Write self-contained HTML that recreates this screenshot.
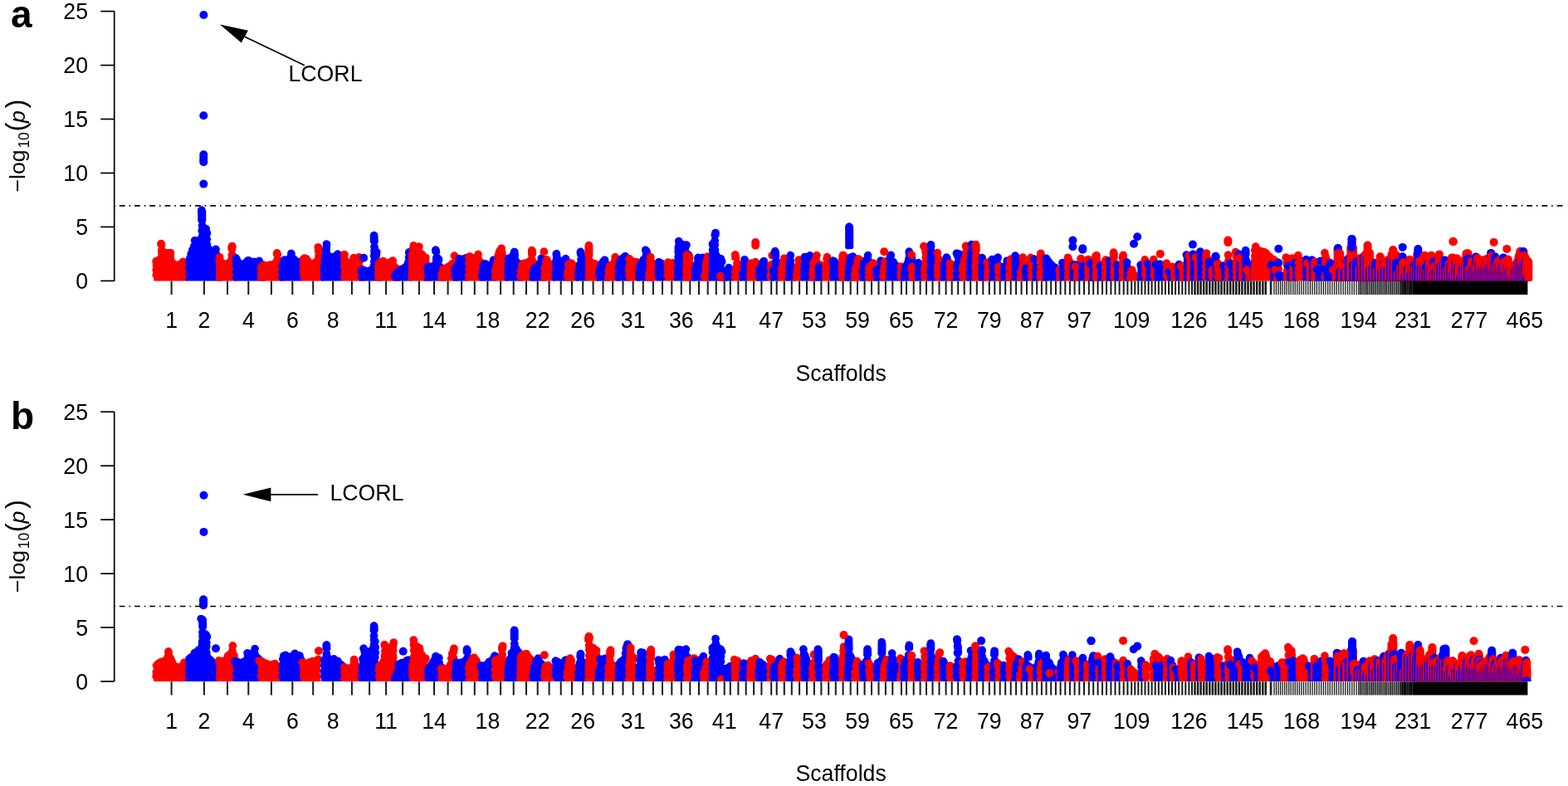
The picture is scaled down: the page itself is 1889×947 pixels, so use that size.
<!DOCTYPE html>
<html><head><meta charset="utf-8"><title>Manhattan plot</title>
<style>html,body{margin:0;padding:0;background:#fff;}svg{display:block}</style></head>
<body><svg width="1889" height="947" viewBox="0 0 1889 947" font-family='"Liberation Sans", Arial, Helvetica, sans-serif' fill="#000">
<defs><clipPath id="clipP"><rect x="138" y="0" width="1745" height="338.4"/></clipPath></defs>
<rect width="1889" height="947" fill="#fff"/>
<g transform="translate(0,0)">
<text x="13" y="32.8" font-size="46" font-weight="bold">a</text>
<path d="M137.7,338.4V13.5" stroke="#000" stroke-width="1.7" fill="none"/>
<path d="M121.2,338.4H137.7" stroke="#000" stroke-width="1.7"/>
<text transform="translate(106,348) scale(1,1.06)" text-anchor="end" font-size="26.7">0</text>
<path d="M121.2,273.4H137.7" stroke="#000" stroke-width="1.7"/>
<text transform="translate(106,283.1) scale(1,1.06)" text-anchor="end" font-size="26.7">5</text>
<path d="M121.2,208.5H137.7" stroke="#000" stroke-width="1.7"/>
<text transform="translate(106,218.1) scale(1,1.06)" text-anchor="end" font-size="26.7">10</text>
<path d="M121.2,143.5H137.7" stroke="#000" stroke-width="1.7"/>
<text transform="translate(106,153.1) scale(1,1.06)" text-anchor="end" font-size="26.7">15</text>
<path d="M121.2,78.6H137.7" stroke="#000" stroke-width="1.7"/>
<text transform="translate(106,88.2) scale(1,1.06)" text-anchor="end" font-size="26.7">20</text>
<path d="M121.2,13.6H137.7" stroke="#000" stroke-width="1.7"/>
<text transform="translate(106,23.2) scale(1,1.06)" text-anchor="end" font-size="26.7">25</text>
<g transform="translate(29.5,231) rotate(-90)" font-size="26.7"><text x="-0.5" y="0">&#8722;log</text><text x="52.4" y="5.2" font-size="17.5">10</text><text x="72.4" y="0" font-size="32.7">(</text><text x="83" y="0" font-style="italic">p</text><text x="100.5" y="0" font-size="32.7">)</text></g>
<g clip-path="url(#clipP)">
<path d="M183.9,317.9L183.5,320L184.2,322.1L183.3,325.5L184.3,328.3L183.4,331.6L184,333.4L185.2,335.1L185.2,342L185.9,343.7L187.6,344.4L222.9,344.4L224.7,343.7L225.3,342.4L225.3,337.6L227,334.2L226.8,332.4L226,330.7L227,328.1L226.3,325.2L227.1,322.9L226.5,320L227.2,316.8L226.7,315L223.8,311.5L221.1,310.4L218.4,310.9L216.9,312.1L215.9,313.7L212.9,314.8L210.6,312.8L209.7,309.8L210.3,305.1L209.8,302.3L208.6,300.8L206.9,299.9L199.9,300L198.4,297.8L199.4,295.9L199.1,293.1L197.8,290.5L196.3,289.3L194.4,288.8L192.5,289L190.8,289.9L189.6,291.4L189.1,293.3L189.3,295.8L190.9,298.2L189.9,300.9L190.4,307.7L188.8,309.6L185.9,310.2L183.8,312.3L183.3,315Z" fill="#ff0000"/>
<path d="M224,310.2L223.4,317.2L224.4,319.8L223.4,321.7L223.2,323.6L224.5,326.7L223.2,329.8L224.2,333.2L223.4,336.4L223.9,338.2L225.1,339.7L225.2,342.4L225.9,343.7L227.6,344.4L265.5,344.4L267.2,343.7L267.9,342L267.9,335L269.1,333.3L269.6,331.5L269.4,329.7L267.9,327.3L269,325.8L269.6,324.1L268.7,320.8L269.8,318L269.6,316.1L267,312.7L265.7,309.9L265.3,304.9L264.3,303L265,300L263.8,297.3L262.3,296.1L259.6,295.5L257.8,296.1L256,297.6L254.1,296L254,293.2L253.1,291.4L253.9,289.6L254.1,287.8L252.9,284.8L254.1,282.6L254.1,279.6L252.9,277.4L253,275.4L252.5,273.6L251.3,272.1L248.5,270.7L247.2,268.6L248.3,266.5L248.2,254.1L246.7,250L244.4,248.5L242.5,248.3L239.7,249.4L238.5,250.9L238,252.7L238.3,266.3L238.7,267.7L239.9,268.5L238.6,271.5L239.5,274.9L238.6,276.6L238.4,278.6L239.7,281.8L238,285.7L235.1,284.7L233.1,284.9L231.5,285.9L230.3,287.4L229.7,290.1L230.7,292.6L229.3,294.8L229.1,296.8L227.2,299.5L227,302L225.4,304.4L225.5,307.8Z" fill="#0000ff"/>
<path d="M260.2,317L259.7,319.4L260.5,321.8L259.7,325L260.6,327.6L259.6,330.4L259.8,332.3L260.5,333.8L259.8,336.9L260.3,338.6L261.3,340L261.5,342.6L262.1,343.7L263.8,344.4L283.3,344.4L285,343.7L285.7,342L285.7,336.2L287,334.4L287.5,332.5L287.3,330.7L286.4,328.9L287.6,326L287,323.1L287.7,320L286.4,317L287.4,315L287.6,313.1L287.1,311.2L284.6,308.4L284.1,305.1L282.8,302.9L284.1,301.8L284.6,297L284.1,294.3L282.9,292.8L281.2,291.9L278.3,291.9L276.6,292.8L274.9,295L274.4,297.1L274.3,300.8L275.1,302.5L276,302.9L274.5,306.2L274.9,308.9L274.3,312.1L271.8,313.5L270.4,313.3L269.3,311.9L269.2,308.2L268.3,306.5L266,305L263,305L261.3,305.9L259.8,308.2L259.4,314.1Z" fill="#ff0000"/>
<path d="M280,313.7L279.9,315.7L280.5,317.8L279.9,320.7L281.4,324L280.3,325.5L279.8,327.3L280,329.3L281.1,331.3L280.2,333.1L280,334.9L280.5,336.7L281.7,338.2L281.8,342.4L282.4,343.7L284.1,344.4L316.9,344.4L318.7,343.7L319.4,342L319.4,336.2L320.5,334.5L321.1,332.7L320.2,329.4L321.1,326.9L320.5,324L321.3,321.6L321.3,318.7L320.1,315.9L317.2,314.2L316.5,312.1L315.3,310.6L313.6,309.7L311.7,309.5L308.5,311L306.9,310.6L304.6,310.9L300.3,309.1L298.4,308.9L295.6,310L292.5,313.4L290.8,313.4L288,307.8L285.7,306.3L283.8,306.1L281,307.2L279.8,308.7L279.3,311.4Z" fill="#0000ff"/>
<path d="M311.1,326.1L309.6,329.4L309.8,331.3L310.6,333L309.9,336.2L310.4,337.9L311.5,339.4L311.6,342.4L312.3,343.7L314,344.4L337.9,344.4L339.6,343.7L340.4,341.1L341.7,339.4L342.3,337.6L342,335.7L340.7,333.4L341.7,332L342.3,330.1L342.1,328.2L341,326.2L342,324.2L342.3,322.2L340.9,319.1L341.8,317.2L342,315.4L341.5,313.6L339.1,311.4L338.1,309.4L338.9,307.9L339,306.3L338.4,303.4L337.5,301.7L336,300.5L334.2,300L331.5,300.5L330,301.7L329,303.4L328.8,305.3L329.2,307.9L330.3,309.4L329.1,313L326.7,314.5L324.3,314.2L321.3,315.5L318.5,314.4L316.5,314.6L311.9,317.9L310.1,320L309.6,321.9L309.8,323.9Z" fill="#ff0000"/>
<path d="M336.5,323.9L335.1,327.2L335.3,329.2L336.1,330.8L335.3,332.4L335.1,334.3L335.7,336.1L336.9,337.7L337,342.4L337.7,343.7L339.4,344.4L360.8,344.4L362.5,343.7L363.1,342.4L363.2,340L364.6,338.3L365.1,336.5L364.9,334.6L364,332.7L364.9,329.4L363.5,326.4L364.9,323.3L364.7,321.4L363.7,319.5L364.9,317.4L364.9,314.4L363.3,312.1L361.6,311.1L359.4,310.9L358.1,309.3L355.9,308.3L355.6,304L354.1,301.7L351.3,300.6L348.6,301.1L347.1,302.3L346.2,304L346.1,307.1L345.7,308.3L341.1,308.4L338.8,310L337.9,311.7L337.3,316.3L335.7,318.1L335.2,320L335.4,321.9Z" fill="#0000ff"/>
<path d="M362.1,316.1L361.1,317.5L360.5,319.3L361.4,322.7L360.6,326.1L361.4,328.5L360.8,330.5L361,332.3L362.4,334.8L362.4,342L363.1,343.7L364.8,344.4L387.5,344.4L389.2,343.7L389.9,342L389.9,336.5L391.3,334.6L391.8,332.8L390.9,329.4L391.6,326.4L390.7,323.9L391.6,320.6L390.5,317.8L391.4,316L391.6,314.2L391.1,312.4L389.9,310.9L389.6,308L388.1,305L388.8,302.7L388,299.4L388,296.4L387.1,294.7L384.8,293.2L382.9,293L380.1,294.1L378.9,295.6L378.4,297.5L379.1,301L378.8,303.2L379.9,305.5L379.2,307.7L379.4,309.7L377.8,312.2L375.9,312.7L373.9,310.7L372.9,308.7L371.4,307.5L367.2,306.3L365.3,306.5L362.3,308.4L360.7,310.8L360.7,313.8Z" fill="#ff0000"/>
<path d="M385.6,319.8L385.3,322.3L386,324.5L385.4,327.4L386.9,330.6L385.5,332.9L385.3,334.8L385.8,336.6L387.1,338.3L387.2,342.4L387.9,343.7L389.6,344.4L410.3,344.4L412.1,343.7L412.7,342L412.7,334.7L413.9,333L414.4,331.2L413.5,327.9L414.4,326.1L414.6,324.1L413.5,321.2L414.5,318.6L414.3,316.8L413.5,315.1L414.6,312.3L414.4,310.4L413.5,308.8L411.6,307.3L411.5,304.7L410.6,303L408.3,301.4L406.4,301.2L404.5,301.8L401.3,305.1L399,304.8L397.8,303.4L398.2,292.6L397.2,290.9L394.9,289.4L393,289.2L391.2,289.7L389.7,290.9L388.7,292.6L388.8,295.9L387.7,301.3L388.3,304.3L387.1,307.4L387.8,310.4L386.3,313.6L387.2,316.9Z" fill="#0000ff"/>
<path d="M410,307.5L411,309.6L410.1,312.9L410.5,316.7L411.2,318.3L410.2,320.2L410,322.1L411.6,325.5L410.3,328.4L411,331.4L410.2,334.5L410.7,336.3L411.9,337.9L412,342.4L412.7,343.7L414.4,344.4L437.2,344.4L438.9,343.7L439.5,342.4L439.6,337.3L441.3,333.9L441.1,332L440.1,330.2L441.3,328.1L441.5,326.2L440.9,324.4L438.8,322.2L438.2,320.3L436.6,318.4L437.6,315.9L437.6,311L437.3,308.5L436.3,306.8L434.8,305.6L433,305.1L431.1,305.3L428.9,306.6L426.5,305.8L424.6,306L422.9,306.9L421.7,308.4L421,312L419.9,311.4L419.1,309.6L419.9,307.1L419.4,304.4L417.3,302.3L414.6,301.7L412.7,302.3L411.1,303.6L410.2,305.1Z" fill="#ff0000"/>
<path d="M430.9,333.7L432.6,337.1L432.6,342.6L433.2,343.7L434.4,344.3L458.2,344.4L460,343.7L460.6,342.6L460.7,337L462,335.2L462.5,333.4L462.3,331.5L461.4,329.7L462.3,327.3L461.5,324.2L462.5,321.5L462.6,317.7L462,315.9L460.8,314.4L456.4,312.6L457.8,308.9L458.6,303.2L458.1,301.4L456.1,299.4L455.6,295.9L454.5,293.8L455.6,292.7L455.8,291.8L455.3,282.1L454.4,280.4L452.1,278.9L450.2,278.7L447.5,279.8L446.3,281.3L445.7,283.2L445.8,291.7L446,292.6L447.4,293.8L446,296.9L446.8,300.1L446,302.4L446.6,305.3L445.8,308.6L447,312L445.9,314.9L446.4,317.7L445.3,321.1L442.3,322.3L440.3,321.1L435.1,320.6L433.3,321.1L431.8,322.3L430.9,324L430.7,327.6L431.8,330.5Z" fill="#0000ff"/>
<path d="M451.9,319.2L450.9,321.8L451.1,323.7L452,325.4L450.9,328.1L451.1,329.9L451.9,331.5L451,334.8L451.5,336.6L452.6,338L452.7,342.4L453.3,343.7L455,344.4L479.3,344.4L481,343.7L481.7,342L481.7,335.3L482.9,333.5L483.5,331.7L483.3,329.9L482.5,328.3L483.5,326.4L483.7,323.5L482.5,320.7L479.2,318.7L477.7,317L477.9,312.7L476.4,310.4L474.7,309.5L472.8,309.3L470.9,309.8L467.7,312L466.1,312.3L463.9,310.3L462.1,309.8L457.5,310.8L452.7,314.1L451.6,316.9Z" fill="#ff0000"/>
<path d="M471.9,335.8L473.2,337.6L473.3,342.6L473.9,343.7L475,344.3L493.3,344.4L495.1,343.7L495.7,342.4L495.8,338.3L497,336.8L497.6,335L496.6,331.6L497.7,328.7L497.5,326.8L496.7,325.2L497.6,321.9L496.5,319.1L497.8,316L497,312.8L497.7,310.4L497.4,307.9L498.5,304.8L497.3,301.4L495,299.6L493.2,299L491.3,299.2L489.6,300.2L488.4,301.7L487.8,304.4L488.7,306.9L487.7,310L488.4,313L487,315.2L486.7,317L484.2,319.2L481.8,319.9L479.8,321.8L476.8,323.3L471.8,329.1L471.3,331L471.4,334Z" fill="#0000ff"/>
<path d="M492.1,320.7L491.5,324L492.3,326.3L491.4,329.6L492.4,332.3L491.5,334L491.3,335.9L491.9,337.8L493.2,339.4L493.3,342.4L493.9,343.7L495.7,344.4L517.4,344.4L519.2,343.7L519.8,342.4L519.9,338L521,336.5L521.6,334.7L521.4,332.9L520.5,331.2L521.5,328.6L521.3,326.8L520.5,325.1L521.8,321.5L521.5,319.5L520,317.2L517.5,315.9L517.2,314.3L517.7,310L516.7,307.4L515.2,306.2L513.2,305.6L511.9,302.9L508.7,300.9L509.7,297.6L509.5,295.6L508.6,294L507.1,292.8L504.4,292.2L502.2,292.9L500.6,291.6L497.8,291L495.1,292.1L493.9,293.7L492.8,300.3L493.4,303.1L492.2,304.7L491.6,306.4L492.5,309.7L491.6,312.1L491.8,313.9L492.6,315.5L491.6,318.1Z" fill="#ff0000"/>
<path d="M510.6,329.9L512.3,333.3L510.8,335.6L510.6,337.4L511.2,339.1L512.3,340.6L512.4,342.6L513,343.7L514.1,344.3L533.6,344.3L534.7,343.7L535.4,341.3L537.1,338.8L537.4,336.9L536.2,334L537.1,332.2L537.3,330.3L535.8,327.1L537.1,324.7L537.1,321.6L535.6,319.3L532.9,318.1L532.1,316.6L533.3,314.2L533.3,311.2L532.4,309.5L529.2,306.3L530.2,304.4L529.9,300.7L528.6,298L526.3,296.4L524.4,296.2L522.6,296.8L521.1,298L520.2,299.7L519.9,301.6L520.6,305.5L522.5,306.5L521,309.7L521,315.2L518.7,317.2L515.7,316.5L513,317L511.5,318.2L510.6,319.9L510.3,323.9L511.4,326.7Z" fill="#0000ff"/>
<path d="M527.1,336L528.9,339.5L528.9,342.6L529.5,343.7L530.7,344.3L550,344.4L551.8,343.7L552.4,342.4L552.5,337.8L553.8,336.2L554.3,334.4L554.1,332.5L553.2,330.7L554.1,328.8L554.3,326.9L553.2,324L553.9,322.5L554.4,318.8L553.8,316.9L552.6,315.4L550.9,314.5L548.8,314.2L547.2,313.2L548.9,312.9L550.6,311.9L552.1,309.7L552.3,307.7L551.8,305.9L549.7,303.8L547.9,303.3L545.9,303.5L544.3,304.4L543.1,305.9L542.5,307.7L542.7,309.7L543.7,311.3L545.3,312.6L543.6,312.9L541.7,313.9L540.2,316L536.8,317.8L535.3,319.5L532.3,319.5L530.7,320.4L529.6,321.8L529.1,323.6L529.4,326.1L527.7,328.2L527.1,330L527.8,333Z" fill="#ff0000"/>
<path d="M543.6,325.4L544.8,328.7L543.7,330.7L543.5,332.6L544.1,334.5L545.4,336.3L545.4,342L546.1,343.7L547.8,344.4L561.6,344.4L563.3,343.7L564,342L564,336.8L565.2,335L565.7,333.2L565.5,331.4L564.8,329.8L565.7,328.1L565.9,326.2L564.6,323.1L565.6,321.2L565.8,319.3L564.6,316.2L565.4,314.5L565.9,310.6L564.8,307.8L562.5,306.3L560.5,306.1L556.6,307.7L553,306.8L550.3,307.9L548.7,310.2L548.2,314.7L548.4,316.8L546.4,318.4L544,321.7L543.5,323.5Z" fill="#0000ff"/>
<path d="M560.2,311L561.3,314.3L560.5,315.8L560.3,317.6L560.9,319.4L561.9,320.8L560.8,322.3L560.3,324L560.5,325.8L561.8,328L560.6,329.6L560,331.5L560.7,334.6L560.2,337.4L560.7,339.2L561.9,340.7L562.1,342.6L562.7,343.7L564.4,344.4L581.7,344.4L583.4,343.7L584,342.4L584.1,339.3L585.2,337.9L585.8,336.1L585.6,334.3L584.1,332L585.2,330.5L585.8,328.7L585.6,326.9L584.6,325.1L585.7,322.3L585.4,319.8L586,316.9L584.8,314.2L580.9,311.4L580.2,309.5L581,305.9L579.8,303.2L577.5,301.7L574.6,301.7L572.3,303.2L571,306.2L570.4,306.6L569.2,305.2L567.5,304.3L564.5,304.3L561.8,305.7L560.6,307.2L560.1,309.1Z" fill="#ff0000"/>
<path d="M576,333.5L577.7,337L577.7,342.6L578.3,343.7L579.4,344.3L595.7,344.4L597.4,343.7L598.1,342L598.1,335.9L599.3,334.2L599.8,332.4L599.1,329.3L599.9,326.2L599.1,323.9L600.1,321.3L599.5,312.8L599,310.9L597.8,309.4L596.1,308.5L593.1,308.5L591.4,309.4L590.2,310.9L589.4,314.9L586.1,313.3L584.1,313.1L580.5,314.5L578.3,317L577.2,319.8L578,323.2L576.7,324.9L576.2,326.7L577,330L576.2,331.6Z" fill="#0000ff"/>
<path d="M591.7,334.2L593.3,337.6L593.3,342.6L593.9,343.7L595,344.3L609.7,344.4L611,343.7L611.6,342.6L611.7,339.5L612.8,338.1L613.3,336.3L613.1,334.5L611.9,332.4L613.2,330.2L613.4,328.4L612.9,326.6L611.7,325.1L612.8,323.7L613.4,321.9L612.6,318.7L613.5,315.4L612.1,312.3L611.7,308.8L609.5,306.6L609.6,304.2L608.7,301.1L608.8,297.7L607.9,296L605.6,294.4L602.7,294.4L601,295.4L597,301.4L596.8,303.8L595.8,305.7L595.2,309.6L596,312.7L594.8,314.7L594.4,317.7L593.1,320.4L592.9,323.7L591.6,326.7L591.8,328.6L592.8,330.5L591.9,332.3Z" fill="#ff0000"/>
<path d="M607.1,335.8L608.8,339.3L608.8,342.6L609.4,343.7L611.1,344.4L626.9,344.3L628,343.7L628.8,341.1L630.4,338.7L630.4,335.7L628.9,333.4L629.9,332L630.4,330.2L630.2,328.4L629.3,326.5L630.4,323.6L630.2,321.7L629,319.6L629.5,317.8L629.3,315.9L627.8,313.7L625.7,312.6L624.6,310.6L624.9,307.8L624.4,302L623.5,300.3L621.2,298.7L618.2,298.7L616.5,299.7L615.3,301.2L614.5,304.6L613.7,306L610.1,307.3L607.8,310.9L607.6,312.9L608.4,315.3L607.4,318L608.1,321.1L607.3,324.4L608.2,326.8L607.2,329.4L608,332.5Z" fill="#0000ff"/>
<path d="M623.5,323L622.8,327.3L623.4,329.4L622.6,330.9L622.4,332.9L623,334.7L624.2,336.5L623.9,341.9L624.6,343.7L626.3,344.4L645.4,344.4L647.1,343.7L647.8,342L647.8,335.3L649,333.5L649.5,331.7L649.3,329.9L648.6,328.3L649.4,325.9L648.8,322.9L649.8,320.2L649.7,317.9L648.5,315.2L645.8,312.8L644.3,309.1L645.6,308.3L646.1,306.9L646.1,303.4L645.5,300.2L643.9,297.9L642.2,296.9L640.3,296.7L638.5,297.3L637,298.5L635.8,301.2L636.1,307.4L636.7,309.3L634.5,311.8L628.7,312.9L626.4,314.4L624.4,317.9L624.2,319.8L624.6,321.5Z" fill="#ff0000"/>
<path d="M637.4,336.7L638.9,339.3L638.9,342.5L639.5,343.7L640.6,344.3L654.3,344.4L655.6,343.7L656.2,342.6L656.4,341.1L657.6,339.5L658.1,337.7L657.5,334.7L658.1,331.8L656.6,328.7L657.7,327.3L658.2,325.4L658,323.5L657,321.4L658.3,318.3L657.7,315.3L658.2,312.5L656.7,308.9L654.6,306.8L652.7,306.3L650.8,306.5L648.5,308L647.4,310.7L647.6,314.1L646.5,315.1L645.4,317.3L642.9,317.9L641.3,319.1L639.2,322.5L637.3,327.9L637.5,329.8L638.5,331.8L637.2,334.9Z" fill="#0000ff"/>
<path d="M652.9,342.6L653.5,343.7L654.8,344.4L665,344.3L666.1,343.7L666.8,342.6L666.9,340.7L668.3,339L668.8,337.1L668.6,335.2L667.6,333.2L668.6,330.5L667.8,327.4L668.5,324.3L667.3,321.4L668.1,318.9L667.9,317L666.4,314.8L664.3,313.7L662.4,309.7L660.9,308.5L659.1,307.9L656.4,308.1L654.3,310.6L653.2,316.5L653.4,318.7L652.1,320.3L651.5,322.1L651.7,323.9L652.7,325.8L651.5,328.6L652.2,331.7L651.4,333.3L651.2,335.2L651.7,337L652.9,338.8ZM654.9,308.1L658.5,306.9L659.7,305.4L660.2,303.6L660,301.7L659.1,300L657.6,298.8L655.7,298.2L653.8,298.4L652.1,299.4L650.9,300.9L650.4,302.7L650.6,304.6L651.5,306.3L653,307.5Z" fill="#ff0000"/>
<path d="M665.5,312.3L664.9,315.2L665.9,317.9L665.1,319.6L664.9,321.4L666.1,324.3L665,325.7L664.5,327.6L664.7,329.5L665.5,331.2L664.7,332.9L664.5,334.7L666,337.8L666,342.4L666.6,343.7L668.4,344.4L685,344.4L686.7,343.7L687.4,342.4L687.5,339.6L688.6,338.1L689.1,336.3L688.9,334.5L687.6,332.3L688.8,330.8L689.3,328.9L689.1,327L688.3,325.4L689,322.3L688.2,320L689.1,318.3L689.3,316.4L688.2,313.6L686.4,312.1L686.1,310.2L685.2,308.5L682.9,307L681,306.8L678.2,307.9L676.4,310.2L675.6,309.5L675,304.2L674.1,302.5L671.8,301L669.9,300.7L667.2,301.9L665.6,304.2L665.4,306.1L666.1,311.1Z" fill="#0000ff"/>
<path d="M680,324.3L678.9,328.3L678.9,332.9L680.4,336.3L680.1,341.9L680.7,343.7L682.5,344.4L693,344.4L694.7,343.7L695.3,342.6L695.5,340.8L696.6,339.3L697.1,337.5L696.9,335.7L695.8,333.7L697.2,330.6L697,328.8L695.6,326.6L696.7,325.1L697.2,323.3L697.3,320.4L696.2,317.7L693.5,315.7L691.6,313.4L689.9,312.5L688,312.3L684.2,313.1L681.3,315.6L680.4,317.3L680.1,319.5L681.4,322.6Z" fill="#ff0000"/>
<path d="M692.5,331.1L691.9,334.8L692.4,336.6L693.7,338.3L693.6,342.3L694.2,343.7L696,344.4L703.5,344.4L705.3,343.7L705.9,342.6L706,340.5L707.4,338.8L707.9,336.9L707.7,334.9L706.5,332.8L707.6,330.7L707.9,328.8L707.3,327L706.3,325.5L707.4,324.1L707.9,322.2L707.7,320.2L706.9,318.6L707.6,315.5L706.3,312.5L707.7,310.3L707.9,308.4L706.7,305.6L704.6,303.9L703.2,300.2L700.9,298.6L699,298.4L697.2,299L695.7,300.2L694.7,301.9L694.5,303.8L695,307.2L696,309.9L695.2,312.3L695.5,314.8L694.1,317L694,319.6L692.6,322.7L693.2,325.7L692.1,328.6Z" fill="#0000ff"/>
<path d="M704.4,308.2L704.8,309.5L706.1,310.3L704.9,313.3L705.4,316.3L704.8,319.2L705.6,321.6L705,323.5L705.5,326.1L704.6,328.6L705.4,331.9L704.7,335.1L705.2,337L706.5,338.6L706.6,342.6L707.2,343.7L708.5,344.4L719.7,344.3L720.8,343.7L721.4,342.6L721.5,338.6L723.1,335.2L722.9,333.4L722.2,331.8L723.1,330L723.3,328.2L722.7,326.4L721.6,324.9L723,322.7L723.4,318.4L722.9,316.5L721.7,315L716.9,312.7L714.7,312.4L713.5,310.5L714.4,308.5L714.4,295.2L713.2,292.5L711,290.9L709,290.7L707.2,291.3L705.7,292.5L704.8,294.1L704.4,297.4Z" fill="#ff0000"/>
<path d="M717.3,325.6L717,332.4L718.6,335.1L718.2,341.9L718.9,343.7L720.6,344.4L732.7,344.4L734.4,343.7L735.1,342L735.1,335.5L736.3,333.8L736.8,332L736.6,330.2L735.6,328.2L736.8,325.2L735.9,321.8L736.7,318.7L735.6,316.1L733.3,314.6L733.3,311.7L731.7,309.4L730,308.5L727.1,308.5L725.4,309.4L722.1,313.3L721,315.8L719.1,318.4L719,321.1Z" fill="#0000ff"/>
<path d="M728.8,333.8L728.1,337.7L728.6,339.5L729.7,341L730.4,343.7L732.1,344.4L744.2,344.4L745.9,343.7L746.6,342L746.6,335.8L747.8,334.1L748.3,332.3L748.1,330.5L747.1,328.5L748.5,325.3L748.3,323.4L747.3,321.3L748.5,318.2L748.5,313.4L748,311.5L746,309.1L745.5,307.4L743.4,305.3L740.7,304.8L737.9,305.9L736.4,308.2L736.4,313.1L735,315.1L732.5,315.8L730.4,317.9L729.7,320.8L729.9,323L728.5,326.1L729.3,329.5L728.5,331.8Z" fill="#ff0000"/>
<path d="M740.6,322.7L741.5,326.1L740.6,329.4L741.4,331.8L740.6,333.4L740.4,335.4L741,337.2L742.2,338.8L742.2,342.4L742.8,343.7L744.6,344.4L756.7,344.4L758.5,343.7L759.1,342.4L759.2,338.4L760.3,336.9L760.9,335.2L760.1,332.1L760.8,329.1L759.9,326.6L761,323.7L760.8,321.8L760,320L760.9,317.6L760.6,315.2L761.1,312.4L760.5,310.6L758.2,308.3L757.5,306.4L756.3,304.9L754.6,304L751.7,304L750,304.9L748.5,306.8L747,307.4L744.4,309.4L742.2,314.3L741.7,319.2Z" fill="#0000ff"/>
<path d="M753.7,318.6L753.1,327.6L753.8,329.9L753.2,332.7L754.9,336.2L754.7,341.9L755.4,343.7L757.1,344.4L768.3,344.4L770,343.7L770.7,342L770.7,335.5L771.9,333.8L772.4,332L771.6,328.8L772.5,327.1L772.7,325.1L771.5,322.2L772.4,319.7L772.6,315.5L771.5,312.8L769.2,311.2L763.6,310.6L761.3,307.9L759.6,307L757.7,306.8L755.9,307.3L753.8,309.4L753.2,311.2L753.4,313.2L754.9,316.5Z" fill="#ff0000"/>
<path d="M765.5,336L766.8,337.9L766.8,342.6L767.4,343.7L768.6,344.3L784.3,344.4L786.1,343.7L786.7,342.6L786.7,336.9L788.2,335L788.7,333.2L788.5,331.2L787.6,329.5L788.5,326.2L787.3,323.3L788.7,320.1L788,316.9L788.6,314L788.1,312.1L786.8,310.5L785.8,306.6L783.9,304.6L784,303.1L783.2,300.7L781.5,298.2L779.2,296.6L776.2,296.6L774.5,297.6L773.3,299.1L772.8,301.8L774,305.1L773.5,308.2L771.4,309.8L770.1,312.9L767.7,315.1L767.2,316.8L767.3,318.7L765.5,321.3L765.3,323.2L766.1,325.5L765.3,328.7L765.9,330.8L765,334.2Z" fill="#0000ff"/>
<path d="M777.4,328.9L777.5,338.2L778.9,340.4L778.9,342.5L779.5,343.7L781.3,344.4L787.8,344.4L789.6,343.7L790.2,342.4L790.3,338L791.6,336.3L792.1,334.5L791.3,331.3L791.9,328.4L790.8,325.6L792,322.6L792.2,318.5L791,315.8L788.6,313.9L788.3,312.2L788.6,309.2L788.1,307.4L786.9,305.9L785.2,305L783.3,304.8L781.5,305.3L780,306.5L779,308.2L778.3,317.3L779.3,319.8L778,322.8L778.6,325.8Z" fill="#ff0000"/>
<path d="M788.8,322.4L788.7,327.7L789.3,329.9L788.7,333L789.2,334.8L790.4,336.6L790.3,341.9L791,343.7L792.7,344.4L798.4,344.4L800.1,343.7L800.7,342.4L800.8,337.1L802.2,335.4L802.8,333.6L802.5,331.6L801.8,330.1L802.7,327.5L801.8,324.1L802.7,321.5L802.7,317.4L801.6,314.7L795.2,311L792.3,311L790.6,311.9L789.4,313.4L788.8,315.3L789.7,318.5Z" fill="#0000ff"/>
<path d="M799.5,315.5L799.4,319.3L800.4,321.1L799.5,324.4L801,327.5L799.8,329L799.2,330.8L799.4,332.7L801,335.2L800.9,342.6L801.5,343.7L802.8,344.4L811.5,344.3L812.6,343.7L813.2,342.6L813.4,339.4L814.8,337.7L815.3,335.8L814.5,332.6L815.1,329.7L813.9,326.8L815.3,323.6L814.5,320.2L815.7,317.1L815.2,314.4L814,312.9L812.3,312L810.4,311.8L808.2,312.5L806.3,311.5L804.4,311.3L802.5,311.8L801,313Z" fill="#ff0000"/>
<path d="M811.5,336.5L813,339.1L813,342.5L813.6,343.7L814.7,344.3L830.9,344.4L832.2,343.7L832.8,342.6L832.9,338.7L834.1,337.1L834.7,335.4L834.5,333.5L833.4,331.5L834.8,328.2L833.9,324.9L834.6,321.9L833.7,319.5L834.7,316.8L834.5,314.9L833.7,313.2L834.5,310.8L834.8,307.4L833.7,304.6L829.7,301.3L830.3,298.8L831.6,296.6L831.6,293.6L830.6,292L829.1,290.7L827.3,290.2L824.8,290.5L822.8,289.8L821,286.8L818.3,285.7L816.4,285.9L814.7,286.8L813.5,288.3L812.9,290.2L813.6,294.3L812.9,295.8L812.4,299.1L812.7,301.3L812.3,304L813.1,306.4L812.1,309.8L813.1,312.4L812.1,314.4L811.9,316.2L813,319L811.7,322L811.9,323.9L812.7,325.5L811.9,327.2L811.7,329L812.7,331.5L811.3,334.6Z" fill="#0000ff"/>
<path d="M822.6,324.8L822,328.3L823.5,331.5L822,333.9L821.8,335.8L822.3,337.6L823.5,339.2L823.5,342.4L824.1,343.7L825.9,344.4L835,344.4L836.7,343.7L837.4,342.4L837.5,339.1L838.7,337.6L839.2,335.8L838.4,332.6L839.1,329.7L838.1,327L838.9,325.4L839.3,321.6L838.2,318.9L834.5,316.3L835.6,310.3L835.1,307.6L833.9,306.1L828.9,302.5L826.9,302.2L825.1,302.8L823.6,304L822.7,305.7L822.5,307.6L823.1,309.8L822.5,317L823.2,319.2L822.1,322.1Z" fill="#ff0000"/>
<path d="M832.5,336.3L834.1,339.8L834.1,342.5L834.7,343.7L835.8,344.3L847.9,344.4L849.3,343.7L849.9,342.6L850,341L851.4,339.3L851.9,337.4L851.7,335.5L850.2,333.1L851.6,330.1L851.4,328.3L850.4,326.4L851.9,323.2L851.2,319.9L851.7,317.1L850.3,314.1L851.6,311.9L851.8,310L851.3,308.1L849.2,306L846.5,305.5L844.1,306.3L840.8,305.5L838.9,306L836.8,308.1L835.9,310.9L836.6,314.1L834.5,316.7L834.7,320.1L833.3,321.8L832.8,323.7L833.6,327L832.8,330.1L833.7,332.6L832.7,334.5Z" fill="#0000ff"/>
<path d="M845.4,335.6L845.2,342.3L845.8,343.7L847.6,344.4L852.5,344.4L853.8,343.7L854.4,342.6L854.5,340.7L855.8,339.1L856.3,337.3L856.1,335.3L854.7,333.1L856.1,330L855,325.9L856.1,323.1L855.3,319.7L856.3,316.7L856.1,312.8L857.4,309.6L856.8,306.9L855.6,305.4L853.9,304.5L852,304.3L850.2,304.8L848.7,306L847.7,307.7L847.8,311.1L846.7,313.3L846.6,315.7L845.4,318.5L845.6,320.4L846.4,322.1L845.4,324.8L846.1,328L844.6,330.1L844,331.8L844.2,333.6Z" fill="#ff0000"/>
<path d="M853.8,295.8L854.8,297.9L853.6,300.9L854.5,304.3L853.3,307.2L854.2,310.5L853.6,313.4L854.7,316.3L853.6,319.2L854.1,321.9L853.4,325L854.1,327.2L853.3,330.3L854.1,332.5L853.2,335.8L853.7,337.7L855,339.2L855.1,342.6L855.7,343.7L857,344.4L869.7,344.3L870.8,343.7L871.4,342.6L871.5,334.7L872.8,332.8L873.3,331L872.5,327.7L873.4,324.3L872.3,321.4L873.2,318.2L872.1,315.4L873.2,313.3L873.4,311.4L872.3,308.7L870,307.1L867.7,306.9L867.1,305.3L865.8,303.7L866.4,300.8L865.2,297.8L866.2,295.2L865.6,292.2L866.1,289.3L864.8,286.3L866.1,285.5L866.5,284.2L866.9,280.2L866.4,278.3L864.3,276.2L862.4,275.7L860.5,275.9L858.8,276.8L857.6,278.3L856.5,282.4L856.5,284.3L857.6,286.3L856.2,289.6L854.7,290.9L853.7,292.6Z" fill="#0000ff"/>
<path d="M869.5,344.2L870.6,346.1L871.7,346.4L875.2,346.1L876.3,344.2L876.3,324.4L875.2,322.5L871.6,321.6L870.6,322L869.5,323.8ZM867.3,319.6L871.2,320.1L872.7,319L873.9,317.5L874.4,315.6L874.2,313.7L873.3,312L871.8,310.8L870,310.3L868,310.5L866.4,311.4L865.2,312.9L864.6,314.8L864.8,316.7L865.8,318.4Z" fill="#0000ff"/>
<path d="M865.7,342.1L866.5,344.8L867.7,345.8L869.4,346.4L871.9,345.9L873.8,343.5L873.9,332.3L872.8,330.4L869.5,328L867.6,327.8L865.7,328.4L864.2,329.6L863.3,331.3L863.3,334.2L865.8,337.4Z" fill="#ff0000"/>
<path d="M873.1,329.9L871.6,332.2L871.4,334.2L872,336L873.2,337.6L873.2,342.4L873.8,343.7L875.6,344.4L880.1,344.4L881.4,343.7L882.1,340.9L883.7,338.6L883.9,336.7L883.3,334.6L884.1,331.4L883.1,328.7L884,325.3L883.8,323.4L882.4,320.4L881.2,318.9L879.5,318L877.6,317.8L875.8,318.3L874.3,319.5L873.4,321.2L871.9,326.2L872.2,328.1Z" fill="#0000ff"/>
<path d="M880.9,305.5L881.4,312.8L882.2,313.6L884.5,313.9L883.2,316.1L883.3,319.4L882.4,321.1L882.1,324.1L881.1,326.6L881.7,330.7L880.8,334L881.3,335.9L882.5,337.7L882.3,342.5L882.9,343.7L884.3,344.4L892.3,344.3L893.4,343.7L894,342.6L894.1,338.1L895.3,336.3L895.9,334.6L895.7,332.7L894.7,330.9L895.7,329L895.9,327.1L894.4,323.9L895.8,321.7L895.8,318.3L894.9,316.7L891.2,313.7L891.1,309L890.3,305.5L889.4,303.8L887.9,302.6L885.2,302L882.4,303.2Z" fill="#ff0000"/>
<path d="M890.5,331.3L890,334.9L890.5,336.8L891.8,338.4L891.7,342.4L892.4,343.7L894.1,344.4L900.2,344.4L901.9,343.7L902.6,342L902.6,336.7L904,334.9L904.5,333L904.3,331.2L903.5,329.5L904.3,327.8L904.5,325.9L903,322.7L904.1,320.7L904.5,317.4L904,315.5L902.1,313.5L901.5,310.7L900.3,309.2L898.6,308.3L896.7,308.1L894.8,308.6L893.3,309.8L892.4,311.5L892.2,313.4L892.8,318.9L891.7,322.3L892.3,325.4L890.4,328Z" fill="#0000ff"/>
<path d="M899.9,315.8L899.5,323.7L900.5,325.7L899.1,328.8L899.9,331.9L899,335.3L899.5,337.1L900.7,338.7L900.7,342.4L901.4,343.7L903.1,344.4L913.3,344.4L915,343.7L915.6,342.6L915.7,340.1L916.8,338.6L917.3,336.9L916.5,333.6L917.3,331.3L916.5,328.2L917.6,325.4L916.9,322.4L917.6,319.4L917,317.5L915,315.1L913.9,312.5L911.6,311L909.7,310.8L907.9,311.3L906.4,312.4L904.2,312.3L902.3,312.9L900.8,314.1Z" fill="#ff0000"/>
<path d="M909.4,332.5L911,335.1L910.8,341.9L911.4,343.7L913.2,344.4L923.3,344.4L925,343.7L925.7,342L925.7,335.7L926.9,333.9L927.4,332.2L927.2,330.3L926.3,328.5L927.5,326.4L927.7,324.5L927.1,322.6L925.7,320.6L924.8,316.5L924.9,313.2L924,311.5L922.5,310.3L920.6,309.8L917.9,310.3L916.4,311.5L914.8,313.8L912.7,317.9L912.5,320.4L910.6,323.1L910.4,325L911,327.1L909.4,329.5Z" fill="#0000ff"/>
<path d="M932.5,303.3L930.6,302.7L928.7,303L927,303.9L925.8,305.4L925.3,307.2L925.5,309.1L926.4,310.8L927.9,312L929.8,312.6L931.7,312.4L933.4,311.4L934.6,309.9L935.1,308.1L934.9,306.2L934,304.5ZM923.8,330.3L923.8,335.3L925.4,338.8L925.4,342.5L926,343.7L927.1,344.3L929.9,344.3L931,343.7L931.6,342.6L931.7,338.8L933.1,336.3L933.6,330.1L932.4,327.1L933.6,326.3L934.1,324.9L933.8,317.4L932.9,315.7L931.4,314.5L929.5,314L927.6,314.2L925.9,315.1L924.7,316.6L924.1,319.1L924.1,325.1L925,327Z" fill="#ff0000"/>
<path d="M927.1,334.8L928.9,338.4L928.8,342.4L929.5,343.7L931.2,344.4L938.4,344.3L939.6,343.7L940.2,342.6L940.2,337.9L941.6,336.1L942.1,334.3L941.5,331.3L942.2,328.2L941.3,325.6L941.9,323.7L941.4,321L942.2,318.4L942,315.4L941,313.7L938.4,311.5L939.2,309.7L939.2,304.4L938.1,300.4L936,298.3L934.2,297.7L932.2,297.9L930.6,298.9L929.4,300.4L928.8,302.2L929.2,309.4L929.7,310.7L931.1,311.5L929.8,314.5L930.5,318.8L927.8,322.5L927.2,324.3L927.2,328L928.3,330.8L927.3,332.8Z" fill="#0000ff"/>
<path d="M938.5,316.7L938.7,319.9L937.2,321.9L936.7,323.7L936.9,325.7L937.7,327.4L936.6,330.3L936.8,332.2L937.8,334.1L936.7,336.9L936.9,338.7L938.3,341L939,343.7L940.1,344.3L948,344.3L949.1,343.7L949.7,342.6L949.8,335.9L951.2,334L951.7,332.1L951.1,329.1L951.7,326.1L950.3,322.9L951.8,319.6L951.5,313.3L947.9,307.4L946.2,306.5L943.3,306.5L941.6,307.4L940.4,308.9L939.9,310.7L940,313.2Z" fill="#ff0000"/>
<path d="M947.1,314.7L946.9,316.7L947.4,318.6L946.3,320.1L945.8,322L946,323.9L947,325.9L946,328.5L946.8,331.7L945.9,333.5L945.7,335.4L946.2,337.2L947.4,338.7L947.4,342.6L948,343.7L949.3,344.4L957.5,344.3L958.6,343.7L959.2,342.6L959.3,338.6L960.5,336.9L961,335.1L960.9,333.2L960,331.5L960.9,329L961.2,324.5L960.1,321.8L957,319.6L957.2,313.7L956.1,310.9L957,309.1L957.2,307.2L956.7,305.4L955.5,303.9L953.8,303L951.9,302.7L950,303.3L948.5,304.5L947.4,307.2L947.6,309.1L948.5,310.9Z" fill="#0000ff"/>
<path d="M956.3,320.4L956.3,322.5L955.3,325L956,328.1L954.7,331.2L955.5,334.4L954.7,336.7L954.9,338.5L956.4,340.8L956.5,342.5L957.1,343.7L958.8,344.4L965,344.3L966.1,343.7L966.8,342.6L966.8,335.6L968,333.9L968.5,332.1L968.3,330.3L967,328.1L968.5,324.9L968.3,323.1L967,321L968.3,318.9L968.7,314.4L968.5,312.4L967.6,310.8L966.1,309.6L962.7,308.3L960.8,308.5L959.1,309.4L957.9,310.9L957.4,312.8L957.6,314.7L958.4,316.4L956.9,318.3Z" fill="#ff0000"/>
<path d="M964.5,332.6L964,335L965.5,338.2L965.5,342.4L966.1,343.7L967.9,344.4L978.5,344.4L980.2,343.7L980.8,342.4L980.9,339L982.1,337.5L982.6,335.7L981.9,332.7L982.8,329.3L981.6,326.4L982.5,323.1L981.3,320.1L982.2,318.4L982.4,316.6L981.3,314L979.9,312.9L978.4,312.4L980.2,310.2L980.8,307.5L980.2,305.7L978.1,303.6L975.4,303.1L973.6,303.6L972,304.7L967.9,305L966.2,305.9L965,307.4L964.4,310.1L965.9,314.8L964.5,317.9L965.2,321L964.1,323.9L964.6,326.8L963.9,330Z" fill="#0000ff"/>
<path d="M974.4,337.5L976.6,343.7L977.7,344.3L988.9,344.4L990.2,343.7L990.8,342.6L991,339.4L992.4,337.1L992.6,335.3L991.7,332.7L992.5,331L992.7,329.1L991.5,326.2L992.8,323.1L992.6,317.6L991.1,315.3L987.7,313.5L987.7,310.9L988.8,308.1L988.6,306.2L987.7,304.5L985.4,303L982.4,303L980.1,304.5L979.2,306.2L979.1,308.8L977.9,311.5L976.4,313.3L975.2,316.3L975,318.2L976.1,320.9L974.6,324.1L975.4,327.3L974.4,329.1L974.2,331.1L975.4,334L974.5,335.7Z" fill="#ff0000"/>
<path d="M981.6,325.4L982.3,327L981.5,330.2L982.3,332.5L981.5,334.2L981.3,336L981.8,337.8L983,339.4L983,342.6L983.6,343.7L984.8,344.3L989.1,344.3L990.2,343.7L990.8,342.6L990.9,339L992.1,337.3L992.6,335.5L991.8,332.4L992.8,329.8L992.4,327.1L992.8,324.4L990.2,318L988.7,316.8L986.8,316.3L984.9,316.5L983.2,317.4L982,318.9L981.5,320.8Z" fill="#0000ff"/>
<path d="M990.2,319.1L990.2,325.4L990.8,327.6L989.9,330.1L990.5,333L989.8,336L990.4,337.8L991.5,339.3L991.6,342.6L992.2,343.7L993.3,344.3L1000.1,344.3L1001.3,343.7L1001.9,342.6L1001.9,334.9L1003.6,331.4L1003.4,329.6L1002,327.3L1003.1,325.8L1003.6,324L1002.8,320.9L1003.7,319.2L1003.9,317.2L1003.4,315.3L1001.2,312.5L1001.3,309.2L1000.8,307.4L998.7,305.3L996.9,304.8L994.9,305L993.3,305.9L992.1,307.4L991.2,311.9L991.9,315L990.7,317Z" fill="#ff0000"/>
<path d="M999,320.1L999.9,323.6L999.1,326.8L1000.2,329.5L998.9,331.7L998.7,333.6L999.3,335.5L1000.6,337.3L1000.6,342.6L1001.2,343.7L1002.5,344.4L1010.2,344.3L1011.3,343.7L1011.9,342.6L1012,336L1013.2,334.2L1013.8,332.4L1013.1,329.3L1013.8,326.1L1012.9,323.6L1013.9,321L1013.9,318.4L1013.3,316.6L1012.1,315.1L1010,314L1008.9,311.8L1007.2,310.4L1003.9,309.3L1002,309.5L999.7,311L998.7,312.7L998.7,315.7L999.8,317.6Z" fill="#0000ff"/>
<path d="M1009.5,320.4L1009.7,326.4L1011.1,328.7L1009.7,330.9L1009.5,332.7L1011.2,336.1L1011.1,342.6L1011.7,343.7L1012.8,344.3L1019.7,344.3L1020.8,343.7L1021.4,342.6L1021.6,340.5L1022.8,338.8L1023.4,337L1023.2,335.1L1022.3,333.4L1023.2,330L1022,327.1L1023.2,324.3L1022.3,321.1L1023.2,319.3L1023.4,317.4L1022.2,314.4L1023.2,312.5L1023.4,310.4L1022.3,307.6L1019.2,304.2L1017.5,303.3L1015.6,303.1L1013.7,303.6L1012.2,304.8L1011.3,306.5L1011.1,308.4L1011.7,310.5L1010.9,312.9L1011.3,315.4L1010.1,317.5Z" fill="#ff0000"/>
<path d="M1010.1,312.3L1010.2,317.1L1011.2,319.8L1010.1,322.8L1010.3,324.7L1011.2,326.5L1010.4,328.1L1010.2,330L1010.7,331.8L1011.9,333.3L1010.5,335.5L1010.5,338.3L1011.9,340.6L1012.1,342.6L1012.7,343.7L1014.4,344.4L1020.9,344.3L1022.1,343.7L1022.7,342.6L1022.7,335.1L1024.4,331.7L1024.2,329.9L1023.3,328.2L1024.2,326.3L1024.4,324.5L1023.3,321.7L1024.7,318.4L1024.5,316.5L1023.5,314.5L1024.2,312.2L1024,310.4L1022.6,308.2L1020.6,307.2L1019.9,305.1L1018.7,303.6L1017,302.7L1014,302.7L1012.3,303.6L1010.8,305.9Z" fill="#ff0000"/>
<path d="M1017.5,321.2L1017.7,323.2L1018.5,324.9L1017.6,326.6L1017.4,328.5L1018.6,331.3L1017.1,333.6L1016.9,335.4L1018.4,338.6L1018.3,342.3L1018.9,343.7L1020.7,344.4L1031.4,344.4L1033.1,343.7L1033.8,342L1033.8,334L1035,332.2L1035.5,330.4L1034.8,327.4L1035.5,324.4L1034.5,321.8L1035.4,319.3L1034.9,316.6L1035.7,313.4L1035.1,311.6L1032.7,309.2L1031.9,306.9L1030.7,305.4L1029,304.5L1027.1,304.3L1022.8,305.7L1021.3,306.9L1019.7,310L1019,314.5L1019.4,317.1L1018.1,318.7ZM1023.5,268.3L1021.6,268.6L1019.9,269.5L1018.7,271L1018.1,272.8L1018.2,298L1019.3,299.9L1020.4,300.2L1027.1,299.9L1028.2,298L1028.2,273.9L1027.7,271.8L1026.8,270.1L1025.3,268.9Z" fill="#0000ff"/>
<path d="M1025.8,323.5L1026.1,327.3L1024.8,330.3L1025.6,333.6L1024.8,336.9L1026.3,340.1L1026.3,342.5L1026.9,343.7L1028.7,344.4L1039.2,344.4L1040.9,343.7L1041.6,342.4L1041.7,338.6L1042.9,337L1043.4,335.2L1043.2,333.3L1042.3,331.5L1043.1,329.8L1043.3,327.9L1042.8,326.2L1041.7,324.7L1042.8,323.2L1043.3,321.4L1042.4,318L1043.3,316.3L1043.5,314.4L1042.4,311.6L1040.2,310L1038.4,309.6L1037.2,308.2L1035.6,307.3L1032.6,307.3L1030.9,308.2L1029.7,309.7L1028.5,312.9L1028.7,316.4Z" fill="#ff0000"/>
<path d="M1035.8,315.7L1035.2,320.3L1036.2,322.9L1034.9,324.6L1034.3,326.5L1034.6,328.4L1035.7,330.5L1034.6,332.5L1034.4,334.3L1035.9,337.6L1035.8,342.3L1036.4,343.7L1038.2,344.4L1049.2,344.4L1050.9,343.7L1051.6,342L1051.6,336.6L1052.8,334.9L1053.4,333.1L1052.5,329.9L1053.4,326.7L1052.4,324L1053.4,321.3L1053.2,319.2L1053.5,316.5L1052.4,313.7L1049.7,311.2L1050.5,307.2L1049.4,304.5L1047.9,303.3L1046,302.7L1044.1,303L1042.4,303.9L1040.9,306.2L1040.7,309.8L1039.2,312.3L1036.7,314Z" fill="#0000ff"/>
<path d="M1042.4,337L1043.7,338.8L1043.7,342.6L1044.3,343.7L1045.5,344.3L1056.7,344.4L1058,343.7L1058.6,342.6L1058.6,335.2L1059.8,333.5L1060.4,331.7L1059.6,328.6L1060.3,325.6L1059.5,323.3L1060.2,320.2L1059.1,317.5L1057,315.9L1055.9,314L1054.4,312.8L1052.6,312.3L1049.9,312.8L1044.9,317.3L1042.6,320.5L1042.1,323.2L1042.7,325.3L1042,328.6L1043,331.4L1042.1,333.2L1041.9,335.1Z" fill="#ff0000"/>
<path d="M1051.1,324.2L1052.2,328.6L1051.2,330.5L1051.1,332.3L1052.6,335.7L1052.3,341.9L1053,343.7L1054.7,344.4L1063.8,344.4L1065.5,343.7L1066.1,342.4L1066.2,338.2L1067.5,336.5L1068.1,334.7L1067.9,332.8L1067,331.1L1068.1,328.4L1067.2,325L1068.1,322.3L1067.5,319.3L1068.1,316.4L1067.5,314.5L1064.3,310.4L1062.6,309.5L1060.7,309.3L1058.9,309.8L1057.4,311L1056.5,312.7L1056.2,314.6L1057.8,318.5L1056.7,319.7L1054.5,320L1052.3,321.5Z" fill="#0000ff"/>
<path d="M1060.5,329.1L1059.3,331.1L1059.1,333L1059.7,334.9L1060.9,336.7L1060.8,342.5L1061.4,343.7L1062.6,344.3L1065.9,344.3L1067,343.7L1067.6,342.6L1067.7,337.3L1069.3,334L1069.1,332.2L1068.2,330L1069.4,327.9L1069.3,324.3L1070.6,321.6L1070,318.5L1071.1,315.6L1070.9,313.7L1070,312L1067.7,310.5L1065.7,310.3L1063.9,310.8L1062.4,312L1061.5,313.7L1061.3,315.6L1061.8,317.6L1060.9,319.4L1060.6,321.6L1061,323L1059.8,325.9Z" fill="#ff0000"/>
<path d="M1068.4,339.5L1068.8,342.6L1069.4,343.7L1070.5,344.3L1082.9,344.3L1084,343.7L1084.7,342.6L1084.7,335.1L1086.1,333.2L1086.6,331.4L1086,328.4L1086.6,326.3L1086.3,324L1086.6,321.4L1086.1,319.6L1084.9,318.1L1081.2,315.3L1080.5,313.4L1079.3,311.9L1077.3,310.8L1078.1,307.8L1077.6,305.1L1076.4,303.6L1073.6,302.4L1071.7,302.7L1069.4,304.2L1068.5,305.9L1067.4,310.2L1067.6,312.1L1068.8,314.2L1067.4,317.1L1067.6,318.9L1068.6,320.7L1067.1,323.9L1067.9,327.1L1067.2,328.7L1066.9,330.6L1067.9,333.2L1067,336.5Z" fill="#0000ff"/>
<path d="M1081,329.6L1080.4,333.3L1082,337.5L1081.9,342.5L1082.5,343.7L1083.6,344.3L1087.4,344.3L1088.6,343.7L1089.2,342.6L1089.3,338.7L1090.8,336.4L1091,334.5L1090.1,332L1091.2,328.3L1090.6,325.6L1089.4,324L1090.1,321.6L1089.9,319.7L1089,318L1087.5,316.8L1085.7,316.3L1083.8,316.5L1082.1,317.4L1080.9,318.9L1080.3,321.6L1081.5,324.6L1080.6,327.2Z" fill="#ff0000"/>
<path d="M1085.1,337.8L1086.4,339.6L1086.4,342.5L1087,343.7L1088.1,344.3L1098.9,344.4L1100.6,343.7L1101.3,340.9L1103.1,338.4L1103.3,336.4L1102.1,333.5L1103.2,330.7L1103,328.7L1102.2,327.1L1103,324L1102.2,321.6L1103.1,318.2L1102,315.4L1103.2,312.5L1103.2,308.5L1102.1,305.7L1100.1,304.2L1099.6,300.9L1098.4,299.4L1096.8,298.4L1094.8,298.2L1093,298.8L1091.5,300L1090.6,301.7L1090.4,303.6L1091,308.7L1090.4,310.1L1090,313.6L1088.9,315.1L1088.3,317.5L1086.2,320.2L1086.1,323.4L1084.8,326.5L1084.8,329.3L1085.8,332L1084.8,334L1084.6,335.9Z" fill="#0000ff"/>
<path d="M1093.8,321.2L1093.9,326.3L1095.2,329.4L1094.1,331.4L1093.9,333.2L1095.4,336.6L1095.4,342.6L1096,343.7L1097.1,344.3L1102.5,344.3L1103.6,343.7L1104.2,342.6L1104.3,339.8L1105.6,338.2L1106.2,336.4L1105.9,334.5L1105,332.6L1106.1,329.6L1105.9,327.8L1105.2,326.2L1106.2,323.5L1106,321.6L1105.1,319.9L1103.6,318.7L1100.2,316.9L1098.3,316.7L1095.6,317.9L1094.4,319.4ZM1100.6,302.8L1098.7,302.2L1096.8,302.5L1095.1,303.4L1093.9,304.9L1093.4,306.7L1093.6,308.6L1094.5,310.3L1096,311.5L1097.8,312.1L1099.8,311.9L1101.4,310.9L1102.7,309.4L1103.2,307.6L1103,305.7L1102.1,304Z" fill="#ff0000"/>
<path d="M1101.2,333.4L1103,337.1L1102.9,342.4L1103.5,343.7L1105.3,344.4L1109.8,344.4L1111.1,343.7L1111.8,342.4L1111.9,338.6L1113.2,337L1113.7,335.1L1112.8,331.8L1113.8,328.4L1112.4,325.2L1113.4,323.3L1113.7,319.4L1113.2,317.6L1110.1,313.5L1108.6,312.3L1106.7,311.8L1104.8,312L1103.1,312.9L1101.9,314.4L1101.4,316.3L1102.8,323.5L1101.4,326.5L1102.3,329.8L1101.4,331.6Z" fill="#0000ff"/>
<path d="M1109.5,321L1109.2,327L1109.8,329.1L1109.2,332.2L1110,334.7L1109.4,337.5L1110.9,340.6L1111,342.6L1111.6,343.7L1112.7,344.3L1116.5,344.3L1117.7,343.7L1118.3,342.6L1118.4,339.6L1119.5,338.2L1120,336.4L1119,332.6L1120,330.5L1120.2,328.6L1119.1,325.3L1120.1,322.1L1119.5,319.2L1120.1,316.2L1119.2,313.8L1120.3,310.6L1119.4,307.2L1120.2,304.8L1120.2,300.4L1119.7,298.5L1117.8,296.5L1116.6,293.5L1115.1,292.3L1113.3,291.7L1111.3,291.9L1109.6,292.9L1108.4,294.4L1107.9,296.2L1108.4,298.9L1110,300.8L1110.4,304.8L1111.2,307.2L1110.3,309.8L1111.1,313.4L1110.2,315.9L1110.5,318.2Z" fill="#ff0000"/>
<path d="M1116.4,310.4L1117.1,314L1116.6,316.8L1117.6,319.4L1116.2,322.5L1116.9,325.7L1116.3,328.6L1117.6,331.6L1116.5,333.6L1116.3,335.4L1117.9,338.9L1118,342.6L1118.6,343.7L1119.7,344.3L1126.6,344.3L1127.7,343.7L1128.3,342.6L1128.4,336.7L1130,333.3L1129.8,331.5L1128.8,329.5L1130.3,326.3L1130.1,324.4L1128.9,322.3L1130.3,319.2L1129.6,316.1L1130.2,313.1L1129.1,310.2L1130.1,308.3L1130.3,306.4L1129.7,304.5L1128.5,303L1126.8,302L1125.6,299.2L1126.6,296.9L1125.7,292.6L1124.5,291.1L1122.8,290.2L1120.9,290L1119.1,290.5L1117.6,291.8L1116.6,293.4L1116.8,297.8L1117.9,299.2L1116.9,302L1117.2,305.3L1117.8,306.8L1116.6,308.9Z" fill="#0000ff"/>
<path d="M1125.3,317.5L1124.9,321L1125.7,323.3L1124.8,326.7L1125.9,329.6L1125.1,331.3L1124.9,333.1L1126.5,336.6L1126.5,342.6L1127.1,343.7L1128.2,344.3L1135.1,344.3L1136.2,343.7L1136.8,342.6L1136.9,337.4L1138.2,335.6L1138.7,333.7L1138.5,331.9L1137.8,330.3L1138.8,327.6L1138.1,324.6L1138.8,321.4L1137.9,318.8L1138.8,315.5L1137.6,312.8L1135.7,311.3L1135.1,309.6L1133.3,307.7L1134.3,305.1L1133.7,302.4L1132.5,300.9L1130.9,300L1128.9,299.7L1127.1,300.3L1125.6,301.5L1124.7,303.2L1124.7,306.1L1126.8,308.9L1125.8,311.5L1126.4,315.4Z" fill="#ff0000"/>
<path d="M1133.3,315.7L1132.5,321.1L1132.9,322.9L1132.6,325.4L1133.1,327.4L1132.5,330.4L1133.3,332.8L1132.4,334.6L1132.2,336.5L1132.8,338.3L1133.9,339.8L1134,342.4L1134.6,343.7L1136.4,344.4L1145.5,344.4L1147.2,343.7L1147.9,342.4L1148,338.2L1149.2,336.6L1149.8,334.8L1149.6,332.9L1148.2,330.7L1149.3,329.2L1149.9,327.3L1149.7,325.4L1148.7,323.5L1149.5,321.8L1149.7,320L1148.6,317.3L1146.9,316L1145.3,309.2L1143.6,306.4L1141.9,305.5L1140,305.3L1138.1,305.8L1136.6,307L1135.1,310.5L1135.1,313.7Z" fill="#0000ff"/>
<path d="M1139.8,319.6L1140.9,322.9L1139.6,325.1L1139.4,327L1140.9,330.3L1139.6,332.4L1139.4,334.3L1141.1,337.8L1141.1,342.6L1141.7,343.7L1142.8,344.3L1149.6,344.3L1150.8,343.7L1151.4,342.6L1151.4,335.2L1152.8,333.3L1153.4,330.6L1152.8,328.7L1151.5,327L1150.7,323.5L1149.5,321.4L1149.7,319.2L1148.8,315.1L1147.6,313.6L1145.9,312.7L1144,312.5L1142.1,313L1140.6,314.2L1139.7,315.9Z" fill="#ff0000"/>
<path d="M1147.7,306.6L1150.6,313L1148.9,315.5L1148.8,318.1L1148,320.4L1148.2,323.9L1149.4,326L1148.3,327.4L1147.8,329.3L1148,331.2L1148.8,332.9L1147.8,335.6L1148,337.5L1149.5,339.8L1149.6,342.4L1150.2,343.7L1151.9,344.4L1158.2,344.3L1159.3,343.7L1159.9,342.6L1160,335.3L1161.4,333.4L1162,331.5L1161.1,328.2L1161.8,325.1L1160.6,322.1L1161.8,319.2L1160.9,316L1161.7,312.8L1160.7,310.2L1161.7,308.3L1161.7,305.3L1160.7,303.7L1158.7,302.2L1153.9,300.5L1151,300.5L1149.3,301.4L1147.7,303.7Z" fill="#0000ff"/>
<path d="M1155,322.5L1155.3,327.6L1156.4,329.6L1155.1,331.7L1154.9,333.6L1155.5,335.4L1156.6,337.1L1156.6,342.4L1157.2,343.7L1159,344.4L1165.6,344.4L1167.3,343.7L1167.9,342.4L1168,339.2L1169.3,337.6L1169.9,335.8L1169,332.3L1169.8,329.9L1169.6,328L1168.9,326.4L1169.8,323.8L1169,320.6L1169.6,317.6L1169.1,315.9L1168,314.4L1169.2,312.8L1169.8,311L1169.1,308L1169.9,305.7L1169.2,300.6L1169.9,296.5L1169.4,294.6L1168.2,293.1L1165,291.6L1163.1,291.4L1161.2,292L1159.7,293.2L1158.8,294.8L1158.8,297.8L1160,300.2L1159.3,303.2L1159.5,305L1158.8,306.5L1158.6,308.9L1157.2,311.3L1156.9,313.2L1157.6,315.9L1155.9,318.4Z" fill="#ff0000"/>
<path d="M1163.4,335.4L1165.1,338.9L1165.1,342.4L1165.7,343.7L1167.5,344.4L1172.7,344.3L1173.9,343.7L1174.5,342.6L1174.5,338.9L1175.7,337.2L1176.3,335.4L1175.6,332.4L1176.2,329.5L1175.4,327.1L1176.2,324.9L1175.6,322.1L1176.4,318.9L1174.9,315.7L1176.1,313.6L1176.3,311.7L1174.9,308.6L1176,307.1L1176.5,305.2L1176.5,300.6L1175.9,298.8L1174.8,297.2L1175.4,295.1L1174.9,292.3L1173.7,290.8L1171,289.7L1169,289.9L1167.4,290.8L1166.2,292.3L1165.6,294.2L1165.8,296.1L1167.1,298.3L1164.8,307.5L1165.5,311.2L1163.9,313.7L1163.7,315.6L1164.7,318.1L1163.5,321.1L1163.7,323L1165,325.2L1163.9,326.7L1163.4,328.5L1164.3,332Z" fill="#0000ff"/>
<path d="M1170.8,301.9L1171.6,303.6L1172.6,304L1171.4,306.1L1170.9,310.3L1171.6,313.5L1171.1,315.5L1171.3,317.6L1170.6,320L1170.5,323.2L1171.7,326.2L1170.6,329L1170.8,330.9L1171.6,332.4L1170.5,334.5L1170.5,337.4L1172.1,339.8L1172.2,342.4L1172.8,343.7L1174.5,344.4L1180.3,344.3L1181.4,343.7L1182,342.6L1182.1,340.4L1183.2,339L1183.7,337.2L1182.9,334.1L1183.8,330.7L1182.4,327.7L1183.8,325.4L1184,323.5L1183.5,321.6L1182.5,320.1L1183.7,317.2L1183.5,315.4L1182.2,313.3L1183.2,310.7L1183,308.8L1179.5,304L1180.6,303L1180.8,302L1180.5,294.2L1179.9,292.3L1177.8,290.2L1176,289.7L1174.1,289.9L1172.4,290.8L1171.2,292.3L1170.6,294.2Z" fill="#ff0000"/>
<path d="M1178.1,312.7L1179.5,315.1L1178.3,318L1178.1,320.9L1178.8,324.2L1177.9,327.5L1178.6,329.8L1177.8,333.1L1178.4,334.9L1179.7,336.8L1179.7,342.6L1180.3,343.7L1181.4,344.3L1187.3,344.3L1188.4,343.7L1189,342.6L1189.1,336.4L1190.2,334.7L1190.8,333L1189.9,329.7L1190.8,326.5L1189.9,324.2L1191,321.4L1190.5,318.7L1186.9,315L1188.1,312.7L1187.8,309.2L1186.9,307.5L1185.3,306.3L1183.5,305.8L1181.6,306L1179.9,306.9L1178.7,308.4Z" fill="#0000ff"/>
<path d="M1185.2,342.1L1186.1,344.8L1187.3,345.8L1189,346.4L1192.5,345.9L1194.4,343.5L1194.6,320L1195.8,317.7L1196,315.8L1194.9,313L1192.6,311.5L1187.6,311.5L1185.9,312.4L1184.4,314.7L1184.4,317.7L1186.3,320.6L1185.6,326.4Z" fill="#ff0000"/>
<path d="M1190.7,310.4L1190.2,313.1L1191.5,316.1L1191.4,323.8L1192.8,326.9L1191.7,328.3L1191.2,330.1L1191.4,332L1192.1,333.5L1191.3,335.2L1191.1,337L1191.6,338.8L1192.7,340.2L1192.7,342.6L1193.3,343.7L1194.7,344.4L1205.8,344.3L1207,343.7L1207.6,342.6L1207.6,335.5L1209.1,333.5L1209.6,331.7L1209.4,329.8L1208.4,327.8L1209.4,325.1L1209.3,319.5L1208.4,317.8L1205.4,315.4L1207,310.6L1206.5,307.9L1204.4,305.8L1201.7,305.3L1199,306.4L1197.5,308.1L1194.7,307.8L1192.8,308.3Z" fill="#0000ff"/>
<path d="M1198.2,320.8L1198.6,329.1L1199.8,331.2L1198.4,333.7L1198.2,335.6L1199.8,338.9L1199.8,342.5L1200.4,343.7L1201.5,344.3L1204.8,344.3L1206,343.7L1206.6,342.6L1206.6,338.2L1208.3,334.4L1208.1,332.6L1207.3,330.9L1208.4,328.2L1208.6,323.7L1207.8,319.7L1206.3,317.4L1204.6,316.5L1202.7,316.3L1200.9,316.8L1199.4,318Z" fill="#ff0000"/>
<path d="M1204.2,333L1205.8,336.5L1205.8,342.4L1206.4,343.7L1208.1,344.4L1215.3,344.4L1217,343.7L1217.6,342.4L1217.7,337.6L1218.9,335.8L1219.4,334L1218.5,330.8L1219.4,328.4L1218.6,325.3L1219.5,323.6L1219.7,321.6L1218.5,318.6L1219.3,316.9L1219.6,314.5L1218.5,311.8L1214.7,309.5L1211.7,309.5L1209.4,311L1208.3,313.8L1208.7,316.4L1206.7,317.5L1205.2,319.8L1205.2,322.7L1204.4,326.2L1205.6,329L1204.4,331.1Z" fill="#0000ff"/>
<path d="M1211.5,324.7L1212.6,327L1211.1,330.3L1211.9,333.6L1211.2,336.6L1212.7,339.7L1212.8,342.6L1213.4,343.7L1214.5,344.3L1218.9,344.3L1220,343.7L1220.6,342.6L1220.7,338.9L1222.4,335.5L1221.9,332.8L1222.6,330.5L1222.4,328.5L1221.5,326.7L1222.4,324.2L1221.6,320.9L1222.7,318.1L1222.6,311.7L1221.5,309L1220,307.8L1218.1,307.3L1216.2,307.5L1214.5,308.4L1213.3,309.9L1212.8,311.7L1213,314L1212.1,318.1L1212.2,319.8L1211.2,322.4Z" fill="#ff0000"/>
<path d="M1218.2,320.3L1219,323.9L1218.1,327.4L1219.5,330.5L1218.3,332.6L1218.1,334.5L1218.6,336.3L1219.8,338.1L1219.8,342.6L1220.4,343.7L1221.6,344.3L1227.4,344.3L1228.5,343.7L1229.1,342.6L1229.2,336.2L1230.5,334.4L1231.1,332.6L1230.9,330.7L1229.9,328.8L1231.2,325.8L1230.9,323.9L1229.9,321.9L1230.7,320.3L1230.9,318.5L1230.1,315.7L1230.1,312.8L1228.1,310.1L1227.9,306.7L1226.4,304.4L1224.7,303.5L1222.8,303.3L1220.9,303.8L1219.4,305L1218.5,306.7L1218.3,308.6L1219,311.2L1219,313.8L1218.6,315.5L1218.9,317.9Z" fill="#0000ff"/>
<path d="M1224.8,336.3L1226.4,338.9L1226.4,342.5L1227,343.7L1228.1,344.3L1236.8,344.4L1238.1,343.7L1238.7,342.6L1238.7,337.4L1239.9,335.7L1240.4,334L1240.2,332.1L1239,330L1240.5,326.9L1239.8,323.8L1240.5,320.6L1239.4,318L1237.6,316.4L1236.6,313.1L1237.1,310.6L1236.6,307.9L1235.4,306.4L1233.7,305.5L1231.8,305.3L1229.9,305.8L1228.4,307L1227.5,308.7L1227.3,310.6L1228.3,313.3L1227.7,316.4L1228.4,318.6L1227.2,320.7L1227.2,323.9L1225.2,326.6L1225,328.4L1226,331.1L1224.6,334.3Z" fill="#ff0000"/>
<path d="M1230.7,333.7L1232.4,337.5L1232.3,342.4L1233,343.7L1234.7,344.4L1237.8,344.4L1239.1,343.7L1239.7,342.4L1239.8,338.8L1241,337.3L1241.5,335.5L1241.3,333.7L1240.1,331.6L1241.2,329.6L1241.7,324.5L1240.6,320.9L1239.4,319.4L1237.7,318.5L1235.8,318.3L1234,318.8L1232.5,320L1231,322.9L1230.6,327.5L1231.7,330.2L1230.9,331.8Z" fill="#0000ff"/>
<path d="M1237.9,322.5L1238.1,327.8L1239.1,329.7L1237.9,331.8L1237.7,333.6L1239.4,337.1L1239.4,342.6L1240,343.7L1241.1,344.3L1246,344.3L1247.1,343.7L1247.7,342.6L1247.8,340.1L1249,338.6L1249.5,336.8L1248.7,333.6L1249.4,331.3L1248.7,328.4L1249.5,326.8L1249.7,324.9L1248.6,322.1L1245.3,319.9L1246.7,318.7L1246.9,317.8L1246.7,309.9L1245.5,307.2L1243.2,305.7L1241.3,305.5L1239.5,306L1238,307.2L1237.1,308.9L1236.9,317.6L1238,319.6L1239.9,319.9Z" fill="#ff0000"/>
<path d="M1243.3,342.1L1244.2,344.8L1245.4,345.8L1247.6,346.4L1250.2,345.5L1251.2,344.3L1251.8,342.2L1251.7,320.1L1250.9,317.9L1248.8,316.4L1250.6,314.5L1251.2,311.7L1250.6,309.9L1249.4,308.4L1246.7,307.3L1244.8,307.5L1243.1,308.4L1241.9,309.9L1241.4,311.7L1241.6,313.7L1242.5,315.4L1245.4,317.1L1244.5,318.1L1243.8,320.2Z" fill="#0000ff"/>
<path d="M1248.9,304.9L1248.9,315L1250.4,318.2L1248.9,321.3L1249.9,324.6L1248.6,327.7L1249.3,330.8L1248.5,334L1249,335.8L1250.4,337.7L1250.4,342.6L1251,343.7L1252.1,344.3L1257.5,344.3L1258.6,343.7L1259.2,342.6L1259.4,340.2L1260.7,338.6L1261.2,336.8L1260.6,333.8L1261.3,330.6L1259.8,327.4L1260.9,324.7L1260.3,321.8L1261.1,318.5L1260,315.8L1261,313.1L1261,309.3L1260.1,307.6L1258.7,306.4L1258.5,303.9L1257.6,302.2L1256.1,301L1254.2,300.4L1251.5,301L1249.4,303.1Z" fill="#ff0000"/>
<path d="M1255.4,310.7L1256.6,316.2L1255.7,318.7L1256.4,321.7L1255.8,324.7L1257.2,327.8L1256.1,329.3L1255.5,331.2L1256.4,334.6L1255.6,337.7L1256.2,339.5L1257.3,341L1258,343.7L1259.8,344.4L1274.4,344.4L1276.2,343.7L1276.8,342.4L1276.9,338.2L1278.3,336.5L1278.9,333.8L1277.4,330.6L1278.4,328.7L1278.4,325.9L1276.5,323L1275.4,320.1L1274.1,318.5L1271.3,317.3L1269.9,315.5L1268.2,314.5L1267.6,312.9L1265.6,310.7L1264.1,308L1261.8,306.5L1258.8,306.5L1256.5,308Z" fill="#0000ff"/>
<path d="M1272.3,328.3L1272.2,345.3L1273,346.1L1274.1,346.4L1277.7,346.4L1279.6,345.3L1279.9,329.1L1281.1,326.7L1281.3,324.8L1280.7,322.9L1278.8,320.4L1276.6,320.2L1274.1,320.8L1272.6,322L1271.7,323.7L1271.4,325.6Z" fill="#ff0000"/>
<path d="M1276,320.3L1275.8,326.3L1276.5,330.5L1275.7,333.7L1277.5,338.1L1277.5,342.6L1278.1,343.7L1279.2,344.3L1282.1,344.3L1283.2,343.7L1283.8,342.6L1283.9,338.2L1285.5,334.8L1285,330.9L1285.7,328.8L1285.8,321.3L1284.6,315.2L1283.7,313.5L1282.2,312.3L1280.3,311.8L1278.4,312L1276.7,312.9L1275.5,314.4L1275,317.1Z" fill="#0000ff"/>
<path d="M1282.2,313.1L1282.6,317.8L1282,320.8L1282.1,323.6L1282.8,325.9L1281.8,328.6L1282.5,331.6L1281.8,334.7L1282.3,336.5L1283.5,338.3L1283.5,342.6L1284.1,343.7L1285.4,344.4L1294.1,344.3L1295.2,343.7L1295.8,342.6L1295.9,337.4L1297.1,335.7L1297.6,333.9L1297.4,332.1L1296.5,330.2L1297.6,327.2L1296.7,323.9L1297.9,320.9L1297.6,317.4L1296.1,315.1L1293.3,313.8L1292,311.8L1290.8,308.1L1289.6,306.6L1287.9,305.7L1284.9,305.7L1282.6,307.2L1281.5,309.9Z" fill="#ff0000"/>
<path d="M1288.4,320.1L1289.1,323.4L1288.1,326.7L1289,329.1L1287.9,331.2L1287.7,333.1L1288.3,334.9L1289.6,336.8L1289.6,342.6L1290.1,343.7L1291.3,344.3L1298.1,344.3L1299.3,343.7L1299.9,342.6L1299.9,336.5L1301.2,334.7L1301.8,332.9L1300.9,329.6L1301.6,326.7L1300.9,324.5L1302.3,319.6L1302.1,317.7L1300.6,315.4L1298.9,314.5L1293,314.3L1291.1,314.8L1289.6,316L1288.7,317.7Z" fill="#0000ff"/>
<path d="M1292.5,342.1L1293.4,344.8L1294.6,345.8L1296.8,346.4L1299.9,345.5L1300.9,344.3L1301.4,342.6L1301.4,326.6L1300.9,324.5L1300,323.3L1300.1,319.7L1298.6,317.4L1295.9,316.3L1293.9,316.5L1292.3,317.4L1291,318.9L1290.5,320.8L1291,323.5L1293.4,325.8Z" fill="#ff0000"/>
<path d="M1299,342.1L1299.5,344.2L1300.5,345.5L1303.2,346.4L1306.8,345.9L1308.4,344.3L1308.9,342.6L1308.9,317.9L1306.7,312L1305.2,310.8L1303.4,310.3L1301.5,310.5L1299.8,311.4L1298.6,312.9L1298,314.8L1298.2,316.7L1299.6,319.2Z" fill="#0000ff"/>
<path d="M1306.6,316.4L1306,324.7L1306.6,326.8L1306,329.7L1307.5,332.9L1306.1,335.1L1306.1,337.9L1307.5,340.1L1307.6,342.6L1308.2,343.7L1309.5,344.4L1314.2,344.3L1315.3,343.7L1315.9,342.6L1316,340.3L1317.3,338.6L1317.9,336.8L1317.7,334.9L1316.9,333.2L1317.6,331.7L1317.8,329.8L1316.7,326.9L1317.8,324.1L1316.9,320.7L1317.9,317.3L1317.7,315.3L1316.8,313.7L1315.4,312.5L1314.8,310.7L1313.6,309.2L1312,308.3L1309,308.3L1307.3,309.2L1305.8,311.5L1305.6,313.4Z" fill="#ff0000"/>
<path d="M1311.5,320.9L1311.3,345.3L1312.1,346.1L1313.2,346.4L1317.9,346.1L1319,344.2L1319,319.1L1319.4,316.3L1318.7,313.3L1317.9,312.5L1314.9,311.8L1313,312L1311.3,312.9L1310.1,314.4L1309.6,316.3L1309.8,318.2Z" fill="#0000ff"/>
<path d="M1324.7,307.2L1323.8,305.5L1322.3,304.3L1320.4,303.8L1318.5,304L1316.8,304.9L1315.6,306.4L1315.1,308.2L1315.3,310.2L1316.2,311.8L1317.7,313L1319.6,313.6L1321.5,313.4L1323.2,312.4L1324.4,310.9L1324.9,309.1ZM1315.1,342.1L1316,344.8L1317.1,345.8L1319.3,346.4L1322,345.5L1323,344.3L1323.5,342.6L1323.5,319.7L1322.6,317.5L1320,316L1317.1,316.8L1316.1,317.9L1315.6,319.6Z" fill="#ff0000"/>
<path d="M1310,317.4L1310,344.2L1311.1,346.1L1314.3,346.4L1315.4,346.1L1316.5,344.2L1316.5,311.8L1315.3,309.5L1313,308L1311.1,307.8L1309.2,308.3L1307.7,309.5L1306.8,311.2L1306.6,313.1L1307.1,315L1308.3,316.5Z" fill="#ff0000"/>
<path d="M1309.7,320.4L1312.2,322.2L1312,344.2L1313.1,346.1L1316.8,346.4L1317.9,346.1L1319,344.2L1319,315.4L1317.9,313.5L1313.1,312.3L1311.2,312.8L1309.7,314L1308.6,316.8L1308.8,318.7Z" fill="#0000ff"/>
<path d="M1316.7,305.4L1315.9,309.5L1316.6,313.2L1315.8,316.4L1316.3,318.4L1315.6,320L1315.3,321.9L1316.7,325.1L1315.6,327.9L1316.4,331.2L1315.6,332.8L1315.4,334.6L1315.9,336.4L1317.1,338.2L1317.1,342.6L1317.7,343.7L1319.1,344.4L1326.2,344.3L1327.4,343.7L1328,342.6L1328.1,335.7L1329.3,333.9L1329.8,332.1L1329.6,330.3L1328.4,328.2L1329.7,325.2L1329.2,322.5L1330,320L1329.8,318.1L1328.9,316.4L1326.4,314.5L1325.9,312.2L1325.7,306.2L1324.2,303.9L1321.5,302.7L1318.8,303.3Z" fill="#ff0000"/>
<path d="M1321.6,342.1L1322.1,344.2L1323.1,345.5L1325.8,346.4L1329,345.5L1330,344.3L1330.5,342.6L1330.5,319.8L1329.9,317.9L1328.7,316.4L1326,315.3L1324.1,315.5L1322.4,316.4L1321.2,317.9L1320.6,319.8L1320.8,321.7L1322,324Z" fill="#0000ff"/>
<path d="M1326.8,317.2L1327.9,319.3L1326.9,321.2L1326.8,323L1327.3,324.8L1328.3,326.2L1327.2,327.6L1326.7,329.3L1326.9,331.1L1327.9,333L1326.6,335.2L1326.6,338.1L1328.1,340.5L1328.2,342.6L1328.8,343.7L1330.5,344.4L1335.8,344.3L1336.9,343.7L1337.5,342.6L1337.6,339.1L1339.2,336.7L1339.2,333.8L1338.2,331.9L1339.5,328.8L1339.3,326.9L1338.2,324.9L1339.2,322.9L1339.4,321.1L1338.9,319.3L1336.6,316.4L1337,312.8L1335.8,310L1334.3,308.8L1332.5,308.3L1330.6,308.5L1328.9,309.4L1327.4,311.7L1326.6,315.2Z" fill="#ff0000"/>
<path d="M1332.6,342.1L1333.5,344.8L1334.7,345.8L1336.8,346.4L1338.7,346.2L1340.1,345.5L1341,344.3L1341.5,342.6L1341.5,313.8L1341,311.9L1339.8,310.4L1337,309.3L1335.1,309.5L1333.4,310.4L1332.2,311.9L1331.7,313.8L1331.9,315.7L1332.8,317.7Z" fill="#0000ff"/>
<path d="M1336.8,310.2L1337.2,311.6L1338.5,312.4L1337.3,315.4L1337.5,317.3L1338.3,318.9L1337.5,322.1L1338.3,324.6L1337.3,327.2L1337.5,329.1L1338.3,330.7L1337.4,334.1L1337.9,335.8L1339.1,337.6L1339.2,342.6L1339.8,343.7L1340.9,344.3L1346.3,344.3L1347.4,343.7L1348,342.6L1348.2,338.9L1349.4,337.3L1349.9,335.5L1349.7,333.7L1348.7,331.7L1350.1,328.6L1349.9,326.6L1348.9,324.7L1349.7,323L1349.9,321.2L1345.9,312.4L1346.8,310.6L1346.8,305.8L1346.3,302.7L1344.8,300.4L1343.1,299.4L1341.2,299.2L1339.3,299.8L1337.8,301L1336.7,303.7Z" fill="#ff0000"/>
<path d="M1342.1,342.2L1342.7,344.3L1343.7,345.5L1346.3,346.4L1348.7,346.2L1350.1,345.5L1351.1,344.3L1351.6,342.6L1351.4,320.1L1349.9,316L1348.4,314.8L1346.5,314.3L1344.6,314.5L1342.9,315.4L1341.7,316.9L1341.2,318.8L1341.4,320.7L1342.3,322.6Z" fill="#0000ff"/>
<path d="M1348,328.1L1347.7,330.2L1348.7,332.8L1347.6,334.8L1347.4,336.6L1348,338.4L1349.1,340L1349.2,342.6L1349.8,343.7L1351.6,344.4L1357.4,344.4L1359.2,343.7L1359.8,342.4L1359.9,337L1361.1,335.2L1361.6,333.4L1360.9,330.4L1361.7,327.2L1360.5,324.2L1361.3,322.6L1361.5,320.8L1361,319L1358.4,316.1L1357.8,305.9L1356.3,303.6L1354.6,302.7L1352.7,302.4L1350.9,303L1349.4,304.2L1348.4,305.9L1347.7,310.9L1347.9,312.8L1348.9,314.8L1347.8,318.3L1348.6,321.4L1347.4,324.3Z" fill="#ff0000"/>
<path d="M1354.1,319.7L1353.4,322.1L1354,325.1L1353.4,328L1354.2,330.4L1353.4,332L1353.2,333.9L1353.8,335.8L1355.2,337.7L1355.2,342.6L1355.8,343.7L1357,344.3L1361.9,344.3L1363,343.7L1363.6,342.6L1363.7,339.3L1365.5,336.8L1365.7,334.8L1364.6,331.9L1365.5,328.5L1365,326.7L1363.7,325.1L1363.2,321.2L1361.8,319L1362.6,315.8L1362,313.9L1360.8,312.4L1359.1,311.5L1357.2,311.3L1355.4,311.8L1353.9,313L1352.9,314.7L1352.7,316.6Z" fill="#0000ff"/>
<path d="M1359.3,323L1357.3,329.5L1358.1,332L1357.3,333.7L1357.1,335.6L1357.6,337.4L1358.8,339L1358.8,342.4L1359.4,343.7L1361.2,344.4L1368.5,344.4L1370.2,343.7L1370.8,342.4L1370.9,339.1L1372.2,337.5L1372.7,334.8L1372.2,333L1370.9,331.4L1369.8,327.8L1368.6,326.2L1368.4,323.7L1367.4,322L1365.2,320.5L1363.2,320.3L1361.4,320.8Z" fill="#ff0000"/>
<path d="M1370.2,342.2L1370.8,344.3L1371.7,345.5L1374.4,346.4L1376.3,346.2L1377.7,345.5L1378.7,344.3L1379.2,342.6L1379.1,318.8L1378.6,316.9L1377.4,315.4L1374.6,314.3L1372.7,314.5L1371,315.4L1369.8,316.9L1369.3,318.8L1369.5,320.7L1370.4,322.6Z" fill="#0000ff"/>
<path d="M1375.5,316.4L1375.1,324.1L1376.3,327.1L1375.1,329.2L1374.9,331.2L1375.4,333.1L1376.8,335L1376.8,342.6L1377.4,343.7L1378.6,344.3L1383.4,344.3L1384.6,343.7L1385.2,342.6L1385.3,340.5L1386.6,338.8L1387.2,336.9L1386.3,333.6L1387,330.7L1385.4,327.5L1386.6,325.9L1387.2,324.1L1386.6,321.2L1387.1,318.4L1386,315.6L1384.1,313.9L1383.9,311.5L1382.4,309.2L1380.7,308.3L1378.8,308.1L1376.9,308.6L1375.4,309.8L1374.3,312.6L1374.5,314.5Z" fill="#ff0000"/>
<path d="M1380.3,342.1L1380.8,344.3L1381.8,345.5L1384.5,346.4L1387.2,345.5L1388.2,344.3L1388.7,342.2L1388.5,316.2L1386.8,313.9L1383.2,312.8L1381.2,313L1379.6,313.9L1378.4,315.4L1377.8,317.3L1378.4,320L1380.6,322.5Z" fill="#0000ff"/>
<path d="M1386.1,334.6L1387.4,336.4L1387.3,342.4L1388,343.7L1389.7,344.4L1393.8,344.4L1395.1,343.7L1395.8,342L1395.8,335.4L1397,333.6L1397.6,331.8L1396.7,328.5L1397.5,325.5L1396.4,322.8L1397.4,320.8L1397.7,318.4L1396.5,315.7L1394.5,313.9L1394.5,311.2L1393.5,309.5L1392,308.3L1390.2,307.8L1388.3,308L1386.6,308.9L1385.4,310.4L1384.8,312.3L1385,314.2L1385.9,315.8L1385.6,320.1L1386.9,323.2L1385.9,325.8L1386.7,328.9L1385.7,330.8L1385.5,332.7Z" fill="#ff0000"/>
<path d="M1390.3,344.2L1391.4,346.1L1392.5,346.4L1396.7,346.1L1397.8,344.2L1397.8,316.4L1396.7,314.5L1392.7,313.8L1390.8,314L1389.1,314.9L1387.9,316.4L1387.3,318.3L1387.9,321L1390.5,323.6Z" fill="#0000ff"/>
<path d="M1395.3,322.8L1395.5,343.5L1396.2,344.9L1397.4,345.8L1399.5,346.4L1401.4,346.2L1403.4,344.9L1404.2,342.6L1404.3,320.3L1403.6,318L1399.6,313.8L1397.7,313.3L1395.8,313.5L1394.1,314.4L1392.9,315.9L1392.4,317.8L1392.6,319.7L1393.5,321.4Z" fill="#0000ff"/>
<path d="M1400.4,316.8L1401.4,322.2L1400.8,325.2L1401.7,327.7L1400.7,329.6L1400.5,331.5L1401.1,333.4L1402.5,335.4L1402.4,342.6L1403,343.7L1404.2,344.3L1410,344.3L1411.1,343.7L1411.7,342.6L1411.8,336.1L1413.1,334.2L1413.7,332.4L1413.5,330.5L1412.4,328.5L1413.5,325.7L1413.5,321.4L1412.6,319.7L1410.4,318.1L1410,315.7L1409.1,314L1407.6,312.8L1405.7,312.3L1403.8,312.5L1401.5,314Z" fill="#ff0000"/>
<path d="M1406.4,332L1406.6,345.3L1408.5,346.4L1412.7,346.1L1413.8,344.2L1413.8,326.3L1413,324.6L1410.6,323.1L1408.7,322.5L1406.8,322.7L1404.5,324.3L1403.4,327L1403.6,328.9L1404.5,330.6Z" fill="#0000ff"/>
<path d="M1410.4,326L1410.6,345.3L1412.5,346.4L1416.7,346.1L1417.8,344.2L1417.8,319.4L1416.7,317.5L1411.9,316.5L1410,317L1408.5,318.2L1407.4,321L1407.6,322.9L1408.5,324.6Z" fill="#ff0000"/>
<path d="M1415.4,330.3L1415,332.7L1416.5,336.1L1416.4,341.9L1417.1,343.7L1418.8,344.4L1423.4,344.4L1424.7,343.7L1425.4,342L1425.4,335.5L1427,332.1L1426.3,329.1L1427,326L1426.5,324.2L1425.4,322.5L1425,317.2L1424.1,315.5L1422.6,314.3L1420.8,313.8L1418.9,314L1417.2,314.9L1416,316.4L1415.3,320.8L1415.9,323.8L1414.8,326.7Z" fill="#0000ff"/>
<path d="M1421.4,316L1419.1,317.5L1417.9,320.3L1418.5,323L1420.7,325.5L1420.5,342.5L1420.9,344.2L1421.9,345.5L1423.3,346.2L1426.1,346.4L1428.3,345.5L1429.3,344.3L1429.8,342.6L1429.9,323.1L1430.3,320.3L1429.1,317.5L1427.6,316.3L1425.8,315.8Z" fill="#ff0000"/>
<path d="M1425.9,310.7L1425.9,316.5L1426.5,318.6L1425.6,323.8L1426.5,326.3L1425.7,330.3L1426.2,334.5L1425.7,337.7L1426.2,339.5L1427.3,341L1428.1,343.7L1429.4,344.4L1431.9,344.4L1433.2,343.7L1433.8,342.6L1435.6,334.3L1435.2,331.8L1435.5,327.8L1434.9,325.6L1435.7,320.5L1434.9,318L1435.7,315.5L1435.8,312.4L1435.3,310.6L1434.1,309L1434.1,305.7L1432.5,303.4L1430.9,302.5L1428.9,302.2L1427.1,302.8L1425.6,304L1424.7,305.7L1424.5,307.6Z" fill="#0000ff"/>
<path d="M1429.4,342.2L1430.3,344.9L1431.5,345.8L1433.6,346.4L1436.4,345.5L1437.3,344.3L1437.9,342.2L1437.8,308.9L1436.2,305L1434.7,303.8L1432.8,303.3L1430.9,303.5L1429.2,304.4L1428,305.9L1427.5,307.7L1428,310.4L1429.6,312.5Z" fill="#ff0000"/>
<path d="M1433.6,322.6L1434.2,326.4L1433.7,329L1434.2,332.8L1433.6,336.2L1434.2,338L1435.4,339.5L1435.5,342.6L1436.1,343.7L1437.2,344.3L1440.1,344.3L1441.2,343.7L1441.8,342.6L1441.9,339.5L1443.2,336.2L1443.6,331.5L1443.2,327.8L1443.8,324.3L1443.2,321.8L1443.8,318.5L1442.7,314.7L1443.5,313L1443.8,310.4L1442.3,307.1L1441.8,303.9L1440.6,302.4L1437.8,301.2L1435.9,301.5L1434.2,302.4L1433,303.9L1432.5,305.7L1432.7,307.6L1433.7,309.6L1433.9,312.2L1434.7,314.1L1433.8,316.6L1434.2,320.3Z" fill="#0000ff"/>
<path d="M1438.5,314.8L1438.4,344.2L1439.5,346.1L1442.9,346.4L1444,346.1L1445.1,344.2L1445.3,309.7L1444.4,307.2L1442.7,305.8L1440.8,305.3L1438.9,305.5L1437.2,306.4L1436,307.9L1435.5,309.7L1435.7,311.7L1436.6,313.3Z" fill="#ff0000"/>
<path d="M1441.7,309.3L1442.5,315.4L1441.6,318.7L1442.6,321.4L1441.8,323.7L1442.6,326.9L1441.8,329.2L1442.6,332.5L1441.8,334.8L1442,336.6L1443.4,338.8L1443.5,342.4L1444.1,343.7L1445.4,344.4L1449.9,344.3L1451.1,343.7L1451.7,342.6L1451.7,335.5L1452.9,333.8L1453.4,332.1L1453.2,330.2L1451.8,328L1452.9,326.4L1453.5,324.6L1453.3,322.8L1452.3,320.9L1453.4,318.2L1453.2,316.4L1452.3,314.6L1453.1,313L1453.3,311.2L1452.8,309.4L1450,306L1450.8,303.6L1450.6,301.7L1449.7,300L1448.2,298.8L1446.4,298.2L1444.4,298.4L1442.8,299.4L1441.5,300.9L1441,303.6L1442.5,306.9Z" fill="#0000ff"/>
<path d="M1448.1,307.8L1448.5,310.5L1447.8,313.5L1448.4,315.3L1449.5,316.8L1448.1,319.1L1447.9,320.9L1448.4,322.7L1449.4,324.1L1448.2,325.6L1447.7,327.4L1448.5,330.7L1447.7,333.9L1448.2,335.7L1449.5,337.5L1449.5,342.6L1450.1,343.7L1451.3,344.3L1457.7,344.3L1458.8,343.7L1459.4,342.6L1459.5,336.1L1461.1,332.7L1460.4,329.7L1461.4,327L1460.6,323.8L1461.3,320.8L1460,317.8L1461.2,315.6L1461.4,313.7L1460.9,311.9L1458.3,309.1L1457.9,307.8L1458.4,304.7L1457.2,302L1455.7,300.8L1453.9,300.2L1452,300.5L1450.3,301.4L1448.7,303.7Z" fill="#ff0000"/>
<path d="M1451.8,314.2L1451.9,322.2L1452.9,324.8L1451.7,327.7L1452.5,330.8L1451.6,334.2L1452.1,336.1L1453.5,337.9L1453.5,342.6L1454.1,343.7L1455.3,344.3L1460.7,344.3L1461.8,343.7L1462.4,342.6L1462.5,340.2L1463.8,338.6L1464.3,336.8L1464.1,334.9L1463.3,333.3L1464.2,330L1463,327.2L1464,325.3L1464,322.5L1461.5,319.3L1461.1,317.5L1461.4,315.3L1460.8,313.4L1458.7,311.3L1456,310.8L1453.3,311.9Z" fill="#0000ff"/>
<path d="M1455.6,324.8L1456.2,334.8L1457.5,338.1L1457.6,342.6L1458.2,343.7L1459.3,344.3L1462.2,344.3L1463.3,343.7L1463.9,342.6L1464,338.4L1465.2,336.6L1465.7,334.8L1465.3,332L1465.9,326.5L1465.2,323.7L1464.2,322L1462.7,320.8L1460.9,320.3L1459,320.5L1457.3,321.4L1456.1,322.9Z" fill="#ff0000"/>
<path d="M1461.8,318.7L1463.6,321.5L1462.8,324.7L1464,327.9L1462.9,330L1462.7,331.9L1464.5,337.8L1464.6,342.6L1465.2,343.7L1466.3,344.3L1469.7,344.3L1470.8,343.7L1471.4,342.6L1471.6,338.6L1472.8,337L1473.3,335.2L1472.6,331.7L1473.1,328.6L1472.3,326.2L1473.2,323.7L1472.9,321.3L1473.4,319.3L1473.2,317.4L1472.3,315.7L1468.8,312.8L1466.9,312.3L1465,312.5L1463.3,313.4L1461.8,315.7Z" fill="#ff0000"/>
<path d="M1460.5,313.4L1460.2,317.4L1461.1,320L1460.3,323.3L1461.1,325.8L1460.4,328.8L1461.8,331.8L1460.4,334.1L1460.4,337.1L1462,339.5L1462.1,342.4L1462.7,343.7L1464,344.4L1468.2,344.3L1469.3,343.7L1470.1,340.9L1471.5,338.7L1471.5,335.9L1470.6,334.2L1471.9,331L1471.7,329.1L1471,327.6L1471.8,324.3L1470.7,321.5L1471.7,319.6L1471.9,317.7L1471.4,315.8L1469.1,312.2L1469.4,309.2L1468.3,306.5L1466.8,305.3L1464.9,304.8L1463,305L1461.3,305.9L1460.1,307.4L1459.6,309.2Z" fill="#0000ff"/>
<path d="M1462.6,320.2L1462.7,325.9L1464,328.8L1462.6,331.1L1462.4,332.9L1462.9,334.8L1464.2,336.6L1464.1,342.6L1464.7,343.7L1465.9,344.3L1470.7,344.3L1471.9,343.7L1472.5,342.6L1472.5,337.1L1473.7,335.4L1474.2,333.6L1473.4,330.4L1474.3,327.9L1473.9,325.3L1474.4,322.4L1473.3,319.7L1471.5,318.3L1470.9,314.9L1468.8,312.8L1466.9,312.3L1465,312.5L1463.3,313.4L1462.1,314.9L1461.6,317.6Z" fill="#ff0000"/>
<path d="M1471.2,324.5L1471.3,345.3L1473.3,346.4L1477.4,346.1L1478.5,344.2L1478.5,322.6L1479,319.8L1478,317.2L1476.3,315.8L1474.5,315.3L1472.6,315.5L1470.9,316.4L1469.7,317.9L1469.1,319.8L1469.7,322.5Z" fill="#0000ff"/>
<path d="M1475.2,316.5L1476,318.7L1475.1,321.9L1476.5,324.9L1475.2,327.1L1475,328.9L1476.4,332L1474.9,334.3L1474.9,337.3L1476.5,339.7L1476.6,342.4L1477.3,343.7L1478.6,344.4L1483.3,344.3L1484.4,343.7L1485,342.6L1485.1,339.6L1486.3,338.1L1486.8,336.3L1486.3,333.5L1487,330.4L1485.6,327.2L1486.8,324.4L1486.3,321.6L1487,318.4L1486.5,316.5L1484.8,314.5L1484.2,312.3L1483,310.8L1484.3,308.6L1484.5,306.7L1483.3,304L1481.8,302.8L1480,302.2L1478.1,302.5L1476.4,303.4L1475.2,304.9L1474.6,307.6L1475.2,309.4L1476.4,311L1475.1,313.1Z" fill="#ff0000"/>
<path d="M1477.8,320.9L1480.3,322.7L1480.1,344.2L1481.2,346.1L1485.4,346.4L1486.5,346.1L1487.6,344.2L1487.6,315.4L1486.5,313.5L1481.1,312.8L1479.3,313.3L1477.8,314.5L1476.7,317.3L1476.9,319.2Z" fill="#0000ff"/>
<path d="M1484.4,309.1L1484.6,311.1L1485.6,313L1484.5,315.7L1485.1,318.6L1484.4,321.7L1485.3,324.4L1484.6,325.9L1484.4,327.8L1484.9,329.6L1486.1,331.1L1484.7,333.3L1484.7,336.1L1486.1,338.3L1486.1,342.4L1486.8,343.7L1488.1,344.4L1492.3,344.3L1493.4,343.7L1494,342.6L1494.2,339.3L1495.5,337.6L1496,335.8L1495.8,333.8L1495.1,332.2L1495.8,329.2L1495.2,327.5L1494.2,326L1495.4,324.5L1495.9,322.7L1495.7,320.8L1494.4,318.7L1495.8,316.4L1496,314.5L1495.5,312.7L1494.1,310.9L1494,307.8L1493.1,305.9L1493.5,304.1L1493.3,302.2L1491.8,299.9L1490.1,298.9L1488.2,298.7L1486.3,299.3L1484.8,300.5L1483.7,303.2L1483.9,305.1L1484.8,307Z" fill="#ff0000"/>
<path d="M1487.9,307.6L1489.4,310.2L1489.2,342.6L1489.7,344.3L1491.2,345.8L1494.8,346.4L1496.5,345.9L1497.7,344.9L1498.6,342.2L1498.6,308.3L1498.3,306.8L1496.4,303L1494.9,301.8L1493,301.2L1491.1,301.5L1489.4,302.4L1488.2,303.9L1487.7,305.7Z" fill="#0000ff"/>
<path d="M1490.4,314.2L1492.3,315.4L1492.1,344.2L1493.2,346.1L1497.4,346.4L1498.5,346.1L1499.6,344.2L1499.6,312L1497.4,307.2L1495.1,305.7L1493.2,305.5L1491.3,306L1489.8,307.2L1488.9,308.9L1488.7,310.8L1489.2,312.7Z" fill="#ff0000"/>
<path d="M1495.6,307.2L1496,308.5L1497.2,309.3L1495.9,312.3L1496.5,315.3L1496,318L1496.8,320.4L1496,322.7L1496.7,325.6L1495.8,328.9L1497.1,331.9L1496.2,333.7L1496,335.6L1496.5,337.3L1497.6,338.8L1497.7,342.6L1498.3,343.7L1499.4,344.3L1505.3,344.3L1506.5,343.7L1507.1,342.6L1507.1,334.9L1508.3,333.2L1508.9,331.4L1507.9,328.1L1508.9,326.1L1509.1,324.2L1507.9,321.2L1508.8,319.5L1509,317.6L1507.9,314.9L1506,313.4L1505.5,311.2L1504.5,309.3L1505.6,307.3L1505.5,301.2L1505,299.4L1503.8,297.9L1502.1,296.9L1500.2,296.7L1498.3,297.3L1496.8,298.5L1495.7,301.2Z" fill="#0000ff"/>
<path d="M1498.5,329L1500.3,330.2L1500.4,345.3L1502.3,346.4L1505,346.1L1506.1,344.2L1506.1,327.6L1506.5,324.8L1505.6,322.2L1503.1,320.5L1501.2,320.3L1499.4,320.8L1497.9,322L1496.9,323.7L1496.7,325.6L1497.3,327.5Z" fill="#ff0000"/>
<path d="M1506.9,326.8L1506.3,330.8L1507.7,334L1506.8,335.8L1506.6,337.7L1507.1,339.4L1508.1,340.8L1508.3,342.6L1508.9,343.7L1510,344.3L1540.8,344.4L1542.6,343.7L1543.2,342.6L1543.3,335.1L1544.5,333.4L1545,331.6L1544.8,329.8L1543.7,327.7L1544.9,325.6L1545.1,323.7L1544.6,321.9L1542.5,318.6L1540.9,312.3L1539.7,310.8L1535.8,308L1534,307.4L1532.7,305.6L1530.7,304.5L1529.6,302.7L1526.7,300.1L1525,299.2L1518.3,297.7L1516.4,294L1514.9,292.8L1513.1,292.2L1511.2,292.4L1508.9,294L1508,295.6L1507.8,298.9L1506.9,301.3L1507.1,303.1L1508.1,305L1506.8,308L1507.5,311.1L1506.8,314.2L1507.7,316.8L1506.7,319.5L1507.5,322.7L1506.7,324.9Z" fill="#ff0000"/>
<path d="M1527.9,322.4L1530.4,324.2L1530.2,344.2L1531.3,346.1L1534.5,346.4L1535.6,346.1L1536.7,344.2L1536.7,317.4L1536.3,316.1L1532.2,314.3L1530.2,314.5L1527.9,316L1526.8,318.8L1527,320.7Z" fill="#0000ff"/>
<path d="M1534.2,329.8L1534.5,345.3L1536.5,346.4L1540.6,346.1L1541.7,344.2L1541.7,323.4L1540.6,321.5L1535.8,320.3L1534,320.8L1532.5,322L1531.3,324.8L1531.5,326.7L1532.5,328.4Z" fill="#ff0000"/>
<path d="M1538.2,335.8L1538.3,342.6L1539.2,344.8L1540.4,345.8L1542.5,346.4L1544.9,346.2L1546.2,345.5L1547.2,344.3L1547.8,342.2L1547.8,331.4L1547,328.9L1545.2,327.5L1540.7,326.3L1538.8,326.5L1537.1,327.5L1535.5,329.8L1535.3,331.7L1536.5,334.4Z" fill="#0000ff"/>
<path d="M1546.9,322.5L1545.5,325.7L1546.4,329L1545.6,331.3L1546.4,334.5L1545.7,336.6L1545.9,338.4L1547.2,340.6L1547.4,342.6L1548,343.7L1549.3,344.4L1553.5,344.3L1554.6,343.7L1555.2,342.6L1555.3,337.9L1557,334.5L1556.8,332.7L1556,331.1L1557.1,328.3L1556.3,325.1L1557.1,322.8L1556.6,320L1557.3,316.9L1556.7,315L1554,311.6L1554.2,309.7L1553.7,307.9L1552.5,306.4L1549.7,305.3L1547.8,305.5L1546.1,306.4L1544.9,307.9L1544.4,309.7L1544.6,311.7L1545.7,313.7L1545.8,320.2Z" fill="#ff0000"/>
<path d="M1548,323.4L1550.4,325.2L1550.3,344.2L1551.4,346.1L1555.1,346.4L1556.2,346.1L1557.3,344.2L1557.3,318.4L1556.2,316.5L1551.4,315.3L1549.5,315.8L1548,317L1546.9,319.8L1547.1,321.7Z" fill="#0000ff"/>
<path d="M1553.3,342.2L1553.9,344.3L1554.8,345.5L1557.5,346.4L1559.4,346.2L1560.8,345.5L1561.8,344.3L1562.3,342.2L1562.3,311.9L1561.9,310.4L1560.1,308L1558.6,306.8L1556.7,306.3L1554.8,306.5L1553.1,307.4L1551.9,308.9L1551.4,310.7L1551.9,313.5L1553.5,315.4Z" fill="#ff0000"/>
<path d="M1555,320.4L1557.5,322.2L1557.3,344.2L1558.4,346.1L1561.6,346.4L1562.7,346.1L1563.8,344.2L1563.8,315.4L1563.4,314.1L1559.2,312.3L1557.3,312.5L1555,314L1553.9,316.8L1554.1,318.7Z" fill="#0000ff"/>
<path d="M1558.9,307.2L1559.5,312L1560.9,312.9L1559.8,315.8L1560,317.7L1561,319.7L1559.9,322.5L1560.5,325.4L1559.6,328.8L1560.5,331.4L1559.7,334.6L1560.2,336.4L1561.4,338.1L1561.4,342.6L1562,343.7L1563.2,344.3L1568.5,344.3L1569.7,343.7L1570.3,342.6L1570.4,339.8L1571.8,337.5L1572,335.7L1571,333L1572.1,331L1572.3,329.1L1571.8,327.2L1570.6,325.7L1571.8,323.6L1571.8,320.8L1570.4,318.5L1569.5,314.9L1568.3,312.7L1569.1,311L1568.5,306.2L1567.6,304.5L1566.1,303.3L1564.3,302.7L1562.3,303L1560.7,303.9L1559.4,305.4Z" fill="#ff0000"/>
<path d="M1569.1,315.2L1569,319.3L1569.8,320.9L1568.9,323.5L1569.6,326.7L1568.9,329.8L1570,332.6L1569,334.4L1568.8,336.2L1570.4,339.4L1570.5,342.6L1571.1,343.7L1572.2,344.3L1577.1,344.3L1578.2,343.7L1578.8,342.6L1578.9,339.4L1580,337.9L1580.5,336.2L1580.3,334.4L1579.5,332.8L1580.5,330.8L1580.7,328.9L1579.4,325.8L1580.8,322.7L1580.2,320L1578.8,318.1L1578.1,314.4L1578.3,312.3L1577.1,309.5L1575.6,308.3L1573.8,307.8L1571.9,308L1570.2,308.9L1569,310.4L1568.4,312.3Z" fill="#0000ff"/>
<path d="M1571.1,320.4L1573.5,322.2L1573.4,344.2L1574.5,346.1L1577.7,346.4L1578.8,346.1L1579.9,344.2L1579.9,315.4L1579.4,314.1L1575.3,312.3L1573.4,312.5L1571.1,314L1569.9,316.8L1570.2,318.7Z" fill="#ff0000"/>
<path d="M1575.7,314.7L1577.1,317.2L1577.1,343.5L1578.4,345.5L1579.8,346.2L1584,346.2L1586,344.9L1586.9,342.2L1586.6,312.8L1585.8,311.4L1582.7,308.8L1580.8,308.3L1578.9,308.5L1577.2,309.4L1575.7,311.7Z" fill="#0000ff"/>
<path d="M1578.8,335.8L1580.5,339.3L1580.5,342.6L1581.1,343.7L1582.2,344.3L1588.1,344.3L1589.2,343.7L1589.8,342.6L1589.9,334.7L1591.6,331.3L1591,328.4L1591.7,325.3L1591.2,323.5L1589.9,321.9L1589.7,319.7L1588.7,317.7L1589.3,315.6L1588.8,312.9L1587.6,311.4L1584.8,310.3L1582.9,310.5L1581.2,311.4L1580,312.9L1579.5,314.8L1578.8,322.6L1580.1,325.7L1578.7,328.9L1578.9,330.8L1579.7,332.5Z" fill="#ff0000"/>
<path d="M1584.4,328.8L1584.6,343.5L1585.3,344.9L1586.5,345.8L1588.6,346.4L1590,346.2L1592,344.9L1592.9,342.2L1592.9,324.3L1592.5,322.4L1591.6,321.3L1586.8,319.3L1584.9,319.5L1582.6,321L1581.5,323.8L1581.7,325.7L1582.6,327.4Z" fill="#0000ff"/>
<path d="M1587.1,317.6L1589.6,319.4L1589.4,344.2L1590.5,346.1L1593.7,346.4L1594.8,346.1L1595.9,344.2L1595.9,312.4L1594.8,310.5L1590.5,309.5L1588.6,310L1587.1,311.2L1586,314L1586.2,315.9Z" fill="#0000ff"/>
<path d="M1592.1,307.9L1592.2,313.9L1593,316.2L1592.2,317.9L1592,319.7L1593.4,322.9L1592.2,324.4L1591.7,326.3L1591.9,328.2L1593,330.3L1591.8,332.4L1591.6,334.3L1592.1,336.2L1593.5,338.1L1593.5,342.6L1594.1,343.7L1595.4,344.4L1604.1,344.3L1605.3,343.7L1605.9,342.6L1606,338.5L1607.2,336.7L1607.7,334.9L1607.5,333L1606.7,331.2L1607.7,329.3L1607.9,327.3L1607.4,325.5L1606.2,324L1607.6,320.9L1607.7,315.4L1606.1,313.1L1602.2,311.1L1601.6,308L1600.7,306.2L1600.8,304.2L1600.3,302.4L1599.1,300.9L1597.4,300L1595.5,299.7L1593.6,300.3L1591.5,302.4L1591,305.1Z" fill="#ff0000"/>
<path d="M1592.1,327.4L1594.6,329.2L1594.7,345.3L1596.6,346.4L1599.8,346.1L1600.9,344.2L1600.9,322.4L1600.5,321.1L1596.4,319.3L1594.4,319.5L1592.1,321L1591,323.8L1591.2,325.7Z" fill="#0000ff"/>
<path d="M1600.5,321.8L1600.7,343.5L1601.4,344.9L1602.6,345.8L1604.7,346.4L1606.1,346.2L1608,344.9L1609,342.2L1609,317.3L1608.5,315.4L1607.7,314.3L1602.9,312.3L1601,312.5L1598.7,314L1597.5,316.8L1597.7,318.7L1598.7,320.4Z" fill="#0000ff"/>
<path d="M1602.2,328.4L1604.6,330.2L1604.8,345.3L1606.7,346.4L1609.9,346.1L1611,344.2L1611,323.4L1610.5,322.1L1606.4,320.3L1604.5,320.5L1602.2,322L1601,324.8L1601.3,326.7Z" fill="#ff0000"/>
<path d="M1606.6,302.9L1607.1,304.3L1608.2,305.1L1607,308.1L1607.4,311.5L1608.3,313.3L1607,316.4L1607.6,319.3L1606.8,322.4L1607.7,324.9L1606.8,328.4L1607.7,330.9L1607,332.5L1606.8,334.4L1607.3,336.2L1608.5,338L1608.6,342.6L1609.2,343.7L1610.5,344.4L1619.7,344.3L1620.8,343.7L1621.4,342.6L1621.5,338.2L1622.8,336.4L1623.4,334.5L1622.5,331.2L1623.3,327.9L1622.8,326.1L1621.7,324.7L1622.8,323.2L1623.3,321.4L1623.1,319.5L1622.1,317.6L1623.2,315.6L1623.2,312.3L1621.7,310L1618,308.6L1615.6,305.3L1616.6,303.1L1616.4,298.8L1615.8,296.9L1613.8,294.8L1611.9,294.2L1610,294.4L1607.7,296L1606.6,298.7Z" fill="#0000ff"/>
<path d="M1608.8,329L1610.6,330.2L1610.8,345.3L1612.7,346.4L1615.9,346.1L1617,344.2L1617,324.1L1616.3,322.5L1613.5,320.5L1611.5,320.3L1609.7,320.8L1608.2,322L1607.3,323.7L1607.1,325.6L1607.6,327.5Z" fill="#ff0000"/>
<path d="M1614.6,342.1L1615.1,344.3L1616.1,345.5L1618.8,346.4L1620.6,346.2L1622,345.5L1623,344.3L1623.5,342.6L1623.5,316.9L1622.3,314.3L1620,313.1L1616.9,313.7L1615.7,314.9L1615,316.7Z" fill="#ff0000"/>
<rect x="1607" y="294.1" width="10" height="50.3" rx="5" fill="#0000ff"/>
<rect x="1606.6" y="300.3" width="12.6" height="44.1" rx="5" fill="#ff0000"/>
<rect x="1609.2" y="322.6" width="12.6" height="21.8" rx="5" fill="#0000ff"/>
<rect x="1612.5" y="310.7" width="10" height="33.7" rx="5" fill="#ff0000"/>
<rect x="1611.9" y="321.3" width="12.6" height="23.1" rx="5" fill="#ff0000"/>
<rect x="1614.5" y="321.4" width="12.6" height="23" rx="5" fill="#0000ff"/>
<rect x="1617" y="312.2" width="10" height="32.2" rx="5" fill="#0000ff"/>
<rect x="1617.1" y="313.3" width="12.6" height="31.1" rx="5" fill="#ff0000"/>
<rect x="1619.8" y="306.3" width="12.6" height="38.1" rx="5" fill="#0000ff"/>
<rect x="1623.6" y="283.1" width="10" height="61.3" rx="5" fill="#0000ff"/>
<rect x="1622.4" y="293.3" width="12.6" height="51.1" rx="5" fill="#ff0000"/>
<rect x="1625.1" y="314.4" width="12.6" height="30" rx="5" fill="#0000ff"/>
<rect x="1628.1" y="305.7" width="10" height="38.7" rx="5" fill="#ff0000"/>
<rect x="1627.7" y="313.1" width="12.6" height="31.3" rx="5" fill="#ff0000"/>
<rect x="1629.1" y="310.2" width="10" height="34.2" rx="5" fill="#0000ff"/>
<rect x="1630.6" y="314.6" width="12.2" height="29.8" rx="5" fill="#0000ff"/>
<rect x="1632.6" y="318.1" width="11.8" height="26.3" rx="5" fill="#ff0000"/>
<rect x="1635.1" y="305.7" width="10" height="38.7" rx="5" fill="#ff0000"/>
<rect x="1634.4" y="317.4" width="11.8" height="27" rx="5" fill="#0000ff"/>
<rect x="1636.1" y="312.2" width="11.8" height="32.2" rx="5" fill="#ff0000"/>
<rect x="1637.9" y="304.3" width="11.8" height="40.1" rx="5" fill="#0000ff"/>
<rect x="1639.7" y="301.7" width="11.8" height="42.7" rx="5" fill="#ff0000"/>
<rect x="1641.4" y="307.3" width="11.8" height="37.1" rx="5" fill="#0000ff"/>
<rect x="1642.6" y="290.6" width="10" height="53.8" rx="5" fill="#ff0000"/>
<rect x="1643.2" y="299.8" width="11.8" height="44.6" rx="5" fill="#ff0000"/>
<rect x="1645" y="320.1" width="11.8" height="24.3" rx="5" fill="#0000ff"/>
<rect x="1646.7" y="318.4" width="11.8" height="26" rx="5" fill="#ff0000"/>
<rect x="1649.1" y="311.2" width="10" height="33.2" rx="5" fill="#ff0000"/>
<rect x="1648.5" y="317.7" width="11.8" height="26.7" rx="5" fill="#0000ff"/>
<rect x="1650.3" y="314.1" width="11.8" height="30.3" rx="5" fill="#ff0000"/>
<rect x="1652.1" y="312.2" width="10" height="32.2" rx="5" fill="#0000ff"/>
<rect x="1652.1" y="324.6" width="11.8" height="19.8" rx="5" fill="#0000ff"/>
<rect x="1653.8" y="320.8" width="11.8" height="23.6" rx="5" fill="#ff0000"/>
<rect x="1655.6" y="317.2" width="11.8" height="27.2" rx="5" fill="#0000ff"/>
<rect x="1657.7" y="304.2" width="10" height="40.2" rx="5" fill="#ff0000"/>
<rect x="1657.4" y="310.2" width="11.8" height="34.2" rx="5" fill="#ff0000"/>
<rect x="1659.1" y="322.8" width="11.8" height="21.6" rx="5" fill="#0000ff"/>
<rect x="1661.2" y="314.2" width="10" height="30.2" rx="5" fill="#0000ff"/>
<rect x="1660.9" y="315.7" width="11.8" height="28.7" rx="5" fill="#ff0000"/>
<rect x="1662.7" y="320.3" width="11.8" height="24.1" rx="5" fill="#0000ff"/>
<rect x="1665.2" y="309.2" width="10" height="35.2" rx="5" fill="#ff0000"/>
<rect x="1664.5" y="315.8" width="11.8" height="28.6" rx="5" fill="#ff0000"/>
<rect x="1666.2" y="319" width="11.8" height="25.4" rx="5" fill="#0000ff"/>
<rect x="1668" y="307.8" width="11.8" height="36.6" rx="5" fill="#ff0000"/>
<rect x="1669.8" y="309.5" width="11.8" height="34.9" rx="5" fill="#0000ff"/>
<rect x="1671.5" y="301.8" width="11.8" height="42.6" rx="5" fill="#ff0000"/>
<rect x="1673.2" y="296.1" width="10" height="48.3" rx="5" fill="#ff0000"/>
<rect x="1673.3" y="310" width="11.8" height="34.4" rx="5" fill="#0000ff"/>
<rect x="1675.1" y="305.4" width="11.8" height="39" rx="5" fill="#ff0000"/>
<rect x="1677.2" y="302.2" width="10" height="42.2" rx="5" fill="#ff0000"/>
<rect x="1676.8" y="311.7" width="11.8" height="32.7" rx="5" fill="#0000ff"/>
<rect x="1679.2" y="315.2" width="10" height="29.2" rx="5" fill="#0000ff"/>
<rect x="1678.6" y="325.9" width="11.8" height="18.5" rx="5" fill="#ff0000"/>
<rect x="1680.4" y="324.9" width="11.8" height="19.5" rx="5" fill="#0000ff"/>
<rect x="1682.2" y="316.7" width="11.8" height="27.7" rx="5" fill="#ff0000"/>
<rect x="1684.7" y="304.2" width="10" height="40.2" rx="5" fill="#0000ff"/>
<rect x="1683.9" y="313.6" width="11.8" height="30.8" rx="5" fill="#0000ff"/>
<rect x="1685.3" y="311.2" width="10" height="33.2" rx="5" fill="#ff0000"/>
<rect x="1685.7" y="323.5" width="11.8" height="20.9" rx="5" fill="#ff0000"/>
<rect x="1687.5" y="327.9" width="11.8" height="16.5" rx="5" fill="#0000ff"/>
<rect x="1689.2" y="312.4" width="11.8" height="32" rx="5" fill="#ff0000"/>
<rect x="1691" y="318.9" width="11.8" height="25.5" rx="5" fill="#0000ff"/>
<rect x="1693.3" y="307.7" width="10" height="36.7" rx="5" fill="#ff0000"/>
<rect x="1692.8" y="318.1" width="11.8" height="26.3" rx="5" fill="#ff0000"/>
<rect x="1694.5" y="326.4" width="11.8" height="18" rx="5" fill="#0000ff"/>
<rect x="1696.4" y="325.1" width="11.6" height="19.3" rx="5" fill="#ff0000"/>
<rect x="1698.3" y="314.2" width="10" height="30.2" rx="5" fill="#0000ff"/>
<rect x="1697.9" y="324.6" width="11.5" height="19.8" rx="5" fill="#0000ff"/>
<rect x="1699.4" y="318.3" width="11.5" height="26.1" rx="5" fill="#ff0000"/>
<rect x="1700.9" y="316.9" width="11.5" height="27.5" rx="5" fill="#0000ff"/>
<rect x="1702.4" y="301.2" width="11.5" height="43.2" rx="5" fill="#ff0000"/>
<rect x="1703.3" y="295.1" width="10" height="49.3" rx="5" fill="#0000ff"/>
<rect x="1703.8" y="310.6" width="11.5" height="33.8" rx="5" fill="#0000ff"/>
<rect x="1705.3" y="309.4" width="11.5" height="35" rx="5" fill="#ff0000"/>
<rect x="1706.8" y="316.9" width="11.5" height="27.5" rx="5" fill="#0000ff"/>
<rect x="1708.3" y="308" width="11.5" height="36.4" rx="5" fill="#ff0000"/>
<rect x="1709.7" y="316.1" width="11.5" height="28.3" rx="5" fill="#0000ff"/>
<rect x="1711.3" y="302.7" width="10" height="41.7" rx="5" fill="#ff0000"/>
<rect x="1711.2" y="306.5" width="11.5" height="37.9" rx="5" fill="#ff0000"/>
<rect x="1712.7" y="317.1" width="11.5" height="27.3" rx="5" fill="#0000ff"/>
<rect x="1714.2" y="321.9" width="11.5" height="22.5" rx="5" fill="#ff0000"/>
<rect x="1715.3" y="312.2" width="10" height="32.2" rx="5" fill="#0000ff"/>
<rect x="1715.7" y="321.5" width="11.5" height="22.9" rx="5" fill="#0000ff"/>
<rect x="1717.1" y="310.1" width="11.5" height="34.3" rx="5" fill="#ff0000"/>
<rect x="1718.6" y="316.4" width="11.5" height="28" rx="5" fill="#0000ff"/>
<rect x="1719.4" y="302.7" width="10" height="41.7" rx="5" fill="#ff0000"/>
<rect x="1720.1" y="316" width="11.5" height="28.4" rx="5" fill="#ff0000"/>
<rect x="1721.6" y="325.4" width="11.5" height="19" rx="5" fill="#0000ff"/>
<rect x="1722.4" y="310.2" width="10" height="34.2" rx="5" fill="#0000ff"/>
<rect x="1723" y="315.8" width="11.5" height="28.6" rx="5" fill="#ff0000"/>
<rect x="1724.5" y="321.3" width="11.5" height="23.1" rx="5" fill="#0000ff"/>
<rect x="1726" y="316.2" width="11.5" height="28.2" rx="5" fill="#ff0000"/>
<rect x="1727.5" y="324.9" width="11.5" height="19.5" rx="5" fill="#0000ff"/>
<rect x="1728.4" y="308" width="10" height="36.4" rx="5" fill="#0000ff"/>
<rect x="1728.9" y="301.4" width="10" height="43" rx="5" fill="#ff0000"/>
<rect x="1728.9" y="309.9" width="11.5" height="34.5" rx="5" fill="#ff0000"/>
<rect x="1730.4" y="315.3" width="11.5" height="29.1" rx="5" fill="#0000ff"/>
<rect x="1731.9" y="312.8" width="11.5" height="31.6" rx="5" fill="#ff0000"/>
<rect x="1733.4" y="313.4" width="11.5" height="31" rx="5" fill="#0000ff"/>
<rect x="1735.4" y="308.4" width="10" height="36" rx="5" fill="#0000ff"/>
<rect x="1734.8" y="311" width="11.5" height="33.4" rx="5" fill="#ff0000"/>
<rect x="1736" y="309" width="10" height="35.4" rx="5" fill="#0000ff"/>
<rect x="1736.3" y="324.4" width="11.5" height="20" rx="5" fill="#0000ff"/>
<rect x="1737.8" y="320.7" width="11.5" height="23.7" rx="5" fill="#ff0000"/>
<rect x="1739.3" y="321.5" width="11.5" height="22.9" rx="5" fill="#0000ff"/>
<rect x="1740.7" y="312.9" width="11.5" height="31.5" rx="5" fill="#ff0000"/>
<rect x="1742.2" y="314.3" width="11.5" height="30.1" rx="5" fill="#0000ff"/>
<rect x="1744" y="305.5" width="10" height="38.9" rx="5" fill="#ff0000"/>
<rect x="1743.7" y="313.1" width="11.5" height="31.3" rx="5" fill="#ff0000"/>
<rect x="1745.4" y="305.7" width="10" height="38.7" rx="5" fill="#ff0000"/>
<rect x="1745.2" y="326.4" width="11.5" height="18" rx="5" fill="#0000ff"/>
<rect x="1746.6" y="320.4" width="11.5" height="24" rx="5" fill="#ff0000"/>
<rect x="1748.4" y="312.2" width="10" height="32.2" rx="5" fill="#0000ff"/>
<rect x="1748.1" y="324.2" width="11.5" height="20.2" rx="5" fill="#0000ff"/>
<rect x="1750.1" y="306.2" width="10" height="38.2" rx="5" fill="#ff0000"/>
<rect x="1749.6" y="317.9" width="11.5" height="26.5" rx="5" fill="#ff0000"/>
<rect x="1751.1" y="317.2" width="11.5" height="27.2" rx="5" fill="#0000ff"/>
<rect x="1752.6" y="317.2" width="11.5" height="27.2" rx="5" fill="#ff0000"/>
<rect x="1753.5" y="309.7" width="10" height="34.7" rx="5" fill="#ff0000"/>
<rect x="1754.1" y="311.2" width="10" height="33.2" rx="5" fill="#ff0000"/>
<rect x="1754" y="329.5" width="11.5" height="14.9" rx="5" fill="#0000ff"/>
<rect x="1755.5" y="316.4" width="11.5" height="28" rx="5" fill="#ff0000"/>
<rect x="1757" y="318.3" width="11.5" height="26.1" rx="5" fill="#0000ff"/>
<rect x="1758.5" y="308.7" width="11.5" height="35.7" rx="5" fill="#ff0000"/>
<rect x="1759.9" y="315.2" width="11.5" height="29.2" rx="5" fill="#0000ff"/>
<rect x="1761.5" y="300.4" width="10" height="44" rx="5" fill="#ff0000"/>
<rect x="1761.4" y="312.8" width="11.5" height="31.6" rx="5" fill="#ff0000"/>
<rect x="1763.6" y="300.2" width="10" height="44.2" rx="5" fill="#ff0000"/>
<rect x="1762.9" y="306.8" width="11.5" height="37.6" rx="5" fill="#0000ff"/>
<rect x="1764" y="308.2" width="10" height="36.2" rx="5" fill="#0000ff"/>
<rect x="1764.1" y="309.2" width="10" height="35.2" rx="5" fill="#0000ff"/>
<rect x="1764.6" y="319.3" width="10.9" height="25.1" rx="5" fill="#ff0000"/>
<rect x="1765.3" y="326" width="10.4" height="18.4" rx="5" fill="#0000ff"/>
<rect x="1765.6" y="320" width="10.4" height="24.4" rx="5" fill="#ff0000"/>
<rect x="1766" y="324.5" width="10.4" height="19.9" rx="5" fill="#0000ff"/>
<rect x="1766.3" y="318.8" width="10.4" height="25.6" rx="5" fill="#ff0000"/>
<rect x="1766.7" y="321" width="10.4" height="23.4" rx="5" fill="#0000ff"/>
<rect x="1767.1" y="315.7" width="10.4" height="28.7" rx="5" fill="#ff0000"/>
<rect x="1767.4" y="319.3" width="10.4" height="25.1" rx="5" fill="#0000ff"/>
<rect x="1767.8" y="309.8" width="10.4" height="34.6" rx="5" fill="#ff0000"/>
<rect x="1768.1" y="325.1" width="10.4" height="19.3" rx="5" fill="#0000ff"/>
<rect x="1768.5" y="315" width="10.4" height="29.4" rx="5" fill="#ff0000"/>
<rect x="1768.8" y="315.4" width="10.4" height="29" rx="5" fill="#0000ff"/>
<rect x="1769.2" y="313.9" width="10.4" height="30.5" rx="5" fill="#ff0000"/>
<rect x="1769.5" y="319" width="10.4" height="25.4" rx="5" fill="#0000ff"/>
<rect x="1769.9" y="311.9" width="10.4" height="32.5" rx="5" fill="#ff0000"/>
<rect x="1770.2" y="316.7" width="10.4" height="27.7" rx="5" fill="#0000ff"/>
<rect x="1770.6" y="313.6" width="10.4" height="30.8" rx="5" fill="#ff0000"/>
<rect x="1771" y="320.2" width="10.4" height="24.2" rx="5" fill="#0000ff"/>
<rect x="1771.3" y="314" width="10.4" height="30.4" rx="5" fill="#ff0000"/>
<rect x="1771.7" y="317.5" width="10.4" height="26.9" rx="5" fill="#0000ff"/>
<rect x="1772" y="307.2" width="10.4" height="37.2" rx="5" fill="#ff0000"/>
<rect x="1772.4" y="313.9" width="10.4" height="30.5" rx="5" fill="#0000ff"/>
<rect x="1772.7" y="308.4" width="10.4" height="36" rx="5" fill="#ff0000"/>
<rect x="1773.1" y="304.4" width="10" height="40" rx="5" fill="#0000ff"/>
<rect x="1773.1" y="318.7" width="10.4" height="25.7" rx="5" fill="#0000ff"/>
<rect x="1773.4" y="316.2" width="10.4" height="28.2" rx="5" fill="#ff0000"/>
<rect x="1773.8" y="322.2" width="10.4" height="22.2" rx="5" fill="#0000ff"/>
<rect x="1774.1" y="316.1" width="10.4" height="28.3" rx="5" fill="#ff0000"/>
<rect x="1774.5" y="323.1" width="10.4" height="21.3" rx="5" fill="#0000ff"/>
<rect x="1774.9" y="310.7" width="10.4" height="33.7" rx="5" fill="#ff0000"/>
<rect x="1775.1" y="306" width="10" height="38.4" rx="5" fill="#ff0000"/>
<rect x="1775.2" y="323.9" width="10.4" height="20.5" rx="5" fill="#0000ff"/>
<rect x="1775.6" y="315.6" width="10.4" height="28.8" rx="5" fill="#ff0000"/>
<rect x="1775.9" y="313.5" width="10.4" height="30.9" rx="5" fill="#0000ff"/>
<rect x="1776.3" y="308.6" width="10.4" height="35.8" rx="5" fill="#ff0000"/>
<rect x="1776.6" y="312.7" width="10.4" height="31.7" rx="5" fill="#0000ff"/>
<rect x="1777" y="316.9" width="10.4" height="27.5" rx="5" fill="#ff0000"/>
<rect x="1777.3" y="316.2" width="10.4" height="28.2" rx="5" fill="#0000ff"/>
<rect x="1777.7" y="310.1" width="10.4" height="34.3" rx="5" fill="#ff0000"/>
<rect x="1778" y="321.7" width="10.4" height="22.7" rx="5" fill="#0000ff"/>
<rect x="1778.4" y="312.9" width="10.4" height="31.5" rx="5" fill="#ff0000"/>
<rect x="1778.8" y="314.2" width="10.4" height="30.2" rx="5" fill="#0000ff"/>
<rect x="1779.1" y="311" width="10.4" height="33.4" rx="5" fill="#ff0000"/>
<rect x="1779.5" y="320.8" width="10.4" height="23.6" rx="5" fill="#0000ff"/>
<rect x="1779.8" y="311.4" width="10.4" height="33" rx="5" fill="#ff0000"/>
<rect x="1780.2" y="317.4" width="10.4" height="27" rx="5" fill="#0000ff"/>
<rect x="1780.5" y="317.6" width="10.4" height="26.8" rx="5" fill="#ff0000"/>
<rect x="1780.9" y="320.2" width="10.4" height="24.2" rx="5" fill="#0000ff"/>
<rect x="1781.2" y="313.5" width="10.4" height="30.9" rx="5" fill="#ff0000"/>
<rect x="1781.6" y="320.7" width="10.4" height="23.7" rx="5" fill="#0000ff"/>
<rect x="1782" y="310.4" width="10.4" height="34" rx="5" fill="#ff0000"/>
<rect x="1782.2" y="308.2" width="10" height="36.2" rx="5" fill="#ff0000"/>
<rect x="1782.3" y="319.3" width="10.4" height="25.1" rx="5" fill="#0000ff"/>
<rect x="1782.7" y="314.2" width="10.4" height="30.2" rx="5" fill="#ff0000"/>
<rect x="1783" y="315.9" width="10.4" height="28.5" rx="5" fill="#0000ff"/>
<rect x="1783.4" y="310.1" width="10.4" height="34.3" rx="5" fill="#ff0000"/>
<rect x="1783.7" y="325.2" width="10.4" height="19.2" rx="5" fill="#0000ff"/>
<rect x="1784.1" y="313.9" width="10.4" height="30.5" rx="5" fill="#ff0000"/>
<rect x="1784.4" y="314.9" width="10.4" height="29.5" rx="5" fill="#0000ff"/>
<rect x="1784.8" y="314.3" width="10.4" height="30.1" rx="5" fill="#ff0000"/>
<rect x="1785.1" y="322.7" width="10.4" height="21.7" rx="5" fill="#0000ff"/>
<rect x="1785.5" y="307.2" width="10.4" height="37.2" rx="5" fill="#ff0000"/>
<rect x="1785.9" y="310.9" width="10.4" height="33.5" rx="5" fill="#0000ff"/>
<rect x="1786.2" y="307.9" width="10.4" height="36.5" rx="5" fill="#ff0000"/>
<rect x="1786.6" y="320" width="10.4" height="24.4" rx="5" fill="#0000ff"/>
<rect x="1786.9" y="307.4" width="10.4" height="37" rx="5" fill="#ff0000"/>
<rect x="1787.3" y="319.2" width="10.4" height="25.2" rx="5" fill="#0000ff"/>
<rect x="1787.6" y="312.4" width="10.4" height="32" rx="5" fill="#ff0000"/>
<rect x="1788" y="316.3" width="10.4" height="28.1" rx="5" fill="#0000ff"/>
<rect x="1788.3" y="306.8" width="10.4" height="37.6" rx="5" fill="#ff0000"/>
<rect x="1788.7" y="321.7" width="10.4" height="22.7" rx="5" fill="#0000ff"/>
<rect x="1789" y="312.5" width="10.4" height="31.9" rx="5" fill="#ff0000"/>
<rect x="1789.4" y="314.6" width="10.4" height="29.8" rx="5" fill="#0000ff"/>
<rect x="1789.8" y="305.5" width="10.4" height="38.9" rx="5" fill="#ff0000"/>
<rect x="1790.1" y="315.8" width="10.4" height="28.6" rx="5" fill="#0000ff"/>
<rect x="1790.5" y="306.7" width="10.4" height="37.7" rx="5" fill="#ff0000"/>
<rect x="1790.8" y="314.1" width="10.4" height="30.3" rx="5" fill="#0000ff"/>
<rect x="1791.2" y="299.9" width="10" height="44.5" rx="5" fill="#0000ff"/>
<rect x="1791.2" y="305.5" width="10.4" height="38.9" rx="5" fill="#ff0000"/>
<rect x="1791.5" y="315.1" width="10.4" height="29.3" rx="5" fill="#0000ff"/>
<rect x="1791.9" y="303.3" width="10.4" height="41.1" rx="5" fill="#ff0000"/>
<rect x="1792.2" y="311.1" width="10.4" height="33.3" rx="5" fill="#0000ff"/>
<rect x="1792.6" y="313.9" width="10.4" height="30.5" rx="5" fill="#ff0000"/>
<rect x="1793" y="319.8" width="10.4" height="24.6" rx="5" fill="#0000ff"/>
<rect x="1793.3" y="307.2" width="10.4" height="37.2" rx="5" fill="#ff0000"/>
<rect x="1793.7" y="320.2" width="10.4" height="24.2" rx="5" fill="#0000ff"/>
<rect x="1794" y="307.9" width="10.4" height="36.5" rx="5" fill="#ff0000"/>
<rect x="1794.4" y="321.9" width="10.4" height="22.5" rx="5" fill="#0000ff"/>
<rect x="1794.7" y="313.2" width="10.4" height="31.2" rx="5" fill="#ff0000"/>
<rect x="1795.1" y="315.2" width="10.4" height="29.2" rx="5" fill="#0000ff"/>
<rect x="1795.4" y="308.4" width="10.4" height="36" rx="5" fill="#ff0000"/>
<rect x="1795.8" y="310.1" width="10.4" height="34.3" rx="5" fill="#0000ff"/>
<rect x="1796.2" y="304.2" width="10" height="40.2" rx="5" fill="#0000ff"/>
<rect x="1796.1" y="315.9" width="10.4" height="28.5" rx="5" fill="#ff0000"/>
<rect x="1796.5" y="310.8" width="10.4" height="33.6" rx="5" fill="#0000ff"/>
<rect x="1796.9" y="315.3" width="10.4" height="29.1" rx="5" fill="#ff0000"/>
<rect x="1797.2" y="323.8" width="10.4" height="20.6" rx="5" fill="#0000ff"/>
<rect x="1797.6" y="312.6" width="10.4" height="31.8" rx="5" fill="#ff0000"/>
<rect x="1797.9" y="312.8" width="10.4" height="31.6" rx="5" fill="#0000ff"/>
<rect x="1798.3" y="316" width="10.4" height="28.4" rx="5" fill="#ff0000"/>
<rect x="1798.6" y="324.1" width="10.4" height="20.3" rx="5" fill="#0000ff"/>
<rect x="1799" y="314.3" width="10.4" height="30.1" rx="5" fill="#ff0000"/>
<rect x="1799.3" y="317.7" width="10.4" height="26.7" rx="5" fill="#0000ff"/>
<rect x="1799.7" y="310.8" width="10.4" height="33.6" rx="5" fill="#ff0000"/>
<rect x="1800" y="315.5" width="10.4" height="28.9" rx="5" fill="#0000ff"/>
<rect x="1800.4" y="309" width="10.4" height="35.4" rx="5" fill="#ff0000"/>
<rect x="1800.8" y="320.2" width="10.4" height="24.2" rx="5" fill="#0000ff"/>
<rect x="1801.1" y="311.6" width="10.4" height="32.8" rx="5" fill="#ff0000"/>
<rect x="1801.5" y="313.6" width="10.4" height="30.8" rx="5" fill="#0000ff"/>
<rect x="1801.8" y="308" width="10.4" height="36.4" rx="5" fill="#ff0000"/>
<rect x="1802.2" y="320.2" width="10.4" height="24.2" rx="5" fill="#0000ff"/>
<rect x="1802.5" y="310.2" width="10.4" height="34.2" rx="5" fill="#ff0000"/>
<rect x="1802.9" y="318" width="10.4" height="26.4" rx="5" fill="#0000ff"/>
<rect x="1803.2" y="310.6" width="10.4" height="33.8" rx="5" fill="#ff0000"/>
<rect x="1803.6" y="323.3" width="10.4" height="21.1" rx="5" fill="#0000ff"/>
<rect x="1803.9" y="317" width="10.4" height="27.4" rx="5" fill="#ff0000"/>
<rect x="1804.3" y="311.4" width="10.4" height="33" rx="5" fill="#0000ff"/>
<rect x="1804.7" y="309.4" width="10.4" height="35" rx="5" fill="#ff0000"/>
<rect x="1805" y="315.8" width="10.4" height="28.6" rx="5" fill="#0000ff"/>
<rect x="1805.4" y="318.2" width="10.4" height="26.2" rx="5" fill="#ff0000"/>
<rect x="1805.7" y="322.3" width="10.4" height="22.1" rx="5" fill="#0000ff"/>
<rect x="1806.2" y="305.4" width="10" height="39" rx="5" fill="#0000ff"/>
<rect x="1806.1" y="311.1" width="10.4" height="33.3" rx="5" fill="#ff0000"/>
<rect x="1806.4" y="314.5" width="10.4" height="29.9" rx="5" fill="#0000ff"/>
<rect x="1806.8" y="315.1" width="10.4" height="29.3" rx="5" fill="#ff0000"/>
<rect x="1807.1" y="323.5" width="10.4" height="20.9" rx="5" fill="#0000ff"/>
<rect x="1807.5" y="318.2" width="10.4" height="26.2" rx="5" fill="#ff0000"/>
<rect x="1807.9" y="316.9" width="10.4" height="27.5" rx="5" fill="#0000ff"/>
<rect x="1808.2" y="317.9" width="10.4" height="26.5" rx="5" fill="#ff0000"/>
<rect x="1808.6" y="321.9" width="10.4" height="22.5" rx="5" fill="#0000ff"/>
<rect x="1808.9" y="313.8" width="10.4" height="30.6" rx="5" fill="#ff0000"/>
<rect x="1809.3" y="326.3" width="10.4" height="18.1" rx="5" fill="#0000ff"/>
<rect x="1809.6" y="311.3" width="10.4" height="33.1" rx="5" fill="#ff0000"/>
<rect x="1810" y="323" width="10.4" height="21.4" rx="5" fill="#0000ff"/>
<rect x="1810.3" y="309.9" width="10.4" height="34.5" rx="5" fill="#ff0000"/>
<rect x="1810.7" y="315.4" width="10.4" height="29" rx="5" fill="#0000ff"/>
<rect x="1811" y="319.2" width="10.4" height="25.2" rx="5" fill="#ff0000"/>
<rect x="1811.4" y="316.3" width="10.4" height="28.1" rx="5" fill="#0000ff"/>
<rect x="1811.8" y="307.4" width="10" height="37" rx="5" fill="#ff0000"/>
<rect x="1811.8" y="318" width="10.4" height="26.4" rx="5" fill="#ff0000"/>
<rect x="1812.1" y="322.5" width="10.4" height="21.9" rx="5" fill="#0000ff"/>
<rect x="1812.5" y="319.8" width="10.4" height="24.6" rx="5" fill="#ff0000"/>
<rect x="1812.8" y="320.2" width="10.4" height="24.2" rx="5" fill="#0000ff"/>
<rect x="1813.2" y="315.3" width="10.4" height="29.1" rx="5" fill="#ff0000"/>
<rect x="1813.5" y="320.1" width="10.4" height="24.3" rx="5" fill="#0000ff"/>
<rect x="1813.9" y="322.1" width="10.4" height="22.3" rx="5" fill="#ff0000"/>
<rect x="1814.2" y="325.4" width="10.4" height="19" rx="5" fill="#0000ff"/>
<rect x="1814.6" y="324" width="10.4" height="20.4" rx="5" fill="#ff0000"/>
<rect x="1814.9" y="330.4" width="10.4" height="14" rx="5" fill="#0000ff"/>
<rect x="1815.3" y="315.9" width="10.4" height="28.5" rx="5" fill="#ff0000"/>
<rect x="1815.7" y="326.6" width="10.4" height="17.8" rx="5" fill="#0000ff"/>
<rect x="1816" y="316.5" width="10.4" height="27.9" rx="5" fill="#ff0000"/>
<rect x="1816.4" y="320.4" width="10.4" height="24" rx="5" fill="#0000ff"/>
<rect x="1816.7" y="317.2" width="10.4" height="27.2" rx="5" fill="#ff0000"/>
<rect x="1817.1" y="333" width="10.4" height="11.4" rx="5" fill="#0000ff"/>
<rect x="1817.4" y="326" width="10.4" height="18.4" rx="5" fill="#ff0000"/>
<rect x="1817.8" y="333.4" width="10.4" height="11" rx="5" fill="#0000ff"/>
<rect x="1818.3" y="316.2" width="10" height="28.2" rx="5" fill="#ff0000"/>
<rect x="1818.1" y="321.9" width="10.4" height="22.5" rx="5" fill="#ff0000"/>
<rect x="1818.5" y="329.9" width="10.4" height="14.5" rx="5" fill="#0000ff"/>
<rect x="1818.9" y="325.1" width="10.4" height="19.3" rx="5" fill="#ff0000"/>
<rect x="1819.2" y="325" width="10.4" height="19.4" rx="5" fill="#0000ff"/>
<rect x="1819.6" y="321.1" width="10.4" height="23.3" rx="5" fill="#ff0000"/>
<rect x="1819.9" y="321.2" width="10.4" height="23.2" rx="5" fill="#0000ff"/>
<rect x="1820.3" y="314.1" width="10.4" height="30.3" rx="5" fill="#ff0000"/>
<rect x="1820.6" y="320.1" width="10.4" height="24.3" rx="5" fill="#0000ff"/>
<rect x="1821" y="321.4" width="10.4" height="23" rx="5" fill="#ff0000"/>
<rect x="1821.3" y="322.6" width="10.4" height="21.8" rx="5" fill="#0000ff"/>
<rect x="1821.7" y="320.1" width="10.4" height="24.3" rx="5" fill="#ff0000"/>
<rect x="1822" y="319.5" width="10.4" height="24.9" rx="5" fill="#0000ff"/>
<rect x="1822.4" y="311.3" width="10.4" height="33.1" rx="5" fill="#ff0000"/>
<rect x="1822.8" y="322.5" width="10.4" height="21.9" rx="5" fill="#0000ff"/>
<rect x="1823.1" y="315.7" width="10.4" height="28.7" rx="5" fill="#ff0000"/>
<rect x="1823.5" y="310" width="10.4" height="34.4" rx="5" fill="#0000ff"/>
<rect x="1823.8" y="312.4" width="10.4" height="32" rx="5" fill="#ff0000"/>
<rect x="1824.2" y="309.5" width="10.4" height="34.9" rx="5" fill="#0000ff"/>
<rect x="1824.5" y="304.6" width="10.4" height="39.8" rx="5" fill="#ff0000"/>
<rect x="1824.9" y="318.9" width="10.4" height="25.5" rx="5" fill="#0000ff"/>
<rect x="1825.2" y="302.2" width="10.4" height="42.2" rx="5" fill="#ff0000"/>
<rect x="1825.6" y="308.3" width="10.4" height="36.1" rx="5" fill="#0000ff"/>
<rect x="1825.9" y="310.9" width="10.4" height="33.5" rx="5" fill="#ff0000"/>
<rect x="1826.3" y="297.7" width="10" height="46.7" rx="5" fill="#ff0000"/>
<rect x="1826.3" y="309.6" width="10.4" height="34.8" rx="5" fill="#0000ff"/>
<rect x="1826.7" y="301" width="10.4" height="43.4" rx="5" fill="#ff0000"/>
<rect x="1827" y="306.1" width="10.4" height="38.3" rx="5" fill="#0000ff"/>
<rect x="1827.4" y="302.4" width="10.4" height="42" rx="5" fill="#ff0000"/>
<rect x="1827.7" y="314.2" width="10.4" height="30.2" rx="5" fill="#0000ff"/>
<rect x="1828.1" y="300.9" width="10.4" height="43.5" rx="5" fill="#ff0000"/>
<rect x="1828.4" y="316.6" width="10.4" height="27.8" rx="5" fill="#0000ff"/>
<rect x="1828.8" y="304" width="10.4" height="40.4" rx="5" fill="#ff0000"/>
<rect x="1829.1" y="317.5" width="10.4" height="26.9" rx="5" fill="#0000ff"/>
<rect x="1829.5" y="309.9" width="10.4" height="34.5" rx="5" fill="#ff0000"/>
<rect x="1829.8" y="308.1" width="10.4" height="36.3" rx="5" fill="#0000ff"/>
<rect x="1830.3" y="298" width="10" height="46.4" rx="5" fill="#0000ff"/>
<rect x="1830.2" y="302.9" width="10.4" height="41.5" rx="5" fill="#ff0000"/>
<rect x="1830.6" y="311.8" width="10.4" height="32.6" rx="5" fill="#0000ff"/>
<rect x="1830.9" y="303.2" width="10.4" height="41.2" rx="5" fill="#ff0000"/>
<rect x="1831.3" y="316.2" width="10.4" height="28.2" rx="5" fill="#0000ff"/>
<rect x="1831.6" y="304.5" width="10.5" height="39.9" rx="5" fill="#ff0000"/>
<rect x="1832.1" y="309.8" width="10.6" height="34.6" rx="5" fill="#0000ff"/>
<rect x="1832.6" y="318" width="10.6" height="26.4" rx="5" fill="#ff0000"/>
<rect x="1833.2" y="316.9" width="10.6" height="27.5" rx="5" fill="#0000ff"/>
<rect x="1833.8" y="307.7" width="10" height="36.7" rx="5" fill="#ff0000"/>
<rect x="1833.8" y="325.7" width="10.6" height="18.7" rx="5" fill="#ff0000"/>
<rect x="1834.3" y="330.3" width="10" height="14.1" rx="5" fill="#0000ff"/>
<rect x="1834.5" y="339.9" width="10.3" height="4.5" rx="5" fill="#0000ff"/>
<rect x="1836.3" y="310.2" width="10" height="34.2" rx="5" fill="#ff0000"/>
<circle cx="245.4" cy="18" r="5" fill="#0000ff"/>
<circle cx="245.3" cy="139.2" r="5" fill="#0000ff"/>
<circle cx="245.3" cy="186.3" r="5" fill="#0000ff"/>
<circle cx="245.3" cy="189.5" r="5" fill="#0000ff"/>
<circle cx="245.3" cy="192.5" r="5" fill="#0000ff"/>
<circle cx="245.3" cy="195.3" r="5" fill="#0000ff"/>
<circle cx="245.3" cy="221.6" r="5" fill="#0000ff"/>
<circle cx="438.1" cy="310.7" r="5" fill="#0000ff"/>
<circle cx="910.2" cy="292.1" r="5" fill="#ff0000"/>
<circle cx="910.2" cy="295.6" r="5" fill="#ff0000"/>
<circle cx="1065.2" cy="303.2" r="5" fill="#ff0000"/>
<circle cx="1292.4" cy="289.6" r="5" fill="#0000ff"/>
<circle cx="1292.4" cy="297.1" r="5" fill="#0000ff"/>
<circle cx="1304.3" cy="299.2" r="5" fill="#0000ff"/>
<circle cx="1304.3" cy="300.7" r="5" fill="#0000ff"/>
<circle cx="1302.2" cy="311.7" r="5" fill="#ff0000"/>
<circle cx="1370.2" cy="285.3" r="5" fill="#0000ff"/>
<circle cx="1366" cy="293.8" r="5" fill="#0000ff"/>
<circle cx="1397.8" cy="305.9" r="5" fill="#ff0000"/>
<circle cx="1436.9" cy="294.6" r="5" fill="#0000ff"/>
<circle cx="1464.5" cy="309" r="5" fill="#0000ff"/>
<circle cx="1464.5" cy="308.7" r="5" fill="#0000ff"/>
<circle cx="1479.4" cy="289.6" r="5" fill="#ff0000"/>
<circle cx="1479.4" cy="292.1" r="5" fill="#ff0000"/>
<circle cx="1540.3" cy="316.7" r="5" fill="#0000ff"/>
<circle cx="1540.3" cy="299.7" r="5" fill="#0000ff"/>
<circle cx="1689.7" cy="297.9" r="5" fill="#0000ff"/>
<circle cx="1750.4" cy="291.1" r="5" fill="#ff0000"/>
<circle cx="1628.6" cy="288.1" r="5" fill="#0000ff"/>
<circle cx="1628.6" cy="293.1" r="5" fill="#0000ff"/>
<circle cx="1628.6" cy="298.2" r="5" fill="#0000ff"/>
<circle cx="1751" cy="291.1" r="5" fill="#ff0000"/>
<circle cx="1799.7" cy="291.9" r="5" fill="#ff0000"/>
<circle cx="1815.3" cy="299.9" r="5" fill="#ff0000"/>
</g>
<path d="M137.7,247.9H1882.5" stroke="#000" stroke-width="1.6" stroke-dasharray="6.8 4.95 1.6 4.88" stroke-dashoffset="-6.1" fill="none"/>
<path d="M206.6,338.6V355M245.9,338.6V355M274,338.6V355M299.3,338.6V355M326.9,338.6V355M352.3,338.6V355M377.2,338.6V355M401.1,338.6V355M423.9,338.6V355M445.1,338.6V355M465.1,338.6V355M485.1,338.6V355M504.9,338.6V355M523,338.6V355M539.6,338.6V355M556.1,338.6V355M571.8,338.6V355M587.4,338.6V355M603.1,338.6V355M618.7,338.6V355M634,338.6V355M647.7,338.6V355M661.6,338.6V355M675.7,338.6V355M689,338.6V355M702.2,338.6V355M714.6,338.6V355M726.5,338.6V355M738.2,338.6V355M750.5,338.6V355M762.7,338.6V355M774.8,338.6V355M786.9,338.6V355M798,338.6V355M809.3,338.6V355M820.8,338.6V355M831.3,338.6V355M842,338.6V355M852.7,338.6V355M862.8,338.6V355M872.7,338.6V355M879.8,338.6V355M889.4,338.6V355M898.7,338.6V355M908.1,338.6V355M917.4,338.6V355M929.2,338.6V355M935.7,338.6V355M944.8,338.6V355M953.8,338.6V355M963.1,338.6V355M972,338.6V355M980.9,338.6V355M989.4,338.6V355M998.2,338.6V355M1006.8,338.6V355M1015.6,338.6V355M1024.7,338.6V355M1033,338.6V355M1041.6,338.6V355M1050,338.6V355M1058.5,338.6V355M1066.9,338.6V355M1075.3,338.6V355M1085.9,338.6V355M1092,338.6V355M1100.7,338.6V355M1108.6,338.6V355M1116,338.6V355M1123.5,338.6V355M1131.5,338.6V355M1139.6,338.6V355M1146.7,338.6V355M1154.2,338.6V355M1161.7,338.6V355M1169.2,338.6V355M1176.8,338.6V355M1184.3,338.6V355M1191.8,338.6V355M1198.3,338.6V355M1204.7,338.6V355M1211.2,338.6V355M1217.7,338.6V355M1224.1,338.6V355M1230.6,338.6V355M1237,338.6V355M1243.5,338.6V355M1249.2,338.6V355M1254.9,338.6V355M1260.5,338.6V355M1266.2,338.6V355M1271.9,338.6V355M1277.6,338.6V355M1283.3,338.6V355M1288.9,338.6V355M1294.6,338.6V355M1300.3,338.6V355M1306,338.6V355M1311.8,338.6V355M1317.2,338.6V355M1322.6,338.6V355M1328,338.6V355M1333,338.6V355M1338.4,338.6V355M1343.5,338.6V355M1348.6,338.6V355M1353.7,338.6V355M1358.4,338.6V355M1363.2,338.6V355M1367.3,338.6V355M1371.3,338.6V355M1375.4,338.6V355M1379.5,338.6V355M1383.6,338.6V355M1387.6,338.6V355M1391.7,338.6V355M1395.8,338.6V355M1399.8,338.6V355M1403.9,338.6V355M1408,338.6V355M1412,338.6V355M1416.1,338.6V355M1420.2,338.6V355M1424.3,338.6V355M1428.3,338.6V355M1432.4,338.6V355M1436,338.6V355" stroke="#1a1a1a" stroke-width="2" fill="none"/>
<path d="M1439.5,338.6V355M1443.1,338.6V355M1446.6,338.6V355M1450.2,338.6V355M1453.7,338.6V355M1457.3,338.6V355M1460.9,338.6V355M1464.4,338.6V355M1468,338.6V355M1471.5,338.6V355M1475.1,338.6V355M1478.7,338.6V355M1482.2,338.6V355M1485.8,338.6V355M1489.3,338.6V355M1492.9,338.6V355M1496.4,338.6V355M1500,338.6V355M1503.5,338.6V355M1507.1,338.6V355M1510.6,338.6V355M1514.2,338.6V355M1517.7,338.6V355M1521.3,338.6V355M1524.8,338.6V355" stroke="#1a1a1a" stroke-width="2.5" fill="none"/>
<path d="M1530.4,338.6V355M1531.8,338.6V355M1535,338.6V355M1537.5,338.6V355M1540.1,338.6V355M1542.6,338.6V355M1545.1,338.6V355M1547.7,338.6V355M1550.2,338.6V355M1552.7,338.6V355M1555.2,338.6V355M1557.8,338.6V355M1560.3,338.6V355M1562.8,338.6V355M1565.4,338.6V355M1567.9,338.6V355M1570.5,338.6V355M1573.2,338.6V355M1575.8,338.6V355M1578.5,338.6V355M1581.1,338.6V355M1583.8,338.6V355M1586.4,338.6V355M1589.1,338.6V355M1591.7,338.6V355M1594.4,338.6V355M1597,338.6V355M1599.7,338.6V355M1602.3,338.6V355M1604.9,338.6V355M1607.6,338.6V355M1610.2,338.6V355M1612.9,338.6V355M1615.5,338.6V355M1618.2,338.6V355M1620.8,338.6V355M1623.5,338.6V355M1626.1,338.6V355M1628.8,338.6V355M1631.4,338.6V355M1634.1,338.6V355M1636.7,338.6V355M1638.5,338.6V355M1640.2,338.6V355M1642,338.6V355M1643.8,338.6V355M1645.6,338.6V355M1647.3,338.6V355M1649.1,338.6V355M1650.9,338.6V355M1652.6,338.6V355M1654.4,338.6V355M1656.2,338.6V355M1657.9,338.6V355M1659.7,338.6V355M1661.5,338.6V355M1663.3,338.6V355M1665,338.6V355M1666.8,338.6V355M1668.6,338.6V355M1670.3,338.6V355M1672.1,338.6V355M1673.9,338.6V355M1675.6,338.6V355M1677.4,338.6V355M1679.2,338.6V355M1681,338.6V355M1682.7,338.6V355M1684.5,338.6V355M1686.3,338.6V355" stroke="#1a1a1a" stroke-width="1.3" fill="none"/>
<path d="M1688,338.6V355M1689.8,338.6V355M1691.6,338.6V355M1693.3,338.6V355M1695.1,338.6V355M1696.9,338.6V355M1698.7,338.6V355M1700.4,338.6V355M1702.2,338.6V355M1703.7,338.6V355M1705.2,338.6V355M1706.6,338.6V355M1708.1,338.6V355M1709.6,338.6V355M1711.1,338.6V355M1712.5,338.6V355M1714,338.6V355M1715.5,338.6V355M1717,338.6V355M1718.4,338.6V355M1719.9,338.6V355M1721.4,338.6V355M1722.9,338.6V355M1724.3,338.6V355M1725.8,338.6V355M1727.3,338.6V355M1728.8,338.6V355M1730.2,338.6V355M1731.7,338.6V355M1733.2,338.6V355M1734.7,338.6V355M1736.2,338.6V355M1737.6,338.6V355M1739.1,338.6V355M1740.6,338.6V355M1742.1,338.6V355M1743.5,338.6V355M1745,338.6V355M1746.5,338.6V355M1748,338.6V355M1749.4,338.6V355M1750.9,338.6V355M1752.4,338.6V355M1753.9,338.6V355M1755.3,338.6V355M1756.8,338.6V355M1758.3,338.6V355M1759.8,338.6V355M1761.2,338.6V355M1762.7,338.6V355M1764.2,338.6V355M1765.7,338.6V355M1767.1,338.6V355M1768.6,338.6V355M1770.1,338.6V355M1770.5,338.6V355M1770.8,338.6V355M1771.2,338.6V355M1771.5,338.6V355M1771.9,338.6V355M1772.2,338.6V355M1772.6,338.6V355M1772.9,338.6V355M1773.3,338.6V355M1773.6,338.6V355M1774,338.6V355M1774.4,338.6V355M1774.7,338.6V355M1775.1,338.6V355M1775.4,338.6V355M1775.8,338.6V355M1776.1,338.6V355M1776.5,338.6V355M1776.8,338.6V355M1777.2,338.6V355M1777.6,338.6V355M1777.9,338.6V355M1778.3,338.6V355M1778.6,338.6V355M1779,338.6V355M1779.3,338.6V355M1779.7,338.6V355M1780,338.6V355M1780.4,338.6V355M1780.7,338.6V355M1781.1,338.6V355M1781.5,338.6V355M1781.8,338.6V355M1782.2,338.6V355M1782.5,338.6V355M1782.9,338.6V355M1783.2,338.6V355M1783.6,338.6V355M1783.9,338.6V355M1784.3,338.6V355M1784.6,338.6V355M1785,338.6V355M1785.4,338.6V355M1785.7,338.6V355M1786.1,338.6V355M1786.4,338.6V355M1786.8,338.6V355M1787.1,338.6V355M1787.5,338.6V355M1787.8,338.6V355M1788.2,338.6V355M1788.5,338.6V355M1788.9,338.6V355M1789.3,338.6V355M1789.6,338.6V355M1790,338.6V355M1790.3,338.6V355M1790.7,338.6V355M1791,338.6V355M1791.4,338.6V355M1791.7,338.6V355M1792.1,338.6V355M1792.5,338.6V355M1792.8,338.6V355M1793.2,338.6V355M1793.5,338.6V355M1793.9,338.6V355M1794.2,338.6V355M1794.6,338.6V355M1794.9,338.6V355M1795.3,338.6V355M1795.6,338.6V355M1796,338.6V355M1796.4,338.6V355M1796.7,338.6V355M1797.1,338.6V355M1797.4,338.6V355M1797.8,338.6V355M1798.1,338.6V355M1798.5,338.6V355M1798.8,338.6V355M1799.2,338.6V355M1799.5,338.6V355M1799.9,338.6V355M1800.3,338.6V355M1800.6,338.6V355M1801,338.6V355M1801.3,338.6V355M1801.7,338.6V355M1802,338.6V355M1802.4,338.6V355M1802.7,338.6V355M1803.1,338.6V355M1803.4,338.6V355M1803.8,338.6V355M1804.2,338.6V355M1804.5,338.6V355M1804.9,338.6V355M1805.2,338.6V355M1805.6,338.6V355M1805.9,338.6V355M1806.3,338.6V355M1806.6,338.6V355M1807,338.6V355M1807.4,338.6V355M1807.7,338.6V355M1808.1,338.6V355M1808.4,338.6V355M1808.8,338.6V355M1809.1,338.6V355M1809.5,338.6V355M1809.8,338.6V355M1810.2,338.6V355M1810.5,338.6V355M1810.9,338.6V355M1811.3,338.6V355M1811.6,338.6V355M1812,338.6V355M1812.3,338.6V355M1812.7,338.6V355M1813,338.6V355M1813.4,338.6V355M1813.7,338.6V355M1814.1,338.6V355M1814.4,338.6V355M1814.8,338.6V355M1815.2,338.6V355M1815.5,338.6V355M1815.9,338.6V355M1816.2,338.6V355M1816.6,338.6V355M1816.9,338.6V355M1817.3,338.6V355M1817.6,338.6V355M1818,338.6V355M1818.4,338.6V355M1818.7,338.6V355M1819.1,338.6V355M1819.4,338.6V355M1819.8,338.6V355M1820.1,338.6V355M1820.5,338.6V355M1820.8,338.6V355M1821.2,338.6V355M1821.5,338.6V355M1821.9,338.6V355M1822.3,338.6V355M1822.6,338.6V355M1823,338.6V355M1823.3,338.6V355M1823.7,338.6V355M1824,338.6V355M1824.4,338.6V355M1824.7,338.6V355M1825.1,338.6V355M1825.4,338.6V355M1825.8,338.6V355M1826.2,338.6V355M1826.5,338.6V355M1826.9,338.6V355M1827.2,338.6V355M1827.6,338.6V355M1827.9,338.6V355M1828.3,338.6V355M1828.6,338.6V355M1829,338.6V355M1829.3,338.6V355M1829.7,338.6V355M1830.1,338.6V355M1830.4,338.6V355M1830.8,338.6V355M1831.1,338.6V355M1831.5,338.6V355M1831.8,338.6V355M1832.2,338.6V355M1832.5,338.6V355M1832.9,338.6V355M1833.3,338.6V355M1833.6,338.6V355M1834,338.6V355M1834.3,338.6V355M1834.7,338.6V355M1835,338.6V355M1835.4,338.6V355M1835.7,338.6V355M1836.1,338.6V355M1836.4,338.6V355M1836.8,338.6V355M1837.4,338.6V355M1837.9,338.6V355M1838.5,338.6V355M1839,338.6V355M1839.6,338.6V355" stroke="#000" stroke-width="1.6" fill="none"/>
<text transform="translate(206.6,395.2) scale(1,1.06)" text-anchor="middle" font-size="26.7">1</text>
<text transform="translate(245.9,395.2) scale(1,1.06)" text-anchor="middle" font-size="26.7">2</text>
<text transform="translate(299.3,395.2) scale(1,1.06)" text-anchor="middle" font-size="26.7">4</text>
<text transform="translate(352.3,395.2) scale(1,1.06)" text-anchor="middle" font-size="26.7">6</text>
<text transform="translate(401.1,395.2) scale(1,1.06)" text-anchor="middle" font-size="26.7">8</text>
<text transform="translate(465.1,395.2) scale(1,1.06)" text-anchor="middle" font-size="26.7">11</text>
<text transform="translate(523,395.2) scale(1,1.06)" text-anchor="middle" font-size="26.7">14</text>
<text transform="translate(587.4,395.2) scale(1,1.06)" text-anchor="middle" font-size="26.7">18</text>
<text transform="translate(647.7,395.2) scale(1,1.06)" text-anchor="middle" font-size="26.7">22</text>
<text transform="translate(702.2,395.2) scale(1,1.06)" text-anchor="middle" font-size="26.7">26</text>
<text transform="translate(762.7,395.2) scale(1,1.06)" text-anchor="middle" font-size="26.7">31</text>
<text transform="translate(820.8,395.2) scale(1,1.06)" text-anchor="middle" font-size="26.7">36</text>
<text transform="translate(872.7,395.2) scale(1,1.06)" text-anchor="middle" font-size="26.7">41</text>
<text transform="translate(929.2,395.2) scale(1,1.06)" text-anchor="middle" font-size="26.7">47</text>
<text transform="translate(980.9,395.2) scale(1,1.06)" text-anchor="middle" font-size="26.7">53</text>
<text transform="translate(1033,395.2) scale(1,1.06)" text-anchor="middle" font-size="26.7">59</text>
<text transform="translate(1085.9,395.2) scale(1,1.06)" text-anchor="middle" font-size="26.7">65</text>
<text transform="translate(1139.6,395.2) scale(1,1.06)" text-anchor="middle" font-size="26.7">72</text>
<text transform="translate(1191.8,395.2) scale(1,1.06)" text-anchor="middle" font-size="26.7">79</text>
<text transform="translate(1243.5,395.2) scale(1,1.06)" text-anchor="middle" font-size="26.7">87</text>
<text transform="translate(1300.3,395.2) scale(1,1.06)" text-anchor="middle" font-size="26.7">97</text>
<text transform="translate(1363.2,395.2) scale(1,1.06)" text-anchor="middle" font-size="26.7">109</text>
<text transform="translate(1432.4,395.2) scale(1,1.06)" text-anchor="middle" font-size="26.7">126</text>
<text transform="translate(1500,395.2) scale(1,1.06)" text-anchor="middle" font-size="26.7">145</text>
<text transform="translate(1567.9,395.2) scale(1,1.06)" text-anchor="middle" font-size="26.7">168</text>
<text transform="translate(1636.7,395.2) scale(1,1.06)" text-anchor="middle" font-size="26.7">194</text>
<text transform="translate(1702.2,395.2) scale(1,1.06)" text-anchor="middle" font-size="26.7">231</text>
<text transform="translate(1770.1,395.2) scale(1,1.06)" text-anchor="middle" font-size="26.7">277</text>
<text transform="translate(1836.8,395.2) scale(1,1.06)" text-anchor="middle" font-size="26.7">465</text>
<text transform="translate(1013.1,458.7) scale(1,1.06)" text-anchor="middle" font-size="26.7">Scaffolds</text>
<path d="M294.8,44.2L366.9,78.7" stroke="#000" stroke-width="1.8"/><path d="M265,29.6L298.9,36.8L290.7,51.6Z" fill="#000"/><text transform="translate(347.5,97.9) scale(1,1.06)" font-size="26.7">LCORL</text>
</g>
<g transform="translate(0,482.6)">
<text x="13" y="34.2" font-size="46" font-weight="bold">b</text>
<path d="M137.7,338.4V13.5" stroke="#000" stroke-width="1.7" fill="none"/>
<path d="M121.2,338.4H137.7" stroke="#000" stroke-width="1.7"/>
<text transform="translate(106,348) scale(1,1.06)" text-anchor="end" font-size="26.7">0</text>
<path d="M121.2,273.4H137.7" stroke="#000" stroke-width="1.7"/>
<text transform="translate(106,283.1) scale(1,1.06)" text-anchor="end" font-size="26.7">5</text>
<path d="M121.2,208.5H137.7" stroke="#000" stroke-width="1.7"/>
<text transform="translate(106,218.1) scale(1,1.06)" text-anchor="end" font-size="26.7">10</text>
<path d="M121.2,143.5H137.7" stroke="#000" stroke-width="1.7"/>
<text transform="translate(106,153.1) scale(1,1.06)" text-anchor="end" font-size="26.7">15</text>
<path d="M121.2,78.6H137.7" stroke="#000" stroke-width="1.7"/>
<text transform="translate(106,88.2) scale(1,1.06)" text-anchor="end" font-size="26.7">20</text>
<path d="M121.2,13.6H137.7" stroke="#000" stroke-width="1.7"/>
<text transform="translate(106,23.2) scale(1,1.06)" text-anchor="end" font-size="26.7">25</text>
<g transform="translate(29.5,231) rotate(-90)" font-size="26.7"><text x="-0.5" y="0">&#8722;log</text><text x="52.4" y="5.2" font-size="17.5">10</text><text x="72.4" y="0" font-size="32.7">(</text><text x="83" y="0" font-style="italic">p</text><text x="100.5" y="0" font-size="32.7">)</text></g>
<g clip-path="url(#clipP)">
<path d="M185,323.1L183.3,326.4L184,329.3L183.2,332.5L183.8,334.4L185.2,336.3L185.3,342.6L185.9,343.7L187,344.3L222.9,344.4L224.7,343.7L225.3,342.6L225.3,336.2L226.6,334.4L227.2,332.6L226.9,330.7L226,328.8L227,326.1L226.8,324.3L226,322.7L226.8,321L227.2,317.8L226.3,313.4L225.1,311.9L223.4,311L220.4,311L218.1,312.5L217,315.3L215.4,316.6L213,316.2L209.3,307.9L208,306.2L207.8,301.9L207.2,300.1L205.1,298L202.4,297.5L199.7,298.6L198.2,300.9L198.2,306.5L196.5,309.7L194.1,309.9L191.3,310.9L187.4,313.5L184.6,316.6L183.7,318.2L183.6,320Z" fill="#ff0000"/>
<path d="M223.8,315.2L223.1,319.2L223.8,321.5L223.1,324.7L223.9,327L222.9,330.4L223.9,333.1L223.1,336.3L223.6,338.1L224.6,339.5L224.7,342.4L225.3,343.7L227,344.4L259.8,344.4L261.5,343.7L262.2,342L262.2,335.7L263.4,333.9L264,332.1L263.8,330.2L262.5,328.1L264,324.9L263.8,323L262.6,320.8L263.8,318.7L263.9,315.1L263,313.4L261.5,312.2L258.6,311.6L257,309.2L255,308.1L253.4,305.4L253.6,303.1L252.4,300.2L253.6,297.1L253.1,294L253.7,291.2L252.7,288.6L254,286.3L254,282.7L251.7,278.7L248.3,276.7L247.5,275.5L248.9,274.3L249.2,273.3L248.9,262.8L247.3,260.5L243.7,258.3L240.8,258.3L239.1,259.2L237.9,260.7L237.3,262.6L237.6,264.5L239.2,267.1L239.4,274.4L240.5,275.4L239,278.6L239.7,281.7L239.1,284.6L240,286.9L238.9,289L238.7,290.9L239.1,292.8L238.2,295.8L236,296.9L234.5,298.8L231.4,300.1L229.8,302.4L229.6,304.5L228.1,305L224.4,307.8L223.2,310.5Z" fill="#0000ff"/>
<path d="M258.9,313.6L260.8,319.6L260.2,322.5L261,324.9L260.1,326.6L259.9,328.4L261,331.2L260,333L259.9,334.9L260.4,336.7L261.5,338.2L261.5,342.4L262.1,343.7L263.9,344.4L287.1,344.4L288.8,343.7L289.5,342.4L289.6,339.4L290.7,337.8L291.2,336.1L290.5,333L291.3,329.8L289.9,326.7L291.4,323.5L290.7,320.3L291.4,315.1L290.3,312.4L288.8,311.2L287.3,310.7L286.6,309.7L286.7,305.7L285,303.3L284.7,300.9L283.9,298.9L285.1,296.9L285.3,295L284.7,293.1L283.5,291.6L281.9,290.7L279.9,290.5L278.1,291L276.6,292.2L275.5,295L276.2,298.1L274.8,301.6L270.7,304.5L269.1,309.1L267.5,309.4L263.4,308.3L261.6,308.8L260.1,310L259.1,311.7Z" fill="#ff0000"/>
<path d="M281,319L280.5,321.9L281.6,324.7L280.2,327.9L280.4,329.9L281.1,331.5L280.3,333.2L280.1,335.1L280.6,336.9L281.8,338.5L281.9,342.4L282.5,343.7L284.2,344.4L315.7,344.4L317.4,343.7L318,342.4L318.1,338.8L319.4,337.2L320,335.4L319,332L319.8,328.8L318.8,326.1L319.8,323.4L319.6,321.6L318.8,319.9L319.7,318L319.9,316.1L318.8,313.5L316,311.8L315.9,309.3L314.9,307.6L312.4,305.9L311.4,304.1L311.1,302L312,298.8L311.4,296.9L310.2,295.4L308.5,294.5L305.6,294.5L303.9,295.4L302.7,296.9L302,300.6L298.6,299.4L296.7,299.6L295,300.5L293.8,302L293.2,303.8L294.1,308.4L292.6,310.2L289.2,311.3L287,310L282.5,309.5L279.7,310.7L278.2,313L278,314.9L279.1,317.6Z" fill="#0000ff"/>
<path d="M309,310L307.8,311.5L307.2,314.2L308.4,317L310.4,318.5L311.1,322.1L310.1,324.8L311,328.2L310.1,330.1L309.9,332L310.4,333.9L311.8,335.8L311.7,341.9L312.3,343.7L314.1,344.4L334.7,344.4L336.5,343.7L337.1,342.4L337.2,339.2L338.4,337.6L338.9,335.8L338.7,333.9L338,332.3L338.8,329.9L338.1,326.7L338.9,323.4L338.4,321.6L337.2,320.1L337,318L335,313.8L333.5,312.6L331.6,312.1L329.7,312.3L327.7,313.4L324.4,313.6L322.7,312.3L320.1,311.7L317.5,309.7L314.7,309.6L312.6,308.9L310.6,309.1Z" fill="#ff0000"/>
<path d="M336.7,328.4L335.5,330.5L335.3,332.4L335.8,334.3L337.2,336.2L337.1,342.6L337.7,343.7L338.9,344.3L366.5,344.4L368.2,343.7L368.9,342.4L369,338.9L370.3,337.3L370.8,335.4L369.9,332L370.9,329.4L370.1,326.2L370.7,323.3L370.2,321.5L369.1,320.1L370.4,317.9L370.6,316.1L370.1,314.3L367.6,312L367,310L365.8,308.5L365.6,305.8L364.8,304.2L362.5,302.7L359.8,302.6L357.6,300.5L355.8,300L353.1,300.5L351.5,301.7L350.2,303.7L348.1,304.1L346.2,302.4L343.5,301.9L338.8,303.7L337.2,306L336.9,308.7L335.9,311.2L336.1,313L337,314.8L335.5,318L335.7,320L336.7,321.9L335.9,323.6L335.7,325.4Z" fill="#0000ff"/>
<path d="M361.3,329L360.7,332.7L361.2,334.6L362.6,336.5L362.5,341.9L363.2,343.7L364.9,344.4L382.4,344.4L384.1,343.7L384.8,341L386.2,339.3L386.8,337.4L385.9,334L386.5,331L385.3,328.1L386.7,325L385.7,321.6L386.7,319L386.7,315.6L388.2,312.3L388,310.4L387.1,308.7L384.8,307.2L382.9,307L381,307.5L379.1,309.3L375.4,309.1L373.2,310.4L370.8,311L369.3,312.1L367.6,311.3L364.7,310.8L362.7,311L361.1,311.9L359.5,314.2L359.3,316.1L359.8,318L361.3,319.8L361,322.1L361.8,324.4L361,326.8Z" fill="#ff0000"/>
<path d="M385.7,332.9L387.4,336.4L387.3,342.6L387.9,343.7L389.1,344.3L412,344.4L413.3,343.7L413.9,342.6L414,336L415.7,332.6L415.5,330.8L414.3,328.7L415.7,325.7L415.5,323.9L414.3,321.8L415.8,318.6L415.3,316L414.1,314.5L411.8,313.4L411.1,311.5L409.9,310L406.7,308.8L404.6,306.9L401.9,306.4L399.2,307.4L398.2,306.5L398.1,303.6L396.9,301.5L398.2,300.4L398.4,299.5L398.2,292.9L396.6,290.6L393.9,289.5L392,289.7L390.3,290.6L389.1,292.1L388.5,293.9L388.4,299.5L388.6,300.4L389.9,301.5L388.5,304.7L388.7,307.8L387,309.3L385.9,312L386.1,313.9L387.2,316L385.9,319L386.1,320.8L387,322.6L385.5,325.9L385.8,327.8L386.6,329.6Z" fill="#0000ff"/>
<path d="M411.5,331.2L410.4,333.3L410.2,335.1L410.8,336.9L412,338.7L412.1,342.6L412.7,343.7L413.8,344.3L433.2,344.4L434.9,343.7L435.5,342.4L435.6,339.1L436.7,337.6L437.2,335.9L436.6,333L437.4,329.9L436.2,327L437.1,325.3L437.3,323.5L436.2,320.9L434.8,319.7L433.1,319.2L432.9,316.9L431.7,314.6L431.3,310.6L429.7,308.3L428,307.4L426.1,307.2L424.3,307.7L422.8,308.9L421.6,311.6L421.9,314.3L421.6,317.3L419.5,318.1L416.5,316.5L414.6,316.3L412.7,316.8L411.2,318L410.1,320.8L410.3,322.7L411.2,324.5L410.3,326.3L410.1,328.2Z" fill="#ff0000"/>
<path d="M431,334.9L432.7,338.5L432.7,342.6L433.3,343.7L434.4,344.3L456.7,344.4L458.5,343.7L459.1,342.6L459.2,339L460.9,336.5L461.1,334.6L460,331.8L460.9,328.4L460.4,326.6L459.3,325.2L460.6,323L461.1,319.9L460.9,318L459.3,315.7L456.3,314.5L455.3,313.5L456.8,310L456.1,306.9L457.2,304.2L457,302.4L456,300.6L456.9,298.8L457.1,297L456.6,295.2L455.4,293.6L456.5,291.7L456.7,289.8L456.1,287.9L454.7,286.1L455.5,282.8L454.1,279.7L455.3,278.6L455.6,277.6L455.5,271L454.4,268.3L452.1,266.7L450.2,266.5L448.3,267.1L446.8,268.3L445.9,270L445.6,277.7L445.8,278.6L447,279.7L445.6,282.8L446.2,285.9L445.7,288.7L446.6,291.2L445.7,293L445.7,295.9L444.3,297.9L443.1,297.8L441.3,294.8L439.6,293.8L437.7,293.6L434.9,294.8L433.4,297.1L433.2,299L434.3,301.8L435.1,305.9L432.6,309.2L432,311.1L433.1,315.1L433.1,317.4L431.8,319.3L431.3,321.2L431.5,323.1L432.6,325.1L431.2,328.2L432,331.4L431.2,333Z" fill="#0000ff"/>
<path d="M452.5,321.3L451.6,325.6L452.9,328.7L451.9,330.5L451.8,332.3L453.3,335.7L453.2,341.9L453.9,343.7L455.6,344.4L477.8,344.4L479.5,343.7L480.1,342.6L480.3,340.1L481.6,338.4L482.2,336.6L481.4,333.4L482.2,330.2L481.3,327.6L482.1,325.1L481.4,322L482.1,318.9L481,316.2L477.8,314.1L478.6,309.8L477.7,304.1L478.5,301.6L477.9,298.6L479.1,291.1L478.6,289.2L477.4,287.7L474.6,286.6L471.9,287.1L469.8,289.2L469.4,292.5L468.3,293.1L466.9,290.8L464.7,289.3L461.7,289.3L459.4,290.8L458.3,293.6L458.5,295.5L459.8,299.2L459,301.6L459.5,304.4L458.4,307.4L459,310.4L457.6,312.1L456.9,314.9L454.7,315.5L452.8,317.5L452.3,319.2Z" fill="#ff0000"/>
<path d="M471.4,331.4L471.3,338.6L472.8,341L473.5,343.7L474.6,344.3L492.3,344.4L494.1,343.7L494.8,342L494.8,336.7L496.2,334.7L496.7,332.9L496,329.6L496.6,326.7L495.8,324.4L496.5,321.4L495.8,319.2L496.6,316.8L497.2,312.1L496.6,310.3L495.4,308.8L493.7,307.9L490.8,307.9L487.7,309L485.1,311.4L482.5,311.5L478.5,313.3L476.2,315L475.3,316.6L475.1,318.5L476.4,321.5L474.8,323.9L474.7,326.7Z" fill="#0000ff"/>
<path d="M492.2,319L491.8,321.7L492.6,324L491.9,327L492.7,329.3L491.9,332.5L493.5,335.9L493.3,341.9L494,343.7L495.8,344.4L517.4,344.4L519.2,343.7L519.8,342.4L519.8,337.2L521.1,335.4L521.7,333.5L521.5,331.7L520.6,330L521.5,327.6L521.8,323.1L521.2,321.3L520,319.8L515.9,317.9L515.5,315.2L517.6,312.4L517.6,309.3L516.1,307L512.8,305.7L512.1,303.7L510.4,301.8L510.5,300L509.7,296L508.5,294.5L502.9,291.2L503.2,288.1L502.7,286.2L500.6,284.1L498.7,283.6L496.8,283.8L495.1,284.7L493.9,286.2L493.4,288.1L494.2,291.3L493.7,293.2L493.8,295.6L494.8,298.1L494,299.8L493.8,301.6L495.4,304.9L493.9,307.3L494.1,310.8L492.9,314.7L493.2,317.2Z" fill="#ff0000"/>
<path d="M510.8,334L512.5,337.5L512.5,342.6L513.1,343.7L514.2,344.3L534,344.4L535.7,343.7L536.4,342L536.4,336.4L537.7,334.6L538.2,332.8L537.5,329.6L538.4,327L538,324.3L538.3,321.9L537.2,319.2L533.9,317.2L533.8,314.8L532.9,313L533.7,310.6L533.5,308.6L532.6,306.9L531,305.7L529.3,305.2L526.3,303.4L524.4,303.1L521.7,304.3L520.5,305.8L519.9,308.8L518.7,311.6L516.3,314.8L515.7,317.4L512.6,319.8L511.1,322.1L510.8,327.3L512,330.2L511,332.1Z" fill="#0000ff"/>
<path d="M527.5,326.2L527.6,331.5L528.3,333.6L527.4,336.8L527.9,338.6L529,340L529,342.5L529.6,343.7L531.4,344.4L551,344.4L552.8,343.7L553.4,342.4L553.5,337.4L554.8,335.8L555.3,334L555.1,332.1L554.3,330.3L555.2,327.7L554.4,324.3L555.1,322.1L554.5,319.2L555.4,315.9L554.2,313.2L551.3,311.1L551,308.4L549.9,306.4L551,304.3L551.8,298.3L551.3,296.5L549.2,294.4L547.4,293.8L545.4,294L543.8,295L542.6,296.5L541.4,300.8L539.8,304.4L540.4,307.3L539.2,309.4L539,311.3L540,313.9L538.6,315.6L538,318L535.2,318.9L531.8,318.2L529.9,318.4L528.2,319.3L527,320.8L526.5,323.5Z" fill="#ff0000"/>
<path d="M545.2,317.1L544,321.7L544.8,324.1L544.2,327.1L544.7,329.1L544,330.7L543.8,332.6L544.3,334.4L545.6,336.2L545.5,341.9L546.2,343.7L547.9,344.4L568.6,344.4L570.3,343.7L571,342.4L571.1,338.9L572.2,337.4L572.8,335.6L572.6,333.7L571.2,331.5L572.4,329.9L572.9,328.1L572.7,326.2L571.9,324.5L572.8,321.1L571.6,318.1L572.7,316L572.9,312.7L571.8,310L567.9,307.7L566.4,306.1L567.5,305.1L567.7,301.2L567.2,298.1L565.6,295.8L564,294.8L562,294.6L560.2,295.2L558.7,296.4L557.6,299.1L557.7,303.9L558.5,305.6L559.8,306.2L558.2,309.2L556.7,310.7L554.6,310.9L553.1,311.6L549.7,310.7L546.8,311.9L545.2,314.2Z" fill="#0000ff"/>
<path d="M560.2,330L561.8,333.3L560.3,336.4L560.5,338.3L561.9,340.5L562.1,342.6L562.7,343.7L563.8,344.3L579.7,344.4L581.4,343.7L582,342.6L582.1,339.8L583.5,338.1L584,336.3L583.2,332.9L583.8,329.9L582.6,326.9L583.7,324.8L583.7,321.9L582.1,319.5L580.9,316.4L578.9,314.3L578.4,311.2L576.2,309L574.8,306.4L572.5,304.9L569.6,304.9L566.4,306.8L564.9,309.1L564.3,312L562.3,313.4L561,315.6L560.9,318.4L560.1,321.6L560.4,325L561.1,326.5L560.4,328.1Z" fill="#ff0000"/>
<path d="M577,324.1L576.1,327.8L577.3,330.8L576.1,332.9L575.9,334.8L576.4,336.7L577.6,338.3L577.7,342.4L578.3,343.7L580,344.4L598.7,344.4L600.4,343.7L601.1,342.4L601.2,337.1L602.5,335.4L603,333.6L602.8,331.7L602.1,330.1L602.9,326.8L602,324.2L602.9,322.5L603.1,320.5L601.6,317.3L602.6,315.4L603,311.8L602.5,309.9L601.1,308.2L600.5,305.3L599.3,303.8L596.5,302.6L593.8,303.2L591.7,305.3L590.1,309.2L585.9,311.1L584,314L582.7,314.9L578.6,314.7L575.9,315.8L574.7,317.3L574.1,320L575.3,322.8Z" fill="#0000ff"/>
<path d="M591.8,333.1L593.3,335.6L593.2,342.6L593.8,343.7L595,344.3L609.7,344.4L611,343.7L611.6,342.6L611.7,337.9L613,336L613.6,334.2L612.8,330.9L613.4,328.9L612.8,326.1L613.6,322.8L612.8,320.4L613.6,314.9L612.4,312.2L610.2,310.6L609.6,309.6L610,305.1L608.8,302.1L609.6,301.5L610,300.2L610.6,295.1L609.4,292.4L607.1,290.8L604.2,290.8L602.5,291.7L601.5,292.9L600.1,296.2L600,300.1L600.5,301.5L601.4,302.1L600.4,304.1L600.1,306.2L599.2,307.3L594.9,308.3L593.4,309.5L592.5,311.2L591.7,317.5L593.2,320.7L591.7,323.1L591.5,325L593,328.3L591.7,331.3Z" fill="#ff0000"/>
<path d="M607.1,336.1L608.8,339.6L608.8,342.6L609.4,343.7L610.5,344.3L630.2,344.4L631.5,343.7L632.1,342.6L632.2,338.2L633.4,336.5L633.9,334.7L633.7,332.9L632.5,330.8L634.1,327.5L633.9,325.7L633,323.9L634,321.3L633.3,318.2L634,315.3L632.6,312.3L633.9,310L633.9,305.9L632.4,303.6L629.8,302.4L628.8,300.3L626.9,298.8L626.2,296.9L624.4,295L624.7,292.3L623.4,289.3L624.3,288.6L624.7,287.3L624.6,276.2L623.5,273.5L622,272.3L620.1,271.8L618.2,272L616.5,272.9L615.3,274.4L614.8,276.2L614.7,287.3L615.2,288.6L616.1,289.3L614.8,292.3L615.5,295.5L614.9,297L614.7,299.4L612.6,300.9L611.7,302.6L611.5,304.4L612.2,306.6L611,307.8L610.1,309.4L608.1,317.5L608.4,319.7L607.6,321.5L607.4,323.3L608.3,325.9L607.4,327.8L607.2,329.7L608.2,332.4L607.3,334.2Z" fill="#0000ff"/>
<path d="M622.1,335.9L623.8,338.6L623.8,342.6L624.4,343.7L625.6,344.3L642.8,344.4L644.6,343.7L645.2,342.6L645.3,339.5L646.5,338L647.1,336.2L646.9,334.3L645.5,332.1L646.9,329.9L647.1,328L646.5,326.2L645.4,324.7L646.9,321.7L646.1,318.5L647.2,315.6L647,313.7L646,312L643.8,310.4L642.7,308.2L640.1,306.5L638,301.9L635.7,300.4L632.7,300.4L626.2,302.9L624.7,304.1L623.8,305.8L622.8,310.2L623.5,313.3L622.2,316.4L622.5,318.3L623.4,320.2L622.3,323.1L622.9,326L622,328.6L622.6,331.6L621.9,334Z" fill="#ff0000"/>
<path d="M637.4,334.8L639,338.3L638.9,342.5L639.5,343.7L640.7,344.3L655.9,344.4L657.6,343.7L658.2,342.6L658.3,338.3L659.6,336.4L660.2,334.6L659.4,331.4L660.3,328.1L658.9,324.9L660,322.2L659.8,320.4L658.9,318.8L657.5,317.6L656.2,314.5L653.3,311.8L653,309.1L652.1,307.4L649.8,305.9L646.8,305.9L645.1,306.8L641.8,311.9L641.1,314.3L641.3,316.6L640,317.7L639.2,319.4L639,321.2L639.7,323.5L638.3,325.7L638.2,328.3L637.3,330.7Z" fill="#0000ff"/>
<path d="M651.4,334.1L653,336.7L652.9,342.4L653.5,343.7L655.3,344.4L663.4,344.4L665.1,343.7L665.8,342.4L665.8,337.4L667.1,335.7L667.6,333.9L667,330.9L667.6,328.8L667.7,324.8L667.2,323L665.1,320.7L665.2,318.7L664.7,316.8L662.6,314.7L660.7,314.2L657.5,314.6L653.9,316.9L652.8,318.3L652.3,320.9L652.8,322.8L651.3,326.1L652.2,329.5L651.2,332.2Z" fill="#ff0000"/>
<path d="M665.2,332.7L666.5,334.6L666.4,342.4L667.1,343.7L668.8,344.4L682,344.4L683.7,343.7L684.4,342L684.4,334.9L685.7,333.1L686.2,331.3L685.3,327.9L686.1,324.7L684.9,321.7L686.2,318.7L686.3,312.1L685.8,310.3L684.6,308.8L682.9,307.9L679.9,307.9L677.6,309.4L676.5,311.3L675.5,311.6L673.9,310.4L669.8,308.7L667.9,308.9L665.6,310.4L664.4,313.2L664.6,315.1L665.6,316.9L664.9,319.9L665.7,322.2L665,324.3L665.6,327.2L664.8,328.9L664.6,330.8Z" fill="#0000ff"/>
<path d="M678.8,325.2L678.4,327.5L679.1,329.7L678.3,333L678.8,334.9L680.1,336.7L680,342.4L680.6,343.7L682.4,344.4L692.5,344.4L694.2,343.7L694.9,342.4L695,340L696.4,338.3L696.9,336.4L696.1,333L696.9,329.7L695.7,326.6L696.6,324.8L696.8,322.9L695.7,320.2L693.1,318.2L692.4,316.4L693.1,314.1L692.9,312.2L691.3,308.3L689.2,306.2L687.3,305.7L685.4,305.9L683.7,306.8L682.5,308.3L680.9,314L681.2,316.4L679.7,319.5L680.5,322.6Z" fill="#ff0000"/>
<path d="M692,336L693.6,338.6L693.5,342.4L694.2,343.7L695.9,344.4L704,344.4L705.8,343.7L706.4,342.6L706.5,340.6L707.8,339L708.3,337.1L707.6,334L708.3,330.9L707.4,328.4L708.2,325.1L707,322.1L708.2,319.1L708.2,315.7L707.2,314.1L704,310.8L704.4,304.6L703.8,302.8L701.7,300.7L699.9,300.1L698,300.4L696.3,301.3L695.1,302.8L694.5,304.6L694.3,309.5L695.3,312.2L693.9,314.5L692.8,320.8L693,322.6L693.8,324.5L692.3,327L692.1,328.8L693,331.2L691.8,334.2Z" fill="#0000ff"/>
<path d="M704.1,289.4L704.5,290.8L706.1,291.7L705,293.7L704.8,295.6L705.5,297.8L704.9,300.8L706.2,303.7L704.8,306.8L705.6,310L704.7,313.3L705.6,315.6L704.5,318.4L705.2,321.5L704.3,324.1L704.9,327.2L704.3,330.2L705.1,332.5L704.2,334.9L704.4,336.8L706,339.2L706.1,342.6L706.7,343.7L707.8,344.3L719.7,344.3L720.8,343.7L721.4,342.6L721.5,335.8L722.7,334.1L723.2,332.3L723,330.5L722.2,328.9L723.2,326.3L722.5,323.2L723.2,320.1L721.8,317L723.1,314.8L723.3,312.9L722.8,311.1L721.7,309.6L723.1,306.6L722.7,303.9L723.4,301.6L723.2,299.7L722.3,298L719.5,296.1L717.9,294.3L714.5,293L713.4,291.9L714.1,290L714.4,283.6L713.2,280.8L711.7,279.6L709,279.1L707.2,279.6L705.7,280.8L704.8,282.5L704.1,285.6Z" fill="#ff0000"/>
<path d="M710.3,301.5L711.1,304.2L710.1,307.6L710.7,309.4L711.9,311L710.9,312.5L710.4,314.2L710.6,316L711.4,317.7L710.3,319.7L710.1,321.6L711.5,324.8L710.4,326.8L710.2,328.7L711.6,331.7L710.4,333.8L710.2,335.7L710.7,337.5L711.9,339L712.1,342.6L712.7,343.7L714,344.4L723.2,344.3L724.4,343.7L725,342.6L725.1,338.7L726.3,337.1L726.8,335.3L726.6,333.5L725.8,331.8L726.7,329.3L726,326.3L726.7,324.8L727,322.9L725.6,319.7L726.5,318L726.7,316.2L725.2,313L725.1,310.1L724.3,308.5L722.7,307.2L722.1,304.7L720.8,303.1L720.7,300L719.4,297.2L717.3,295.1L714.7,294.2L713.4,294.3L712.1,295.2L710.3,298ZM710.4,280.6L708.5,280.8L706.8,281.7L705.6,283.2L705.1,285.1L705.3,287L706.2,288.7L707.7,289.9L709.6,290.4L711.5,290.2L713.2,289.3L714.4,287.8L714.9,285.9L714.7,284L713.8,282.3L712.3,281.1Z" fill="#ff0000"/>
<path d="M717.7,340.6L718.8,343.7L720.1,344.4L729.6,344.4L730.9,343.7L731.5,342.6L731.6,338.2L732.9,336.3L733.5,334.4L733.3,332.5L732,330.4L733.5,327.2L733.3,325.3L732.2,323.3L733.3,320.6L733.1,318.8L732.3,317.1L733.3,315.1L734.5,310.1L733.3,307.4L731,305.9L728.1,305.9L726.1,307L721.6,306.9L719.3,308.4L718.3,310.1L718.3,313.1L720.8,316.4L719.4,318L718.8,320.8L717,322.8L716.5,324.7L716.7,326.6L717.6,328.4L716.4,331.4L717,334.4L716.3,337.6L716.8,339.4Z" fill="#0000ff"/>
<path d="M728,337.5L729.7,340.2L729.7,342.6L730.3,343.7L731.4,344.3L739.2,344.4L740.9,343.7L741.6,342L741.6,334.9L743,333L743.5,331.1L743.3,329.2L742.4,327.3L743.4,324.6L742.9,321.9L743.5,319.8L743.3,317.9L742.4,316.2L739.6,313.9L739.4,311.3L738.6,309.7L739.7,308.9L740.2,307.6L740.3,299.1L738.8,296.8L736,295.6L734.1,295.8L732.4,296.8L731.2,298.3L730.2,301.3L730.2,308.1L730.8,309.7L730,311.3L729.7,314.4L730.7,316.9L728.7,319L728.1,320.9L728.3,322.8L729.8,325.1L728.2,328.2L728.4,330L729.7,332.1L728.4,333.7L727.8,335.6Z" fill="#ff0000"/>
<path d="M740.5,337.6L742.8,343.7L744.1,344.4L759.7,344.4L761.5,343.7L762.1,342.6L762.2,339.3L763.3,337.8L763.9,336.1L763,332.8L763.9,330.9L764.1,329L762.9,326L764.1,323.1L763.2,319.7L764.1,316.3L762.8,313.2L763.8,311.2L764,309.3L762.6,306.1L763.9,303.9L764.1,302L763.6,300.1L762.1,298.2L761,294.7L761.1,293.1L760.5,291.2L759.3,289.7L757.6,288.8L754.7,288.8L753,289.7L751.8,291.2L749.4,298.3L749.9,301.1L748.9,303.1L748.7,304.9L749.5,307.2L747.6,309.4L744.5,311.2L741.1,316.4L741.1,319.1L742.2,321.1L741.2,322.6L740.7,324.4L740.9,326.2L741.7,327.9L740.5,330.9L741.4,334.2Z" fill="#0000ff"/>
<path d="M753.1,336.9L754.8,339.6L754.8,342.6L755.4,343.7L756.5,344.3L767.7,344.4L769,343.7L769.6,342.6L769.7,339.2L770.8,337.7L771.3,336L770.6,332.9L771.6,330.3L771.4,328.4L766.3,321.3L766.8,318.6L765.9,316.1L767.6,313.8L767.6,308L766.7,306.3L764.8,304.9L763.4,301.4L764.5,299.3L764.6,297.1L764,295.3L761.9,293.2L760.1,292.6L758.2,292.8L756.5,293.8L755.3,295.3L754.6,298L754.7,300.2L755.9,301.6L755,303.4L754.4,308.4L755.1,311.5L754.2,313.3L754.1,315.7L753.2,318.6L753.4,323.4L754.7,325.5L753.2,328.7L754,332L752.8,335Z" fill="#ff0000"/>
<path d="M765.9,318.1L765.3,325.2L766.1,327.6L765.2,329.4L765,331.3L765.9,333.8L765,337.2L765.5,339L766.7,340.6L766.8,342.6L767.4,343.7L769.2,344.4L778.3,344.4L780,343.7L780.7,342.4L780.7,337.7L782.4,334.3L782.2,332.4L781.3,330.6L782.3,327.9L781.8,325.1L782.7,321.6L781.7,319L782.7,315.5L781.5,312.7L779.4,310.9L778.5,308.7L779.1,306.8L778.9,302.2L778,300.5L776.5,299.3L772.6,298.4L770.7,298.6L769,299.6L767.8,301.1L767.3,302.9L767.5,309.2L766.5,312L766.7,313.9L767.6,315.7Z" fill="#0000ff"/>
<path d="M778.7,315L777.8,321.6L778.5,323.7L777.8,326.7L778.9,329.5L777.7,331.7L777.5,333.6L778,335.5L779.4,337.4L779.4,342.6L780,343.7L781.3,344.4L788.4,344.3L789.6,343.7L790.2,342.6L790.2,336.5L791.7,334.5L792.2,332.6L792,330.7L791.1,328.9L791.9,327.2L792.2,324.9L791,322.2L788.1,320.5L787.9,318.7L788.3,316L787.2,313.2L788.5,312.4L788.9,311.1L789.1,299.6L788,296.9L785.7,295.3L783.8,295.1L782,295.7L780.5,296.9L779.4,299L778.9,301.2L778.9,311.6L779.6,313.2Z" fill="#ff0000"/>
<path d="M789.9,333.5L788.7,335.6L788.5,337.5L789,339.3L790.3,340.9L791,343.7L792.7,344.4L804.4,344.4L806.1,343.7L806.8,342.4L806.9,337.2L808.2,335.5L808.8,333.7L808,330.4L808.6,327.4L807.4,324.5L808.2,322.8L808.4,321L807.1,318.1L807.1,314.7L805.8,312.5L805.5,310.6L804.6,308.9L803.1,307.7L800.4,307.2L796.8,308.7L792.8,307.7L791,308.2L788.9,310.3L788.3,313L789.1,315.2L789.2,317.6L790,319.3L789,321.1L788.8,323L790.4,326.2L788.8,328.6L788.6,330.5Z" fill="#0000ff"/>
<path d="M800.1,318.7L799.4,322.5L800.2,324.7L799.3,326.5L799.1,328.4L799.6,330.3L800.8,331.9L799.5,334L799.3,335.9L799.8,337.6L800.8,339L800.9,342.6L801.5,343.7L802.8,344.4L813,344.3L814.1,343.7L814.7,342.6L814.8,336.9L816,335.2L816.5,333.4L815.9,330.4L816.7,327.1L815.4,324.1L816.8,320.9L816.5,319L815.7,317.3L816.5,315.1L816.1,312.5L816.7,308.8L816,304.6L814.5,302.3L812.8,301.4L810.9,301.1L809,301.7L807.5,302.9L806.4,305.6L806.9,308.4L806.7,310.9L805.3,312.3L803.1,312.5L800.9,314L799.8,316.6Z" fill="#ff0000"/>
<path d="M812,317.9L812,325.1L813.1,327.9L812.1,329.8L811.9,331.7L813.5,335.1L813.4,341.9L814.1,343.7L815.8,344.4L830,344.4L831.7,343.7L832.3,342.6L832.4,340.3L833.6,338.8L834.1,337L833.2,333.7L833.9,332L834.1,330.2L833.6,328.4L832.5,326.9L833.6,325.4L834.1,323.6L833.5,320.7L834.4,317.3L833.4,314.6L834.3,312L834.3,309.9L833.2,307.1L830.9,305.5L829.9,303.4L831.1,301L831.3,299.1L830.7,297.3L828.6,295.2L826.8,294.6L824.9,294.8L822.5,296.4L820.8,295.6L816.9,295.1L815.1,295.7L813,297.8L812.4,299.6L812.6,301.5L813.4,303.2L812.9,306L814.1,308.9L812.6,312L813.2,314.9Z" fill="#0000ff"/>
<path d="M823,320.3L823.1,322.6L823.8,324.1L823,327.4L824.4,330.5L822.9,332.8L822.7,334.7L823.2,336.6L824.4,338.2L824.5,342.4L825.1,343.7L826.8,344.4L838.5,344.4L840.2,343.7L841,341.1L842.4,339.4L842.9,337.5L842.7,335.6L841.9,334L842.6,331.8L842,328.9L842.7,325.8L841.5,322.8L842.8,319.8L841.9,316.4L842.6,314.8L842.8,312.3L842.6,310.7L841.7,309L838.7,306.2L836,305.7L832.7,306.3L830.2,308.2L826.7,309.1L825.1,310.3L824.2,312L824,313.9L824.7,316.3L823.6,317.8Z" fill="#ff0000"/>
<path d="M832.8,321.3L832.5,323.7L833.2,326L832.5,329L833.8,332L832.4,334.2L832.2,336.2L832.7,338L834,339.6L834,342.4L834.6,343.7L836.4,344.4L850,344.4L851.8,343.7L852.4,342.4L852.4,337L853.7,335.2L854.3,333.3L854.1,331.5L853.3,329.8L854.1,328.1L854.3,326.2L853.8,324.4L852.7,322.9L853.9,320.8L854.4,314.9L853.2,312.2L851.6,310.8L852.3,307.6L851.2,304.9L848.9,303.4L845.9,303.4L843.7,304.9L842.5,307.5L840.5,309.7L838.9,308.9L837,308.7L834.2,309.8L833,311.3L832.5,314L833,315.9L834.6,318.4Z" fill="#0000ff"/>
<path d="M842.8,333.9L844.6,337.6L844.6,342.4L845.2,343.7L846.9,344.4L852.5,344.4L853.8,343.7L854.4,342L854.4,335.3L855.7,333.5L856.3,331.7L856.1,329.8L854.9,327.8L856.4,324.5L856,321.8L856.4,319.3L855.7,317.2L856.4,314.2L855.2,311.4L852.9,309.9L851,309.7L849.2,310.2L847.7,311.4L846.7,313.1L846.5,315L847.2,317.2L845.3,321.3L845.1,324L843.5,325.9L842.9,327.8L843.6,330.8Z" fill="#ff0000"/>
<path d="M854,301L853.5,303.6L855,306.8L853.9,308.9L853.7,310.7L855.1,313.7L854.1,315.1L853.6,316.9L854.2,319.9L853.3,323.3L854.2,325.8L853.4,329.1L854.5,331.9L853.6,333.7L853.4,335.6L853.9,337.3L855,338.8L855.1,342.6L855.7,343.7L857,344.4L869.7,344.3L870.8,343.7L871.4,342.6L871.5,336.3L872.7,334.5L873.2,332.8L872.4,329.6L873.2,327.2L872.6,324.4L873.4,321.1L872.8,319.3L871.8,317.9L872.9,316.4L873.4,314.6L872.5,311.2L873.4,308.7L872.8,305.7L873.5,303.5L873.4,299.7L872.9,297.9L871.7,296.4L867.3,293.7L867.1,291.6L866.1,289.7L866.9,287.4L866.7,285.5L865.8,283.8L864.3,282.6L862.4,282.1L860.5,282.3L858.8,283.2L857.6,284.7L857.1,287.4L858.2,290.3L857.4,293L854.6,295L853.7,296.7L853.5,298.6Z" fill="#0000ff"/>
<path d="M872.8,318.1L870.6,318.2L869.5,320.1L869.5,344.2L870.6,346.1L874.1,346.4L875.2,346.1L876.3,344.2L876.3,320.8L875.2,318.9ZM869.5,307.5L871,307.4L873.3,305.7L874.2,304L874.4,302.1L873.9,300.3L872.7,298.8L871,297.8L869.1,297.6L867.3,298.2L865.8,299.4L864.8,301.1L864.6,303L865.2,304.8L866.4,306.3Z" fill="#0000ff"/>
<path d="M866.2,340.1L866.4,345.3L867.2,346.1L868.3,346.4L871.8,346.4L873.7,345.3L874,333.9L872.9,331.9L868.1,330.7L866.2,331.3L864.2,333.4L863.6,336.1L864.2,337.9Z" fill="#ff0000"/>
<path d="M871.6,322.1L872.3,325.4L871.5,328.5L872.7,331.4L871.6,333.5L871.4,335.4L871.9,337.2L873.1,338.7L873.2,342.6L873.8,343.7L874.9,344.3L880.8,344.3L881.9,343.7L882.6,341.1L884,339.4L884.5,337.5L884.3,335.6L883.3,333.7L884.2,330.3L882.8,327.3L884,325.2L885,320.5L884.4,317.8L883.2,316.3L881.5,315.4L879.6,315.2L877.8,315.7L872.7,319.4Z" fill="#0000ff"/>
<path d="M881,315.6L881.4,318.1L880.6,321.4L881.5,324.9L880.7,328.2L881.5,330.6L880.6,333.9L882.2,337.3L882.2,342.6L882.8,343.7L884.1,344.4L894.3,344.3L895.4,343.7L896,342.6L896.2,338.9L897.6,337.2L898.1,335.3L897.9,333.3L896.9,331.3L898.1,328.3L897.3,324.9L898.1,322.4L898,319L897.5,317.1L896.3,315.6L893.5,313.9L892.9,311.2L891.7,309.8L885,307.2L882.3,307.7L880.2,309.8L879.7,312.5Z" fill="#ff0000"/>
<path d="M891.3,339.6L891.8,342.6L892.3,343.7L893.5,344.3L898.8,344.3L899.9,343.7L900.5,342.6L900.6,334.7L901.8,332.9L902.3,331.2L901.6,328.1L902.5,324.7L901.4,321.9L902.4,319.9L902.6,317.2L901.4,314L899.9,312.8L897.6,311.9L895.7,311.7L893.8,312.2L892.3,313.4L891.4,315.1L891.2,317L891.7,319L890.7,320.9L890.5,322.9L891.7,325.8L890.6,327.4L890,329.2L890.3,331.1L891.3,333.2L890.4,335.1L890.2,336.9Z" fill="#0000ff"/>
<path d="M900.4,315.8L899.2,321.4L900,326.2L899,329.6L899.9,332.1L899,333.8L898.8,335.8L899.4,337.7L900.7,339.3L900.7,342.4L901.4,343.7L903.1,344.4L913.8,344.4L915.5,343.7L916.1,342.6L916.2,340.7L917.5,339.1L918,337.3L917.2,333.9L917.9,331.6L917.2,328.6L918,325.4L917.5,323.5L916.3,322L917.4,320.5L917.9,318.7L918.1,314.8L917.5,312.9L915.2,310.7L914.5,308.8L913.3,307.3L911.6,306.4L908.7,306.4L905.7,308.3L902.6,309.1L901.1,310.3L899.9,313.1Z" fill="#ff0000"/>
<path d="M910.5,313.6L910,318.8L911,321.6L909.6,323.3L909,325.2L910,328.7L909.2,330.3L909,332.2L909.6,334L910.9,335.9L910.8,342.6L911.4,343.7L912.7,344.4L922.9,344.3L924,343.7L924.6,342.6L924.7,337.6L926.4,334.1L925.7,331.2L926.5,328L925.4,325.2L926.4,322.6L925.9,320L924.7,318.5L923,314.8L919.5,312.7L918.3,311.3L916.7,310.4L913.7,310.4L912,311.3Z" fill="#0000ff"/>
<path d="M922.8,311.5L924.4,314.9L923.3,320.5L923.3,323.4L924.7,326.5L923.2,329.7L923.4,331.6L924.3,333.4L923.4,335.3L923.2,337.2L923.7,338.9L924.8,340.4L924.9,342.6L925.4,343.7L926.8,344.4L934.9,344.3L936.1,343.7L936.7,342.6L936.7,338.4L937.9,336.6L938.4,334.9L938.2,333L937.4,331.3L938.5,328.4L938,325.6L938.7,322.5L937.8,320.1L938.6,317.7L938.4,315.8L937.5,314.1L935.2,312.5L934.3,309.9L932.9,308.2L928.1,306.2L925.4,306.7L923.3,308.8Z" fill="#ff0000"/>
<path d="M927.3,333.1L928.9,336.6L928.9,342.6L929.5,343.7L930.6,344.3L943.3,344.4L944.6,343.7L945.2,342.6L945.3,335.3L946.9,331.9L946.2,328.8L947.1,325.5L946,322.8L947.1,319.9L946.8,317.4L947.2,314.8L946,312L944.3,310.7L943,307.9L941.5,306.7L938.8,306.2L936.1,307.3L934.5,309.6L934.4,312.5L932.2,315.4L930,316.5L928.8,317.9L928.3,319.7L928.7,322.3L927.2,325.5L927.4,327.4L928.4,329.4L927.5,331.3Z" fill="#0000ff"/>
<path d="M937.1,325.2L936.8,328L938.1,331L937.1,333L936.9,334.8L938.4,338.2L938.4,342.6L939,343.7L940.1,344.3L946.5,344.3L947.6,343.7L948.2,342.6L948.3,335.4L949.6,333.5L950.1,331.7L949.4,328.6L950,325.7L948.8,322.8L950,320.7L950.2,318.8L949.2,316.3L949,313.1L947.4,310.8L945.7,309.9L943.8,309.7L942,310.2L940.5,311.4L938.1,315.7L936.8,322.8Z" fill="#ff0000"/>
<path d="M945.8,335.5L947.4,338.1L947.4,342.4L948,343.7L949.8,344.4L958.4,344.4L960.1,343.7L960.7,342.6L960.9,339.9L962,338.4L962.5,336.6L962.3,334.8L960.9,332.6L962,331.1L962.5,329.3L962.3,327.5L961.5,325.8L962.8,322.6L962.6,320.7L961.7,318.9L962.8,316L962.4,313.4L962.5,309.7L961,307.4L959,306.3L958.4,304.1L956.1,299.4L954.6,298.2L952.7,297.6L950.8,297.8L949.1,298.8L947.9,300.3L947.4,302.1L947.7,304.4L947.3,307.5L948.2,310.2L947,312.3L946.8,314.2L947.9,316.9L946.4,318.7L945.8,320.6L946.1,322.5L946.9,324.1L946,327.4L947.1,330.2L946.1,331.6L945.5,333.5Z" fill="#0000ff"/>
<path d="M955.2,331.9L956.5,334.3L956.4,342.4L957,343.7L958.8,344.4L963.3,344.4L964.6,343.7L965.3,342.4L965.4,339.3L966.7,337.7L967.3,335.8L967.1,333.9L966.2,332.2L967.2,329.6L967,327.7L966.1,326L967.3,323.1L966.4,319.8L967,317L964.8,312.4L965.2,309.6L964.7,307.8L962.6,305.7L960.7,305.2L958.8,305.4L957.1,306.3L955.9,307.8L955.4,309.6L955.6,311.6L956.7,313.6L955.9,317.3L956.5,320.2L955.1,323.2L955.3,325L956.4,327L955,330.1Z" fill="#ff0000"/>
<path d="M963.9,307.2L965.2,310.1L964.3,311.9L963.9,315.2L964.5,317.3L964.1,319L964.3,320.8L965.6,323L964.3,324.6L963.8,327.3L964.8,329.9L963.9,333.2L965.5,336.6L965.5,342.6L966.1,343.7L967.4,344.4L976.6,344.3L977.7,343.7L978.3,342.6L978.4,339.6L979.5,338.1L980,336.4L979.1,333.1L979.9,331.5L980.1,329.6L978.7,326.5L980,323.6L979.3,320.4L980.1,318.8L980.3,316.9L979.1,314.1L976.1,312.1L976,309.9L974.6,307.5L974.4,305.6L972.2,301.9L972.8,300L972.5,298.1L971.6,296.4L970.1,295.2L968.3,294.6L966.4,294.8L964.7,295.8L963.5,297.3L962.9,300L964.1,303L963.6,304.9Z" fill="#0000ff"/>
<path d="M975,332.7L973.8,334.7L973.6,336.6L974.1,338.5L975.4,340.1L975.5,342.6L976.1,343.7L977.8,344.4L981.4,344.4L982.7,343.7L983.3,342.4L983.4,339L984.6,337.5L985.2,335.7L984.3,332.3L985,330.7L985.2,328.8L984.2,326L985.4,323L985.1,321.1L984.2,319.2L985.1,317.3L985.3,315.3L984.8,313.5L983,310.8L984.8,308.3L985.3,305.6L984.2,302.9L981.9,301.4L979.9,301.1L978.1,301.7L976.6,302.9L975.7,304.6L975.5,306.5L976,308.3L977.2,309.8L979.2,310.9L977.2,312L975.7,313.9L975,316.2L975.5,318.9L974.4,320.4L973.8,322.3L974,324.2L975.2,326.3L974,329.1Z" fill="#ff0000"/>
<path d="M980.5,299.1L980.9,313.7L981.3,315L982.7,315.9L981.5,318.8L981.5,324.3L983,327.5L981.5,329.9L981.3,331.8L981.8,333.6L983.1,335.4L983,342.6L983.6,343.7L984.8,344.3L990.1,344.3L991.2,343.7L991.8,342.6L992,340.3L993.4,338.6L993.9,336.7L993.7,334.7L992.9,333.1L993.8,330.6L992.9,327.2L993.6,324.1L990.1,315.8L990.9,314.1L990.6,299.4L989.8,297.3L988.6,295.8L986.9,294.8L983.9,294.8L982.2,295.8L981,297.3Z" fill="#0000ff"/>
<path d="M989.9,337.8L992.2,343.7L993.3,344.3L1000.1,344.3L1001.3,343.7L1001.9,342.6L1002,339.8L1003.6,337.3L1003.9,335.4L1002.9,332.8L1003.7,329.7L1002.6,327.1L1003.6,324.6L1002.9,321.6L1003.9,319L1003.6,316.4L1004.4,312.1L1003.2,309.4L1000.9,307.9L998,307.9L996.3,308.8L995.1,310.3L994.3,313L992,314.6L991.1,316.3L990.9,318.2L991.4,320.1L990.1,322.3L989.9,324.2L991.3,327.4L990,329.5L989.8,331.5L990.9,334.4L990.1,336Z" fill="#ff0000"/>
<path d="M999.1,321.8L999.9,324.5L998.8,327.3L999.5,330.4L999,333.2L1000.6,336.6L1000.5,341.9L1001.2,343.7L1002.9,344.4L1010.1,344.4L1011.8,343.7L1012.4,342.4L1012.5,337.7L1013.8,336.2L1014.3,334.3L1014.1,332.5L1012.6,330.1L1013.6,328.7L1014.2,326.9L1014,325.1L1013.2,323.5L1014.1,321.6L1014.3,319.7L1013,316.7L1013.3,314L1012.8,312.2L1010.8,310L1009.5,306.7L1006.7,304.7L1004.9,304.2L1003,304.4L1001.3,305.3L1000.1,306.8L999.5,309.5L1000.4,313.4L999.3,316.4L999.5,318.6Z" fill="#0000ff"/>
<path d="M1011,306.4L1010.1,311.4L1010.8,316.1L1010.1,319.2L1010.9,321.5L1010.1,324.6L1010.9,326.9L1009.9,328.9L1009.7,330.8L1011,333.9L1009.9,336.7L1010.1,338.5L1011.5,340.8L1011.6,342.6L1012.2,343.7L1013.5,344.4L1018.2,344.3L1019.3,343.7L1020.1,341.1L1021.3,339.5L1021.9,337.7L1021.7,335.8L1020.7,333.9L1021.7,332L1021.9,330.1L1020.5,326.9L1021.7,324.1L1020.8,320.7L1021.6,317.6L1020.4,314.7L1021.7,311.7L1021,308.7L1021.8,307.1L1022,305.2L1020.9,302.3L1021.8,299.4L1021.9,296.8L1020.6,293.8L1018.8,292.2L1016.9,291.6L1015,291.8L1013.3,292.7L1012.1,294.3L1011.6,296.1L1012,298.7L1011.1,301.5L1012,305.1Z" fill="#ff0000"/>
<path d="M1016.6,322L1017.1,325.3L1016.5,328.2L1017.6,330.9L1016.6,332.7L1016.4,334.6L1016.9,336.5L1018.1,338L1018.1,342.4L1018.8,343.7L1020.5,344.4L1030.7,344.4L1032.4,343.7L1033,342.4L1033.1,336.9L1034.4,335L1035,333.2L1034.7,331.3L1034,329.7L1035,327.1L1034.4,324.1L1035.1,321L1033.6,317.7L1033.7,315.9L1033.1,314L1031.4,312L1030.8,309.6L1026.7,302.3L1027.6,300.4L1027.2,286.2L1025.7,283.9L1023,282.8L1021.1,283L1019.4,283.9L1018.2,285.4L1017.6,287.3L1017.6,300.1L1018,301.4L1019.4,302.2L1018.1,305.3L1018.3,308.4L1017.7,311.7L1018.4,313.9L1017.5,316.5L1017.8,318.9Z" fill="#0000ff"/>
<path d="M1025.3,336L1026.7,338.4L1026.7,342.5L1027.3,343.7L1028.5,344.3L1036.6,344.4L1037.9,343.7L1038.5,342.6L1038.6,337.7L1039.9,335.9L1040.5,334L1040.3,332.1L1039.3,330.2L1040.3,327.6L1039.6,324.5L1040.2,321.6L1039.7,319.9L1038.6,318.4L1038.2,314.5L1036.9,311.8L1035.7,310.3L1034.1,309.4L1032.1,309.2L1030.3,309.7L1028.8,310.9L1027.9,312.6L1027.8,315.2L1026.5,320.5L1027.1,323.3L1025.7,325L1025.1,326.9L1025.3,328.8L1026.6,331L1025.1,334.1Z" fill="#ff0000"/>
<path d="M1034.4,317.8L1034.9,322.4L1035.6,324L1034.5,326.9L1035.4,330.4L1034.7,333.4L1036.3,336.7L1036.2,342.4L1036.8,343.7L1038.6,344.4L1049.2,344.4L1050.9,343.7L1051.6,342L1051.6,336.2L1052.9,334.4L1053.4,332.6L1053.2,330.8L1052,328.7L1053.3,325.7L1052.5,322.5L1053.3,320.9L1053.5,318.9L1052.4,316.2L1049.8,314.3L1049.5,311.1L1048.5,309.1L1049.7,308.3L1050.1,307L1050,299.1L1048.9,296.4L1047.4,295.2L1045.5,294.6L1043.6,294.8L1041.9,295.8L1040.7,297.3L1040.2,299.1L1040.1,307.2L1041.2,309.1L1038.9,313L1036.1,314.4L1034.9,315.9Z" fill="#0000ff"/>
<path d="M1042.1,318.4L1043.6,321.3L1042.6,324L1042.8,328L1043.4,330L1042.6,333.1L1044.3,336.7L1044.3,342.6L1044.8,343.7L1046,344.3L1051.8,344.3L1053,343.7L1053.6,342.6L1053.7,340.3L1055.1,338.1L1055.3,336.2L1054.6,334.2L1055.4,331.8L1055.2,329.6L1055.6,327.8L1055,325.1L1051.3,321.3L1052.3,319L1052,316.4L1050.4,313.4L1048.9,312.2L1047,311.7L1045.1,311.9L1043.4,312.8L1042.2,314.3L1041.7,316.2Z" fill="#ff0000"/>
<path d="M1051.7,320.8L1052.5,324.5L1051.8,327.6L1053.3,330.8L1051.8,333.1L1051.6,335L1052.1,336.8L1053.2,338.3L1053.3,342.4L1053.9,343.7L1055.6,344.4L1065.8,344.4L1067.5,343.7L1068.2,342L1068.2,335.2L1069.5,333.3L1070,331.5L1069.8,329.6L1068.7,327.6L1070,325.4L1070.2,323.5L1069.6,321.6L1068.6,320.1L1069.6,318.2L1070.1,312.8L1069,310.1L1066.2,307.6L1067.4,305.6L1067.4,292.8L1066.5,288.7L1065.3,287.2L1063.6,286.3L1061.7,286.1L1059.9,286.6L1058.4,287.8L1057.5,289.5L1057.4,305.4L1058.2,307.1L1059.4,307.6L1057.7,310.9L1055.3,311.7L1053.2,313.8L1052.7,315.6L1052.9,317.9Z" fill="#0000ff"/>
<path d="M1060.9,339.3L1061.3,342.6L1061.9,343.7L1063,344.3L1069.9,344.3L1071,343.7L1071.6,342.6L1071.7,337.3L1073,335.4L1073.6,333.6L1073.4,331.7L1072.5,330L1073.4,326.8L1072.8,325.1L1071.7,323.6L1073,322L1073.5,320.2L1072.6,316.9L1073.6,313.1L1072,308.9L1069.7,307.4L1066.7,307.4L1064.4,308.9L1063.5,310.6L1062.5,314.7L1061.2,317.2L1061.2,320.1L1059.8,323.1L1060,325L1061,326.9L1059.7,330L1060.4,333.1L1059.6,335.5L1059.8,337.4Z" fill="#ff0000"/>
<path d="M1067.9,322.9L1069.1,326.3L1067.9,328.4L1067.7,330.3L1068.2,332.1L1069.2,333.5L1067.8,335.8L1067.6,337.6L1068.1,339.4L1069.2,340.9L1069.9,343.7L1071.7,344.4L1081.3,344.4L1083,343.7L1083.7,342.4L1083.8,339.5L1085.2,337.8L1085.7,336L1085.5,334L1084.5,332.1L1085.7,329.1L1084.8,325.7L1085.7,323.2L1085.6,320.8L1084.5,318.1L1081.5,315.6L1081.2,312.7L1079,307.1L1079.6,305L1079.1,302.3L1077.9,300.8L1076.2,299.8L1074.3,299.6L1072.4,300.2L1070.9,301.4L1070,303.1L1069.8,305L1070.7,307.5L1069.7,312.3L1069.9,314.3L1068.8,316.3L1067.8,320.9Z" fill="#0000ff"/>
<path d="M1081.5,314.3L1081.8,317.5L1082.2,318.8L1083.1,319.5L1082,321.4L1081.7,323.2L1082.5,326.2L1080.8,328.4L1080.3,330.2L1080.9,333.2L1080,335.8L1080.2,337.7L1081.8,340.1L1081.9,342.5L1082.5,343.7L1083.8,344.4L1087.9,344.3L1089.1,343.7L1089.7,342.6L1089.8,339.6L1090.9,338.1L1091.5,336.3L1091.3,334.5L1090.5,332.9L1091.6,330.1L1091.4,328.2L1090.4,326.4L1091.7,323.3L1091.4,321.4L1090.4,319.5L1091.3,318.8L1091.8,317.5L1091.8,312.3L1091.1,309.8L1089.9,308.3L1086.2,305.9L1084.3,305.7L1082.5,306.2L1081,307.4L1079.8,310.1L1080,312.1Z" fill="#ff0000"/>
<path d="M1084.3,321L1084.2,322.8L1085,325.3L1084.4,328.2L1085.3,330.7L1084.3,332.6L1084.1,334.5L1084.7,336.3L1085.8,337.9L1085.9,342.4L1086.5,343.7L1088.2,344.4L1098.9,344.4L1100.6,343.7L1101.2,342.6L1101.3,340.2L1102.7,338.5L1103.3,336.6L1103.1,334.6L1102.3,333L1103.1,329.9L1102.2,327.5L1103.2,324.9L1102.5,321.9L1103,319L1102.4,316.9L1103.2,314.5L1102.6,311.4L1103.2,307.1L1102.7,305.3L1101.5,303.8L1099.8,302.9L1095.4,301.6L1099,301.3L1100.1,299.4L1100,293.2L1099,291.6L1097.5,290.3L1095.7,289.8L1093.8,290L1092.1,290.9L1090.9,292.4L1090.1,296.5L1090.4,300.5L1091.2,301.3L1094,301.6L1092.4,302.1L1090.9,303.3L1090,305L1089.9,308.1L1086.3,311.4L1085.4,318.1Z" fill="#0000ff"/>
<path d="M1093.1,305.3L1093.3,311.4L1094.5,313.2L1093.7,315.7L1093.3,320.4L1094.1,323.6L1093.4,325.9L1093.9,328.6L1093.1,331L1093.9,334.3L1093.3,336.3L1093.5,338.1L1094.8,340.3L1094.9,342.6L1095.5,343.7L1097.3,344.4L1102,344.3L1103.1,343.7L1103.7,342.6L1103.8,335.8L1105.1,334L1105.6,332.2L1104.7,328.9L1105.5,327.2L1105.8,325.3L1104.6,322.4L1105.7,319.5L1105.5,315.9L1104.6,314.2L1102.3,312.4L1103.1,310.5L1102.5,305.3L1101.6,303.6L1100.1,302.4L1097.3,301.8L1094.6,303Z" fill="#ff0000"/>
<path d="M1100.9,320.8L1101,325.5L1102,328.2L1100.9,330.2L1100.7,332.1L1101.3,334L1102.5,335.7L1102.4,342.6L1103,343.7L1104.2,344.3L1110,344.3L1111.1,343.7L1111.7,342.6L1111.9,340.5L1113.2,338.8L1113.8,337L1113.6,335L1112.8,333.4L1113.6,330.1L1112.3,327L1113.5,324.9L1113.7,320.8L1112.6,318.1L1110.7,316.6L1110.2,313.1L1108.1,311L1106.2,310.5L1104.3,310.7L1102.6,311.6L1101.4,313.1L1100.9,315L1101.4,317.7Z" fill="#0000ff"/>
<path d="M1109.3,316.1L1108.9,324.2L1110.3,327.4L1109,330.4L1109.8,333.6L1108.8,335.5L1108.8,338.4L1110.4,340.8L1110.5,342.6L1111.1,343.7L1112.4,344.4L1117,344.3L1118.2,343.7L1118.8,342.6L1118.9,339.1L1120,337.6L1120.5,335.9L1120.3,334.1L1119,332L1120.1,330.5L1120.7,328.6L1120,325.5L1120.7,322.3L1119.8,319.8L1120.5,316.7L1119.7,314.3L1120.5,312.7L1120.7,310.8L1118.6,305.8L1117.6,304.3L1118.2,302.2L1117.7,299.5L1116.5,298L1114.8,297L1112.9,296.8L1111,297.4L1109.5,298.6L1108.6,300.3L1108.6,303.2L1110,305.5L1109.3,307.6L1109.5,311.2L1110.6,313.9Z" fill="#ff0000"/>
<path d="M1116.2,301.2L1116.6,302.5L1117.8,303.3L1116.7,305.3L1116.5,307.2L1116.9,309.2L1117.9,311.2L1116.5,314.2L1116.7,316.1L1117.5,317.8L1116.3,320.9L1117,324.1L1116.4,327.1L1117.2,329.3L1116.3,331.7L1117,334.7L1116.3,336.8L1116.5,338.7L1117.8,340.9L1118,342.6L1118.6,343.7L1120.3,344.4L1126.1,344.3L1127.2,343.7L1127.8,342.6L1127.9,334.8L1129.3,332.9L1129.8,331L1128.9,327.7L1129.7,324.6L1129.1,322.8L1127.9,321.2L1129,319.8L1129.6,318L1128.8,314.9L1129.6,313.1L1129.9,311.1L1128.7,308.3L1126.4,306.6L1125.1,303.4L1126.2,301.3L1126.3,292.1L1125.1,289.3L1123.6,288.1L1121.8,287.6L1119.9,287.8L1118.2,288.7L1117,290.2L1116.2,293.7Z" fill="#0000ff"/>
<path d="M1124.9,318.6L1124.8,324L1126.1,327.1L1124.8,330.2L1125,332.1L1125.8,333.8L1124.8,335.8L1124.6,337.7L1125.2,339.5L1126.4,341.1L1126.5,342.6L1127.1,343.7L1128.4,344.4L1136.1,344.3L1137.2,343.7L1137.8,342.6L1138,337.9L1139.3,336.2L1139.9,334.4L1139.7,332.4L1138.7,330.5L1139.5,328.9L1139.7,327.1L1138.5,324.1L1139.7,321.2L1139,318.2L1139.8,315L1138.7,312.2L1135.8,310.5L1134.7,308.6L1136.4,306.8L1137.3,303.1L1136.2,300.4L1133.9,298.8L1132,298.6L1130.1,299.2L1127.7,301.4L1126.7,303.1L1126.4,306.8L1127,308.2L1125.9,311.1L1126.2,313.5Z" fill="#ff0000"/>
<path d="M1131.7,322.6L1132.7,324.7L1131.5,327.6L1132.2,330.7L1131.5,333.7L1133.1,337L1133,342.4L1133.6,343.7L1135.4,344.4L1142.5,344.4L1144.2,343.7L1144.9,342.4L1145,337.8L1146.1,336.3L1146.6,334.5L1146.4,332.7L1145.3,330.6L1146.8,327.5L1146.6,325.6L1145,323.2L1145.8,320.1L1144.6,317.3L1142.1,315.7L1140.8,311.8L1138.7,309.7L1136.8,309.2L1134.9,309.4L1133.2,310.3L1132,311.8L1131.5,314.5L1132.4,317.7L1131.5,320.6Z" fill="#0000ff"/>
<path d="M1141.1,342.6L1141.7,343.7L1143,344.4L1149.5,344.4L1151.3,343.7L1151.9,342.4L1152,339L1153.3,337.4L1153.8,335.5L1153.3,332.8L1152,331.2L1153,329.8L1153.6,328L1153,325.3L1153.7,323.8L1153.9,321.4L1153.3,319L1151.2,316.9L1148.2,316.3L1146.7,315.2L1144.8,314.7L1142.9,314.9L1141.2,315.8L1140,317.3L1139.5,319.2L1139.5,321.7L1140.5,324.4L1139.4,327.1L1140.3,330.3L1139.4,333.7L1139.9,335.5L1141.1,337.2Z" fill="#ff0000"/>
<path d="M1148,287.1L1148.4,290.9L1149.4,292.5L1148.8,294.6L1148.8,297.5L1149.8,300.7L1148.8,302.6L1148.6,304.5L1149.7,307.3L1151.9,309.2L1149.8,312L1149.6,313.9L1150.2,315.9L1148.1,318L1147.6,319.9L1148.3,322.9L1147.6,325.8L1148.8,328.6L1147.6,330.7L1147.4,332.6L1147.9,334.4L1149.1,336.1L1149.1,342.6L1149.7,343.7L1151,344.4L1159.7,344.3L1160.8,343.7L1161.4,342.6L1161.5,340.7L1162.6,339.2L1163.1,337.5L1162.9,335.7L1162.1,334L1163.4,330.9L1162.6,327.7L1163.4,324.4L1162.1,321.3L1163,319.5L1163.4,316.8L1162.2,314L1159.4,312.3L1158.3,310.3L1156.7,309L1156.8,307.9L1158.7,305.9L1159.3,303L1158.8,299.8L1158.9,295.9L1157.5,291.7L1158.2,290L1157.7,286L1156.7,284.3L1155.2,283.1L1153.4,282.6L1151.5,282.8L1149.8,283.7L1148.6,285.2Z" fill="#0000ff"/>
<path d="M1155.9,325.3L1155.4,328.8L1156.2,331.2L1155.5,334.3L1157.1,337.8L1157.1,342.6L1157.7,343.7L1158.8,344.3L1164.2,344.3L1165.3,343.7L1167.8,337.8L1167,334.6L1167.7,331.6L1166.5,328.8L1167.5,327L1167.6,325.2L1166.5,322.3L1167.7,319.4L1167.9,314.2L1166.8,311.4L1165.3,310.2L1163.4,309.7L1161.5,309.9L1159.8,310.8L1158.2,312.9L1156.9,316.3L1157.3,319.3L1156,321L1155.5,322.8Z" fill="#ff0000"/>
<path d="M1160,320.6L1160,344.2L1161.1,346.1L1164.5,346.4L1165.6,346.1L1166.7,344.2L1166.7,317.7L1166.5,316.7L1165,315.6L1163.8,312.4L1162.3,311.2L1160.4,310.7L1158.5,310.9L1156.8,311.8L1155.6,313.3L1155.1,315.2L1155.3,317.1L1156.2,318.8L1157.7,320Z" fill="#ff0000"/>
<path d="M1163.2,319L1163.1,321.4L1163.7,323.5L1163.3,326.1L1164.4,328.8L1163.1,331.8L1163.7,334.5L1162.9,336.9L1163.1,338.8L1164.5,341.1L1165.3,343.7L1167,344.4L1171.7,344.3L1172.9,343.7L1173.5,342.6L1173.6,338.9L1174.7,337.4L1175.2,335.7L1174.5,332.5L1175.4,329.9L1174.5,326.5L1175.2,324.2L1174.5,321.2L1175.5,317.8L1174.1,314.7L1175.2,312.6L1175.5,308.2L1174.9,306.4L1173.4,304.5L1174.4,301.8L1174.2,299.9L1172.7,297.6L1171,296.6L1169.1,296.4L1167.3,297L1165.8,298.2L1164.8,299.9L1164.8,302.8L1166.7,305.4L1165.8,307.2L1165.6,309.2L1164.1,311.6L1163.9,313.6L1164.5,315.7Z" fill="#0000ff"/>
<path d="M1170.3,294L1170.3,300.7L1170.8,302L1172.2,302.9L1170.9,305.9L1171.7,309.1L1170.9,311.4L1171.6,314.5L1170.7,317.1L1171.5,320.3L1170.7,323.5L1171.6,325.9L1170.7,327.8L1170.5,329.7L1171.7,332.7L1170.7,334.7L1170.5,336.6L1171,338.4L1172.1,339.9L1172.2,342.4L1172.8,343.7L1174.5,344.4L1179.6,344.4L1180.9,343.7L1181.5,342.6L1181.6,338.6L1182.8,337.1L1183.4,335.3L1182.5,332L1183.2,328.9L1182.3,326.4L1183.4,323.5L1182.5,320.2L1183.5,316.7L1182.4,314L1183.3,312.3L1183.5,310.4L1182.9,308.6L1180.8,306.3L1179.4,302.9L1180.3,301L1180.3,297L1179.8,294L1178.2,291.7L1175.5,290.6L1173.6,290.8L1171.9,291.7Z" fill="#ff0000"/>
<path d="M1177.7,303.2L1179,305.6L1178.1,308.9L1179.1,311.6L1178.3,313.9L1178.9,316.7L1178.1,319.1L1178.1,321.2L1179,323.6L1178.2,326L1178.8,329L1178.1,331.2L1178.6,334L1177.7,336.4L1178,338.4L1179.6,340.8L1179.7,342.6L1180.3,343.7L1181.4,344.3L1190.8,344.3L1191.9,343.7L1192.5,342.6L1192.6,335.5L1194.3,332.1L1193.4,328.8L1194.5,326L1194.3,324.1L1193.5,322.5L1194.5,319.7L1194.3,317.7L1192.8,315.5L1190.8,314.4L1190.2,311.6L1188.3,309.5L1187.8,307L1186.8,305.1L1187.6,304L1188,300.1L1187.4,298.3L1186.2,296.8L1183.5,295.6L1181.6,295.8L1179.9,296.8L1178.4,299.1Z" fill="#0000ff"/>
<path d="M1185.8,324.1L1186.1,330.7L1185.2,333.9L1186.8,337.6L1186.8,342.5L1187.3,343.7L1188.5,344.3L1191.8,344.3L1192.9,343.7L1193.5,342.6L1193.6,338.4L1195.3,334.9L1194.5,331.9L1195.2,329.7L1195,327.5L1195.5,324.7L1194.8,319.6L1193.9,317.9L1192.4,316.7L1190.5,316.2L1188.6,316.4L1186.9,317.3L1185.7,318.8L1185.2,320.7Z" fill="#ff0000"/>
<path d="M1191.7,334.1L1193.3,337.5L1193.2,342.4L1193.8,343.7L1195.6,344.4L1203.2,344.4L1205,343.7L1205.6,342.6L1205.7,339.1L1206.8,337.6L1207.3,335.8L1207.2,334L1205.7,331.7L1206.8,330.2L1207.3,328.4L1206.6,325.4L1207.5,322.8L1206.9,319.8L1207.6,317.6L1207.3,315.7L1205.8,313.4L1203,311.6L1201.7,309.1L1202.7,308L1202.9,307.1L1203,301.3L1202.5,299.5L1201.3,298L1198.5,296.8L1196.6,297L1194.9,298L1193.7,299.5L1193.2,301.3L1192.9,306.9L1193.7,308.6L1194.7,309.1L1193.3,312.2L1193.1,317.5L1192,320.3L1192.8,323.4L1191.6,326.4L1191.8,328.3L1192.9,330.4L1191.9,332.3Z" fill="#0000ff"/>
<path d="M1196.9,318.1L1198.4,320.7L1198.2,323.5L1199.1,326.1L1198.3,329.3L1199.5,332.2L1198.3,334.3L1198.1,336.1L1198.6,337.9L1199.7,339.4L1199.8,342.6L1200.4,343.7L1201.5,344.3L1205.3,344.3L1206.5,343.7L1207.1,342.6L1207.2,339.2L1208.4,337.7L1208.9,335.9L1208,332.6L1208.9,329.4L1208,327L1209.2,324.1L1208.8,319.8L1207.9,318.1L1206.6,317L1206.3,315.1L1205.4,313.4L1203.1,311.9L1201.2,311.7L1198.5,312.8L1196.9,315.1Z" fill="#ff0000"/>
<path d="M1204.4,317.6L1205.3,324.7L1204.7,326.7L1205,334L1204.4,336.1L1204.6,338L1206.2,340.5L1206.3,342.6L1206.9,343.7L1208.2,344.4L1210.9,344.3L1212,343.7L1212.6,342.6L1212.7,340.3L1213.7,338.8L1214.3,337L1214,334.6L1214.5,332.6L1214.2,329.8L1214.6,326.7L1214,324.6L1214.6,321.5L1213.5,316.8L1212.3,315.3L1210.6,314.4L1208.7,314.2L1206.9,314.7L1205.4,315.9Z" fill="#0000ff"/>
<path d="M1211.4,317.3L1211.5,325.8L1212.8,327.9L1211.5,330.1L1211.3,331.9L1212.9,335.3L1212.7,341.9L1213.4,343.7L1215.2,344.4L1225.3,344.4L1227,343.7L1227.7,342L1227.7,335.4L1229.4,331.9L1228.7,329L1229.5,327.4L1229.7,325.5L1228.7,322.8L1229.6,319.5L1228.2,316.3L1229.6,313.1L1229.4,309.8L1227.9,307.5L1225.8,306.4L1224.6,305L1221.4,302.8L1218.3,298.3L1215.6,297.1L1213.7,297.3L1212,298.3L1210.8,299.8L1210.3,301.6L1210.5,303.5L1212.3,307.5L1211.2,310.3L1211.5,312.2L1212.7,314.3Z" fill="#ff0000"/>
<path d="M1219.3,331.9L1218.2,333.9L1218,335.8L1218.5,337.7L1219.8,339.3L1219.8,342.4L1220.4,343.7L1222.2,344.4L1230.8,344.4L1232.5,343.7L1233.2,342.4L1233.3,337.4L1234.6,335.7L1235.2,333.8L1235,331.9L1233.6,329.6L1234.7,327.6L1234.9,325.8L1233.4,322.7L1234.9,320.3L1235.1,318.4L1234.6,316.6L1233.3,314.9L1231.6,309.3L1230.4,307.8L1228.7,306.9L1225.7,306.9L1223.4,308.4L1222.5,310.1L1222.3,312.5L1220.9,314.3L1220.1,316.1L1220,319L1218.6,322.2L1219.2,325.2L1218.1,328L1218.3,329.9Z" fill="#0000ff"/>
<path d="M1223.9,336.2L1225.5,339.7L1225.5,342.5L1226.1,343.7L1227.2,344.3L1234.8,344.4L1236.1,343.7L1236.7,342.6L1236.7,338.7L1238.4,335.3L1238.2,333.5L1237,331.4L1238.4,328.3L1237.7,325.2L1238.4,323.1L1237.8,320.2L1238.6,316.8L1238.1,315L1235.5,311.4L1233.2,309.9L1231.3,309.7L1229.4,310.2L1227.9,311.4L1227,313.1L1226.8,315L1228,318.2L1226.2,320.8L1225.8,323.6L1226.4,325.6L1224.6,327.7L1224,329.5L1224.8,332.8Z" fill="#ff0000"/>
<path d="M1232,331.1L1230.8,333.1L1230.6,335L1231.1,336.9L1232.3,338.4L1232.3,342.4L1233,343.7L1234.7,344.4L1241.8,344.4L1243.6,343.7L1244.3,342L1244.3,335.8L1245.5,334.1L1246,332.3L1245.8,330.4L1244.6,328.3L1245.9,326.1L1246.2,321L1245,318.3L1243.5,317.1L1241.7,316.5L1238.8,313.5L1242.4,313.2L1243.5,311.3L1243.5,307.6L1242.9,304.9L1241.4,302.6L1239.7,301.7L1237.8,301.4L1236,302L1234.5,303.2L1233.5,304.9L1233.5,311.5L1233.7,312.4L1234.7,313.5L1232.3,315.8L1230.9,320.8L1231.2,322.6L1231.9,324.2L1231,326L1230.8,327.8Z" fill="#0000ff"/>
<path d="M1236.5,326.8L1238.6,328.5L1238.5,343.4L1239.2,344.8L1240.4,345.8L1242.1,346.4L1243.9,346.2L1245.8,344.9L1246.7,342.6L1246.8,326.8L1244.6,321.3L1242.5,319.2L1240.7,318.7L1238.8,318.9L1237.1,319.8L1235.9,321.3L1235.3,323.2L1235.5,325.1Z" fill="#ff0000"/>
<path d="M1244.1,334.9L1245.4,336.8L1245.4,342.4L1246,343.7L1247.8,344.4L1255.4,344.4L1257.1,343.7L1257.8,342L1257.8,336.5L1259.5,333.1L1259.3,331.2L1257.9,329L1258.9,327.5L1259.4,325.8L1259.2,324L1258.4,322.2L1259.4,320.3L1259.6,318.4L1258.4,315.5L1259.4,313.5L1259.6,311.6L1258.5,309L1256.7,307.4L1256.7,304.6L1256.2,302.8L1255,301.3L1253.3,300.4L1251.4,300.1L1249.5,300.7L1248,301.9L1247.1,303.6L1246.8,308.8L1247.7,311.3L1246.5,313.4L1246.4,316.1L1244.6,318.1L1244.1,319.8L1244.3,321.7L1245.2,323.4L1243.7,326.7L1244.4,329.8L1243.5,333.1Z" fill="#0000ff"/>
<path d="M1249.3,324.9L1248.6,328.5L1249.2,330.4L1250.2,331.9L1248.9,334.1L1248.6,336L1249.2,337.8L1250.4,339.4L1250.4,342.6L1251,343.7L1252.2,344.3L1256,344.3L1257.1,343.7L1257.7,342.6L1257.9,338.9L1259.2,337.2L1259.8,335.3L1258.9,331.9L1259.5,329L1258.7,326.6L1259.7,324L1258.9,320.8L1261,317.1L1261.2,315.2L1260.7,313.3L1259.5,311.8L1257.8,310.9L1254.8,310.9L1253.1,311.8L1251,314.2L1250,316L1250,319L1248.9,322.3Z" fill="#ff0000"/>
<path d="M1255.1,317L1254.9,325.2L1255.5,327.3L1254.7,330.6L1256,333.6L1254.9,335.7L1254.7,337.6L1255.2,339.4L1256.3,340.9L1256.4,342.6L1257,343.7L1258.8,344.4L1269.4,344.4L1271.2,343.7L1271.8,342.6L1271.9,340.6L1273.2,338.9L1273.8,337.1L1273.6,335.2L1272.2,333L1273.6,329.9L1272.7,326.5L1273.8,323.7L1273.5,321.8L1272.6,320.1L1269.9,318L1268,312.9L1265.6,311.2L1264.9,310.1L1265,305.6L1263.5,303.3L1261.8,302.4L1259.9,302.1L1258,302.7L1256.5,303.9L1255.6,305.6L1255.8,309.2L1255.2,312.1L1256,314.5Z" fill="#0000ff"/>
<path d="M1271.8,330.5L1271.7,345.3L1272.5,346.1L1273.6,346.4L1276.7,346.4L1278.6,345.3L1278.9,330.5L1280.1,328.1L1280.3,326.2L1279.7,324.3L1277.8,321.8L1275.6,321.6L1273.1,322.2L1271.6,323.5L1270.7,325.1L1270.7,328.1Z" fill="#ff0000"/>
<path d="M1273.3,319.4L1272.9,324.1L1274.1,327L1273,329L1272.7,330.9L1273.9,333.8L1272.8,335.8L1272.6,337.7L1273.2,339.6L1274.4,341.1L1274.5,342.6L1275.1,343.7L1276.4,344.4L1285.1,344.3L1286.2,343.7L1286.8,342.6L1287,339.1L1288.2,337.6L1288.7,335.8L1288.5,333.9L1287.6,332.1L1288.5,329.6L1288,326.7L1288.6,323.7L1287.5,320.9L1288.8,317.8L1287.9,314.4L1288.8,310.7L1287.7,308L1285.8,306.5L1285.3,303.8L1283.2,301.7L1281.3,301.1L1279.4,301.4L1277.7,302.3L1276.5,303.8L1276,306.5L1277.1,310.3L1274.5,313.1Z" fill="#0000ff"/>
<path d="M1281.5,342.1L1282.4,344.8L1283.5,345.8L1285.2,346.4L1288.8,345.9L1290.7,343.5L1290.9,316.4L1292.1,314.1L1292.3,312.1L1291.2,309.4L1288.9,307.9L1287,307.7L1285.1,308.2L1283.6,309.4L1282.7,311.1L1281.9,320.9Z" fill="#ff0000"/>
<path d="M1288.2,313.2L1287.8,324.4L1288.7,326.9L1287.8,330.2L1288.7,332.7L1287.9,335.8L1288.4,337.6L1289.5,339L1289.6,342.6L1290.1,343.7L1291.3,344.3L1296.1,344.3L1297.2,343.7L1297.8,342.6L1297.9,337.8L1299.6,334.4L1299.4,332.6L1298,330.4L1299.2,328.9L1299.7,327.1L1298.9,323.9L1299.6,321L1298.2,317.9L1299,316.3L1299.2,314.4L1298.1,311.7L1295.9,309.5L1296.8,307L1296.3,304.3L1295.1,302.8L1293.4,301.9L1291.5,301.6L1289.6,302.2L1288.1,303.4L1287.2,305.1L1287.2,308L1289.2,310.7Z" fill="#0000ff"/>
<path d="M1293.5,327.6L1294.6,331.4L1293.6,333.8L1293.4,335.7L1293.9,337.5L1295,339L1295.1,342.5L1295.7,343.7L1296.8,344.3L1299.6,344.3L1300.8,343.7L1301.4,342.6L1301.4,339.1L1303,335.5L1303.1,333.8L1302.3,331.4L1303.3,327.2L1303,324.5L1303.4,318.8L1302.8,317L1301.2,315.1L1301.3,313.2L1300.8,311.3L1299.6,309.8L1297.9,308.9L1296,308.7L1294.1,309.2L1292.6,310.4L1291.7,312.1L1291.7,315.1L1293.6,317.7L1293.9,324.7Z" fill="#ff0000"/>
<path d="M1299.5,318.5L1299.6,323.1L1300.8,325.9L1299.5,328.9L1300.1,331.8L1299.2,335.2L1299.7,337L1301,338.7L1301.1,342.6L1301.7,343.7L1302.8,344.3L1308.2,344.3L1309.3,343.7L1309.9,342.6L1310,334.8L1311.6,331.4L1310.8,328.2L1311.6,325.1L1310.6,322.4L1311.7,320.3L1312,318.3L1311.4,316.5L1309.6,314.2L1308.9,312.4L1309.4,310.5L1309.2,308.6L1308.2,306.9L1306.7,305.7L1304.9,305.2L1303,305.4L1301.3,306.3L1300.1,307.8L1299.5,309.6L1300.3,312.9Z" fill="#0000ff"/>
<path d="M1305,342.1L1305.9,344.8L1307.1,345.8L1309.3,346.4L1312.9,345.9L1314.4,344.3L1314.9,342.6L1314.9,318.3L1314.5,316.8L1313.2,314.9L1311.7,313.7L1309.9,313.2L1308,313.4L1306.3,314.3L1305.1,315.8L1304.6,317.7L1305.4,321.4Z" fill="#ff0000"/>
<path d="M1311.5,320.1L1311.8,322.2L1312.7,324.1L1311.5,327.1L1311.7,329L1312.6,330.9L1311.7,332.8L1311.5,334.6L1313.1,338.1L1313.1,342.6L1313.7,343.7L1314.9,344.3L1319.7,344.3L1320.8,343.7L1321.4,342.6L1321.5,338.4L1323.1,335.9L1323.3,334L1322.2,331.4L1323.5,328.3L1323.3,326.4L1322.5,324.7L1323.3,322.3L1322.5,319.1L1323.3,315.7L1322.2,312.9L1323.2,311L1323.4,307.6L1322.3,304.9L1320.8,303.7L1318.9,303.1L1316.2,303.7L1312.1,308L1311.6,310.7L1312.1,312.8L1311.8,315.1L1312.6,317.3Z" fill="#0000ff"/>
<path d="M1317,320.7L1316.8,345.3L1317.6,346.1L1318.7,346.4L1322.4,346.1L1323.5,344.2L1323.5,313.4L1324.7,311.1L1324.9,309.1L1323.2,305.4L1321.5,304.6L1318.5,304.9L1316.8,305.8L1315.6,307.3L1315.1,309.1L1315.6,311.8L1317.7,314.2Z" fill="#ff0000"/>
<path d="M1310,322.3L1310,344.2L1311.1,346.1L1313.8,346.4L1314.9,346.1L1316,344.2L1316,320L1316.4,317.2L1315.5,314.6L1313,312.9L1311.1,312.7L1309.2,313.2L1307.7,314.4L1306.8,316.1L1306.6,318L1307.1,319.9L1308.3,321.4Z" fill="#ff0000"/>
<path d="M1311.3,310.8L1311.4,315.9L1312.3,318.4L1311.4,320.3L1311.1,322.2L1312.3,325.2L1311.3,328L1312.2,331.3L1311.3,334.6L1311.8,336.4L1313,338.2L1313.1,342.6L1313.7,343.7L1314.8,344.3L1320.7,344.3L1321.9,343.7L1322.6,340.9L1324,338.6L1324.2,336.8L1323.7,334.9L1324.5,332.4L1324.3,330.5L1323,328.2L1324.2,325.4L1323.4,322.2L1324.1,320.6L1324.3,318.7L1323.8,316.9L1322.6,315.4L1322.4,312.4L1321.2,310.4L1321.9,307.1L1320.8,304.4L1319.3,303.2L1317.5,302.6L1315.5,302.9L1313.9,303.8L1312.3,306.1L1312.1,308.4Z" fill="#0000ff"/>
<path d="M1319.2,315.1L1320,317.9L1319.5,319.8L1320,322.6L1319.2,325L1320,328.3L1319.4,330.3L1320.1,333.3L1319.4,335.5L1319.6,337.3L1321,339.6L1321.1,342.4L1321.7,343.7L1323,344.4L1326.7,344.3L1327.9,343.7L1328.5,342.6L1328.6,339.9L1329.8,338.4L1330.3,336.6L1329.5,333.4L1330.3,331.8L1330.5,329.9L1329.4,326.9L1330.3,324.4L1329.5,321.2L1330.3,319.6L1330.5,317.7L1328.6,312L1327,310.3L1327.5,308.5L1327.2,306.6L1326.3,304.9L1324.8,303.7L1323,303.1L1321.1,303.4L1319.4,304.3L1318.2,305.8L1317.6,308.5L1318.2,310.3L1319.7,312.1Z" fill="#ff0000"/>
<path d="M1320.9,319.4L1322.7,320.6L1322.6,344.2L1323.6,346.1L1327.9,346.4L1329,346.1L1330.1,344.2L1330.1,318.5L1328.9,316.6L1328.4,313.3L1327.2,311.8L1325.5,310.9L1323.6,310.7L1321.8,311.2L1320.3,312.4L1319.3,314.1L1319.1,316L1319.7,317.9Z" fill="#0000ff"/>
<path d="M1327.1,342.2L1327.6,344.3L1328.6,345.5L1331.3,346.4L1333.2,346.2L1334.5,345.5L1335.5,344.3L1336,342.6L1336,311.1L1335.4,309.3L1334.2,307.8L1331.5,306.7L1329.6,306.9L1327.9,307.8L1326.7,309.3L1326.2,311.1L1326.4,313.1L1327.2,315Z" fill="#ff0000"/>
<path d="M1332.4,327.4L1332.1,329.5L1332.8,331.7L1332,334.8L1332.6,336.6L1333.6,338L1333.6,342.4L1334.3,343.7L1336,344.4L1341.7,344.4L1343.4,343.7L1344,342.6L1344.2,340.5L1345.6,338.8L1346.1,336.9L1345.9,334.9L1345.1,333.3L1346.1,330.5L1345.4,327.5L1346.1,324.4L1345,321.6L1345.8,319.2L1346,314.8L1344.9,312L1342.6,310L1342,306.3L1340.8,304.8L1339.1,303.9L1337.2,303.7L1335.3,304.2L1333.1,306L1332.2,307.8L1332.2,311.1L1333.5,313.7L1332.4,315.2L1331.9,317.1L1332.1,319L1332.9,320.6L1331.7,323.6Z" fill="#0000ff"/>
<path d="M1339.7,316.2L1340.3,343.5L1341,344.9L1343,346.2L1347.2,346.2L1349.2,344.9L1350.1,342.2L1349.8,316.2L1348.4,313.4L1346.9,312.2L1345,311.7L1343.1,311.9L1341.4,312.8L1340.2,314.3Z" fill="#ff0000"/>
<path d="M1342.1,342.2L1342.7,344.3L1343.7,345.5L1346.3,346.4L1348.7,346.2L1350.1,345.5L1351.1,344.3L1351.6,342.6L1351.6,320.3L1349.9,316.4L1348.4,315.2L1346.5,314.7L1344.6,314.9L1342.9,315.8L1341.7,317.3L1341.2,319.2L1341.4,321.1L1342.3,323Z" fill="#0000ff"/>
<path d="M1349.6,331.8L1348.7,333.7L1348.5,335.5L1349,337.3L1350.1,338.7L1350.2,342.4L1350.8,343.7L1352.6,344.4L1356.7,344.4L1358,343.7L1358.6,342L1358.6,336.8L1360,335L1360.5,333.1L1360.3,331.2L1359.4,329.5L1360.6,326.5L1359.8,323.1L1360.7,320.6L1360.6,316.8L1360,314.9L1358.1,312.9L1356.9,309.9L1355.4,308.7L1353.6,308.2L1351.7,308.4L1350,309.3L1348.8,310.8L1348.2,312.7L1348.4,315.6L1349.3,318.2L1348.6,321.3L1350,324.4L1348.4,326.8L1348.2,328.8Z" fill="#ff0000"/>
<path d="M1354.5,320.5L1354.4,326L1355.3,328.5L1354.5,330.2L1354.3,332.1L1354.8,334L1356.2,335.9L1356.2,342.6L1356.8,343.7L1358,344.3L1362.4,344.3L1363.5,343.7L1364.1,342.6L1364.2,339.1L1365.3,337.7L1365.8,335.9L1365.6,334.1L1364.9,332.6L1366.1,329.6L1365.4,326.5L1366.1,322.8L1364.9,320.1L1363.1,318.6L1362.5,314.8L1360.4,312.7L1358.6,312.2L1356.7,312.4L1355,313.3L1353.8,314.8L1353.2,317.5Z" fill="#0000ff"/>
<path d="M1357.5,325.5L1358.6,327.8L1357.8,329.4L1357.7,331.2L1359.2,334.6L1359.2,342L1359.9,343.7L1361.6,344.4L1369.3,344.4L1371,343.7L1371.7,342L1371.7,336.4L1373.1,334.5L1373.7,332.6L1373.6,328.8L1372.5,326.1L1367.1,322.2L1365.3,319.8L1362.6,318.7L1360.7,318.9L1358.4,320.4L1357.2,323.2Z" fill="#ff0000"/>
<path d="M1370.5,316.2L1370.3,322.2L1371.6,325.3L1370.6,327.9L1371.5,331.3L1370.7,332.9L1370.5,334.7L1371.1,336.5L1372.2,338.2L1372.3,342.6L1372.9,343.7L1374,344.3L1378.9,344.3L1380,343.7L1380.8,341.3L1382.1,339.6L1382.7,337.8L1382.4,335.8L1381.7,334.3L1382.6,330.9L1381.5,328.1L1382.6,325.3L1381.8,322.1L1382.6,318.8L1381.4,315.9L1379.6,314.4L1379.1,311.3L1377,309.2L1375.1,308.7L1373.2,308.9L1371.5,309.8L1370.3,311.3L1369.8,314Z" fill="#0000ff"/>
<path d="M1375.4,320.1L1376,323.6L1375.5,326.8L1376.1,329L1375.3,332.2L1377.3,336.4L1377.3,342.6L1377.9,343.7L1379,344.3L1381.9,344.3L1383,343.7L1383.6,342.6L1383.7,336.7L1385.1,334.8L1385.7,333L1385.5,331L1384.5,329L1385.6,325.5L1385.1,322.7L1385.6,320.7L1385.4,318.8L1384.6,316.3L1383.4,314.8L1381.7,313.9L1379.8,313.7L1377.9,314.2L1376.4,315.4L1375.5,317.1Z" fill="#ff0000"/>
<path d="M1384.9,338.2L1386.3,340L1386.3,342.6L1386.9,343.7L1388.1,344.3L1403,344.3L1404.1,343.7L1404.7,342.6L1404.8,335.6L1406.5,332.2L1406.3,330.3L1405.2,328.4L1406.6,325.3L1406.4,323.4L1405.1,321.2L1406.6,318L1406.7,314.8L1406.2,312.9L1400.8,307.9L1399.1,305.2L1396.7,304.1L1394.4,301.3L1391.7,300.1L1389,300.7L1386.9,302.8L1386.3,304.6L1386.7,307.2L1385.1,309L1384.6,310.9L1385.5,314.3L1384.5,317L1385.3,320.2L1384.5,323.5L1385.7,326.5L1384.7,329.2L1385.6,332.5L1384.6,334.4L1384.4,336.3Z" fill="#ff0000"/>
<path d="M1389.3,344.2L1390.4,346.1L1391.5,346.4L1396.2,346.1L1397.3,344.2L1397.3,322L1397.7,319.2L1396.7,316.6L1395,315.2L1393.2,314.7L1391.3,314.9L1389.6,315.8L1388.4,317.3L1387.8,319.2L1388.1,321.1L1389.4,323.5Z" fill="#0000ff"/>
<path d="M1393.9,319.2L1394.5,343.5L1395.2,344.9L1396.4,345.8L1398.5,346.4L1400.4,346.2L1402.4,344.9L1403.2,342.6L1403.5,318.1L1402.6,316.4L1401.1,315.2L1399.2,314.7L1397.3,314.9L1395.6,315.8L1394.4,317.3Z" fill="#0000ff"/>
<path d="M1400.6,313L1400.9,318.4L1402.1,320.5L1400.8,322.7L1400.6,324.5L1401.2,326.3L1402.2,327.7L1401.1,329.2L1400.6,331L1401.2,334L1400.4,336.3L1400.6,338.2L1402.3,340.7L1402.4,342.6L1403,343.7L1404.7,344.4L1409.5,344.3L1410.6,343.7L1411.2,342.6L1411.4,340.5L1412.5,339L1413.1,337.2L1412.9,335.3L1411.7,333.2L1412.8,331.8L1413.3,329.9L1413.1,327.9L1411.6,325.6L1413.1,322.4L1412.9,320.5L1411.9,318.6L1412.7,315.4L1411.2,312.1L1410.7,308.8L1409.5,307.3L1407.8,306.4L1405.9,306.2L1404,306.7L1402.5,307.9L1401.6,309.6Z" fill="#ff0000"/>
<path d="M1405.4,312.7L1405.8,321.2L1406.8,323.9L1405.9,325.6L1405.8,327.4L1407,330.3L1405.6,332.6L1405.4,334.6L1405.9,336.4L1407.3,338.1L1407.4,342.6L1408,343.7L1409.1,344.3L1414,344.3L1415.1,343.7L1415.7,342.6L1415.9,340.8L1417.3,339L1417.8,337.2L1417.6,335.2L1416.8,333.5L1417.7,330.8L1417,327.7L1417.7,324.6L1416.7,321.9L1417.5,319.6L1417.3,317.7L1416.4,316.1L1415,314.9L1415.2,312.7L1414.7,310.8L1413.5,309.3L1411.8,308.4L1408.8,308.4L1406.5,309.9Z" fill="#0000ff"/>
<path d="M1408.5,322.4L1409.4,325.6L1408.8,328.5L1409.5,330.7L1408.6,334L1409.1,335.8L1410.4,337.6L1410.4,342.6L1411,343.7L1412.1,344.3L1416,344.3L1417.2,343.7L1417.8,342.6L1417.9,338.6L1419.2,337L1419.7,335.1L1418.9,331.8L1419.8,329.3L1419,326L1419.7,323.6L1419.5,321.7L1418.6,320L1416.5,317.8L1414.8,316.9L1412.9,316.7L1411,317.2L1409.5,318.4L1408.6,320.1Z" fill="#ff0000"/>
<path d="M1414.3,328.4L1414.6,345.3L1416.5,346.4L1420.7,346.1L1421.8,344.2L1421.8,321.8L1420.7,319.9L1415.9,318.9L1414.1,319.4L1412.6,320.6L1411.4,323.4L1411.6,325.3L1412.6,327Z" fill="#0000ff"/>
<path d="M1418.4,313.2L1418.6,318.8L1419.6,321.4L1418.5,324.3L1418.7,326.2L1419.6,328L1418.8,331.2L1420.4,336.4L1420.4,342.6L1421,343.7L1422.2,344.3L1426.1,344.3L1427.2,343.7L1427.8,342.6L1427.9,338.1L1429.3,336.2L1429.8,334.4L1429,331.2L1429.8,328.7L1429.1,325.5L1429.8,322.3L1428.8,319.5L1429.9,316.6L1429.6,313.3L1428.6,311.6L1425.6,309.2L1423.8,308.7L1421.9,308.9L1420.2,309.8L1419,311.3Z" fill="#ff0000"/>
<path d="M1426.7,307.1L1426.7,313.5L1427.6,316L1426.8,319.1L1427.8,321.6L1426.7,324.4L1427.5,327.7L1426.7,330.9L1427.7,333.5L1426.5,336.4L1426.7,338.4L1428.3,340.8L1428.5,342.6L1429.1,343.7L1430.4,344.4L1435.1,344.3L1436.2,343.7L1436.8,342.6L1436.9,338.9L1438.1,337.2L1438.6,335.4L1437.7,332.1L1438.6,330.3L1438.8,328.4L1437.3,325.2L1438.9,321.9L1438.1,318.6L1438.8,316.5L1438.6,314.6L1436.4,311.5L1435.8,306.3L1434.6,304.8L1432.9,303.9L1429.9,303.9L1428.2,304.8Z" fill="#ff0000"/>
<path d="M1430,315.2L1430.6,343.5L1431.3,344.9L1432.5,345.8L1434.6,346.4L1437,346.2L1439,344.9L1439.9,342.2L1439.6,314.1L1438.7,312.4L1437.2,311.2L1435.3,310.7L1433.4,310.9L1431.7,311.8L1430.5,313.3Z" fill="#0000ff"/>
<path d="M1434,317.2L1434.6,343.5L1435.3,344.9L1436.5,345.8L1438.6,346.4L1440.2,346.2L1442.2,344.9L1443.1,342.6L1443.1,320.5L1443.8,318L1443.6,316.1L1442.7,314.4L1441.2,313.2L1439.3,312.7L1437.4,312.9L1435.7,313.8L1434.5,315.3Z" fill="#ff0000"/>
<path d="M1439.5,309.1L1439.8,317.5L1440.5,319.7L1439.8,322.6L1440.5,324.8L1439.8,327.9L1440.8,330.7L1439.8,332.6L1439.6,334.5L1440.2,336.3L1441.4,338.1L1441.5,342.6L1442.1,343.7L1443.2,344.3L1447.6,344.3L1448.8,343.7L1449.4,342.6L1449.5,339.4L1450.7,337.9L1451.2,336.1L1451,334.3L1449.8,332.1L1450.9,330.6L1451.4,328.7L1450.7,325.5L1451.3,322.5L1450.7,320.7L1449.6,319.2L1451,317L1451,314.1L1449.1,311.4L1449.3,309.1L1448.8,307.3L1447.6,305.8L1445.9,304.9L1442.9,304.9L1440.6,306.4Z" fill="#0000ff"/>
<path d="M1442.8,313.8L1442.6,319.1L1443.3,321.4L1442.5,324.7L1443.4,327.2L1442.9,329.8L1443.9,332.5L1443,334.4L1442.8,336.2L1443.3,338L1444.4,339.5L1444.5,342.6L1445.1,343.7L1446.2,344.3L1451.1,344.3L1452.3,343.7L1452.9,342.6L1453,340L1454.4,338.2L1454.9,336.4L1454.7,334.4L1453.7,332.5L1454.6,330.8L1454.8,328.9L1453.4,325.8L1454.8,322.6L1454.3,319.7L1454.9,316.8L1453.7,314L1451.7,312.3L1451.6,309.6L1450.1,307.3L1448.4,306.4L1446.5,306.2L1444.7,306.7L1443.1,307.9L1442,310.6Z" fill="#ff0000"/>
<path d="M1451.8,314.4L1452.4,316.6L1453.5,318.1L1452.4,319.6L1451.8,321.4L1452,323.2L1453,325.1L1451.9,327.8L1452.7,330.9L1451.7,332.8L1451.5,334.7L1452.1,336.6L1453.4,338.3L1453.5,342.6L1454.1,343.7L1455.3,344.3L1460.2,344.3L1461.3,343.7L1461.9,342.6L1462,340.3L1463.3,338.7L1463.9,336.9L1463.6,335L1462.7,333.2L1463.7,331.3L1464,329.3L1463.4,327.4L1462.3,325.9L1463.6,323.7L1463.9,321.8L1462.5,318.7L1463.4,316.9L1463.4,314.1L1461,310.7L1461.2,306.6L1459.6,304.3L1457.9,303.4L1456,303.1L1454.2,303.7L1452.7,304.9L1451.5,307.6L1452.2,310.6Z" fill="#0000ff"/>
<path d="M1459.7,310.8L1460.2,315.3L1461.2,317.2L1460.1,318.7L1459.6,320.6L1460.3,323.7L1459.7,326.7L1460.6,329.3L1459.9,332.4L1461.5,335.8L1461.6,342.6L1462.2,343.7L1463.3,344.3L1469.7,344.3L1470.8,343.7L1471.4,342.6L1471.6,338.4L1472.9,336.7L1473.4,334.8L1472.8,331.8L1473.5,328.7L1472.7,326.3L1473.5,323.1L1472.3,320.1L1473.2,316.8L1472.1,313.9L1473.2,311.8L1473.2,308.9L1472.3,307.2L1470.8,306L1466.9,304.7L1465,304.9L1462.3,306.3L1460.3,309Z" fill="#ff0000"/>
<path d="M1460,316.4L1460,344.2L1461.1,346.1L1463.8,346.4L1464.9,346.1L1466,344.2L1466,310.5L1465.3,308.8L1462.5,306.9L1460.6,306.7L1458.7,307.2L1457.2,308.4L1456.3,310.1L1456.1,312L1456.6,313.9L1457.8,315.4Z" fill="#0000ff"/>
<path d="M1462.5,313.3L1462.3,315.5L1463.3,318.2L1462.4,320.6L1463.2,323.7L1462.4,326L1463.1,328.9L1462.2,332.2L1462.8,334L1464.1,335.8L1464.1,342.6L1464.7,343.7L1465.8,344.3L1470.7,344.3L1471.9,343.7L1472.5,342.6L1472.5,337.8L1474,335.9L1474.5,334L1474.3,332L1473.4,330.2L1474.4,327.4L1473.7,324.3L1474.4,321.2L1473.9,319.3L1472.6,317.7L1472.5,314.6L1471,311.8L1471.4,310L1471.2,308.1L1470.3,306.4L1468.8,305.2L1466.9,304.7L1465,304.9L1463.3,305.8L1462.1,307.3L1461.6,309.1Z" fill="#ff0000"/>
<path d="M1471,344.2L1472.1,346.1L1473.2,346.4L1477.4,346.1L1478.5,344.2L1478.5,322.8L1479.5,319.2L1478.9,317.3L1477.7,315.8L1475,314.7L1473.1,314.9L1471.4,315.8L1470.2,317.3L1469.6,319.2L1469.8,321.1L1471.2,323.5Z" fill="#0000ff"/>
<path d="M1474.1,299.1L1474.7,304.4L1476.1,305.2L1474.9,308.2L1475.1,310.4L1476.1,312.5L1475,315.3L1475.8,318.5L1474.8,321.2L1475.6,324.4L1474.8,327.6L1476.2,330.7L1475,332.8L1474.8,334.7L1475.4,336.5L1476.6,338.2L1476.6,342.6L1477.2,343.7L1478.6,344.4L1487.3,344.3L1488.4,343.7L1489,342.6L1489.1,337.6L1490.3,335.8L1490.9,334L1490.7,332.1L1489.7,330.2L1490.7,327.6L1490.1,324.8L1490.9,322.5L1490,319.1L1490.4,317.3L1490.2,315.3L1489.3,313.7L1487.5,312.1L1486.9,310L1485,308L1483.5,305.4L1484.3,303.5L1484.2,300.5L1483.4,297.3L1482.2,295.8L1479.5,294.6L1476.8,295.2L1474.7,297.3Z" fill="#ff0000"/>
<path d="M1480.7,323.1L1480.9,345.3L1482.8,346.4L1485.5,346.1L1486.6,344.2L1486.8,317.7L1485.8,314.9L1484.1,313.7L1482.3,313.2L1480.4,313.4L1478.7,314.3L1477.5,315.8L1477,317.7L1477.2,319.6L1478.1,321.3Z" fill="#0000ff"/>
<path d="M1485.7,302.1L1486.3,306.7L1485.9,309.4L1487.1,312.5L1486,315.3L1486.8,318.6L1486.1,320.8L1486.7,323.5L1485.8,326.9L1487,330L1486.2,331.7L1486,333.5L1487.6,337L1487.7,342.6L1488.3,343.7L1489.6,344.4L1498,344.3L1499.1,343.7L1499.7,342.6L1499.8,339L1501.5,335.6L1500.6,332.3L1501.5,328.9L1500.4,326.1L1501.4,324.2L1501.6,322.3L1501.1,320.5L1499.6,318.7L1498.9,315.7L1496.9,313.7L1497.8,311.4L1497.1,306.8L1496,304.7L1495,300.3L1493.8,298.8L1492.1,297.8L1489.1,297.8L1486.8,299.4Z" fill="#0000ff"/>
<path d="M1491.1,322.2L1491.3,343.5L1492,344.9L1493.2,345.8L1495.3,346.4L1496.7,346.2L1498.7,344.9L1499.6,342.6L1499.6,320.7L1497.5,315.3L1495.4,313.2L1493.5,312.7L1491.6,312.9L1489.9,313.8L1488.7,315.3L1488.2,317.2L1488.4,319.1L1489.3,320.8Z" fill="#ff0000"/>
<path d="M1496.2,320.2L1496.2,342.6L1496.7,344.3L1497.7,345.5L1499,346.2L1500.8,346.4L1502.5,345.9L1503.7,344.9L1504.6,342.2L1504.6,315.7L1504.2,313.8L1503.4,312.7L1498.5,310.7L1496.6,310.9L1494.3,312.4L1493.2,315.2L1493.4,317.1L1494.3,318.8Z" fill="#0000ff"/>
<path d="M1500.7,309.6L1501.8,318.5L1503.2,320.7L1502.1,322.2L1501.6,323.9L1502.3,326.9L1501.4,329.5L1502.3,332.7L1501.5,335.8L1502.1,337.6L1503.1,339L1503.2,342.6L1503.8,343.7L1505,344.3L1509.3,344.3L1510.5,343.7L1511.1,342.6L1511.2,339.7L1512.3,338.2L1512.8,336.5L1512.6,334.7L1511.6,332.8L1513.1,329.6L1512.8,327.7L1511.9,325.9L1512.8,322.5L1511.7,319.7L1512.7,317.7L1513.1,314.8L1512.5,312.9L1510.6,310.8L1510.3,308.6L1508.8,306.3L1507.1,305.4L1505.2,305.2L1503.4,305.7L1501.9,306.9Z" fill="#0000ff"/>
<path d="M1503.8,315.9L1506.6,318.6L1507,322.2L1506.4,325.2L1507.5,328.7L1506.5,330.7L1506.2,332.7L1506.8,334.6L1508.2,336.7L1508.2,342.6L1508.8,343.7L1510,344.3L1512.9,344.3L1514,343.7L1514.6,342.6L1514.7,337L1515.9,335.3L1516.4,333.5L1515.4,329.4L1516.4,326.8L1515.9,323L1516.6,320.8L1516.4,315.7L1515.4,314.1L1513,312.3L1511.3,309.8L1509.6,308.9L1506.7,308.9L1504.4,310.4L1503.2,313.2Z" fill="#ff0000"/>
<path d="M1508.5,325.4L1510.3,326.6L1510.2,344.2L1511.3,346.1L1514.5,346.4L1515.6,346.1L1516.7,344.2L1516.7,320.5L1515.9,318.9L1513.1,316.9L1511.2,316.7L1509.4,317.2L1507.9,318.4L1507,320.1L1506.7,322L1507.3,323.9Z" fill="#0000ff"/>
<path d="M1515.3,310.5L1515,313.1L1515.8,315.4L1515.1,318.4L1515.7,320.4L1515,323.5L1516.2,326.5L1515.2,328.5L1515,330.3L1516.2,333.2L1515.2,335.2L1515,337.1L1515.5,338.8L1516.7,340.3L1516.8,342.6L1517.4,343.7L1519.1,344.4L1535.3,344.4L1537.1,343.7L1537.7,342.6L1537.8,340.5L1539.1,338.9L1539.7,337L1538.9,333.7L1539.7,330.4L1539.2,328.5L1537.8,326.9L1538.4,324.9L1538.2,323L1536,320.2L1535.7,316.3L1534.7,312.3L1533.3,310.4L1530.4,309.1L1528.9,303.1L1528,301.4L1526.5,300.2L1524.6,299.6L1522.7,299.8L1521,300.8L1515.6,306.1L1515,308Z" fill="#ff0000"/>
<path d="M1526.9,328.8L1529.3,330.6L1529.5,345.3L1531.4,346.4L1534.6,346.1L1535.7,344.2L1535.7,323.8L1535.3,322.5L1531.2,320.7L1529.2,320.9L1526.9,322.4L1525.8,325.2L1526,327.1Z" fill="#0000ff"/>
<path d="M1536.3,342.2L1536.8,344.3L1537.8,345.5L1540.5,346.4L1542.9,346.2L1544.2,345.5L1545.2,344.3L1545.7,342.6L1545.6,323.5L1544,321.2L1544.2,319.2L1543.6,317.3L1542.4,315.8L1539.7,314.7L1537.8,314.9L1536.1,315.8L1534.9,317.3L1534.3,319.2L1534.9,321.9L1536.4,323.7Z" fill="#0000ff"/>
<path d="M1542.3,320.2L1542.5,343.5L1543.2,344.9L1544.4,345.8L1546.5,346.4L1548.9,346.2L1550.8,344.9L1551.8,342.2L1551.8,316.7L1550.6,313.3L1549.4,311.8L1547.8,310.9L1543.8,310.7L1542,311.2L1540.5,312.4L1539.3,315.2L1539.6,317.1L1540.5,318.8Z" fill="#ff0000"/>
<path d="M1546.9,296.6L1547.9,301.6L1549.1,303.2L1548.1,304.6L1547.5,306.3L1547.7,308.2L1548.9,310.3L1547.9,311.8L1547.3,313.6L1547.6,315.5L1548.8,317.7L1547.6,319.7L1547.4,321.6L1548,323.5L1549,324.9L1547.9,326.4L1547.4,328.2L1547.6,330.1L1549,332.3L1547.6,334.5L1547.6,337.5L1549.2,339.8L1549.4,342.6L1550,343.7L1551.1,344.3L1561.5,344.3L1562.6,343.7L1563.2,342.6L1563.3,338.9L1564.9,335.5L1564.4,332.7L1565.2,329.4L1563.8,326.2L1565.2,323.1L1564.5,320.1L1565.3,316.9L1564.1,314.1L1561.4,312.4L1560.8,309.4L1561.2,306.6L1560.6,303.4L1560.6,300L1559.1,297.7L1556.8,296.5L1556.2,294.8L1555,293.3L1552.2,292.1L1550.3,292.3L1548,293.9Z" fill="#ff0000"/>
<path d="M1549,318.8L1551.4,320.6L1551.3,344.2L1552.4,346.1L1556.1,346.4L1557.2,346.1L1558.3,344.2L1558.3,313.8L1557.2,311.9L1552.4,310.7L1550.5,311.2L1549,312.4L1547.9,315.2L1548.1,317.1Z" fill="#0000ff"/>
<path d="M1554.6,317.4L1556.5,318.6L1556.5,343.5L1557.2,344.9L1558.4,345.8L1560.5,346.4L1562.1,346.2L1564.1,344.9L1565,342.2L1565,316.7L1564.3,314.3L1562.7,312.9L1561.6,310.4L1559.3,308.9L1557.4,308.7L1555.5,309.2L1554,310.4L1553.1,312.1L1552.9,314L1553.4,315.9Z" fill="#0000ff"/>
<path d="M1560.5,314.6L1561.4,317.6L1560.5,320.9L1561.5,323.6L1560.5,326.3L1561.3,329.7L1560.6,332.8L1561.1,334.5L1562.3,336.3L1562.3,342L1563,343.7L1564.7,344.4L1576,344.4L1577.7,343.7L1578.3,342.4L1578.4,339L1579.5,337.5L1580.1,335.7L1579.9,333.9L1579,332.2L1579.9,330.4L1580.1,328.5L1578.9,325.6L1580.1,323.5L1580.3,321.6L1579.1,318.9L1576.7,317.3L1575.1,309.3L1573.9,307.8L1571.6,306.2L1569.8,305.7L1567.9,305.9L1561.5,310L1560.6,311.7Z" fill="#ff0000"/>
<path d="M1573.7,323.6L1575.5,324.8L1575.6,343.5L1576.3,344.9L1577.5,345.8L1579.6,346.4L1581,346.2L1582.9,344.9L1583.8,342.6L1583.9,321.7L1582.7,318.8L1580,316L1578.3,315.1L1576.4,314.9L1574.6,315.4L1573.1,316.6L1572.2,318.3L1572,320.2L1572.5,322.1Z" fill="#0000ff"/>
<path d="M1578.5,310.6L1578.8,316.4L1579.6,319L1578.8,320.6L1578.6,322.5L1579.9,325.7L1578.8,328.5L1579.4,331.5L1578.5,334.1L1578.7,336L1580.4,338.4L1580.4,342.4L1581.1,343.7L1582.4,344.4L1587.1,344.3L1588.2,343.7L1588.8,342.6L1589,340.8L1590.1,339.3L1590.7,337.5L1590.5,335.6L1589.6,333.8L1590.8,330.7L1590.6,328.8L1589.8,327.1L1590.8,324.5L1590,321.2L1590.7,319L1590.5,317.1L1588.4,314.3L1588.3,310.6L1587.8,308.8L1586.6,307.3L1584.9,306.4L1581.9,306.4L1579.6,307.9Z" fill="#ff0000"/>
<path d="M1581.3,332.9L1580.6,336.6L1581.2,338.5L1582.4,340.1L1582.5,342.6L1583.1,343.7L1584.9,344.4L1589.9,344.4L1591.2,343.7L1591.9,342.4L1592,339.9L1593.1,338.4L1593.6,336.6L1593,333.7L1593.7,331.5L1593.2,328.7L1593.9,326.4L1593.4,323.5L1593.8,320.8L1592.7,318L1589.7,315.2L1587.8,314.7L1584.4,315.1L1582.7,316.1L1581.5,317.6L1580.9,320.3L1581.6,322.5L1580.8,324.9L1581.6,328.2L1580.9,330.5Z" fill="#0000ff"/>
<path d="M1588.1,317L1590.6,318.8L1590.4,344.2L1591.5,346.1L1595.2,346.4L1596.3,346.1L1597.4,344.2L1597.4,311.8L1596.3,309.9L1591.5,308.9L1589.6,309.4L1588.1,310.6L1587,313.4L1587.2,315.3Z" fill="#0000ff"/>
<path d="M1591.8,314.7L1592.4,317.1L1593.5,318.6L1592.4,320.2L1591.8,321.9L1592.6,325L1591.8,328.2L1593.2,331.2L1591.7,333.5L1591.7,336.5L1593.4,339L1593.5,342.4L1594.1,343.7L1595.4,344.4L1600.1,344.3L1601.3,343.7L1601.9,342.6L1602,340.2L1603.1,338.7L1603.7,336.9L1602.7,333.6L1603.6,331.8L1603.8,329.9L1602.4,326.7L1603.7,324.6L1603.9,322.6L1602.4,319.4L1603.5,317.3L1603.7,315.5L1603.2,313.7L1601.4,311.7L1600.5,310L1600.8,307.1L1600.3,305.3L1598.2,303.2L1596.4,302.6L1594.4,302.9L1592.8,303.8L1591.5,305.3L1591,308L1592,310.7Z" fill="#ff0000"/>
<path d="M1600.5,318.4L1600.7,343.5L1601.4,344.9L1602.6,345.8L1604.7,346.4L1607.1,346.2L1609,344.9L1610,342.2L1610,316.7L1609.2,314.3L1607.3,312.7L1606.2,310.6L1604.7,309.4L1602.9,308.9L1601,309.1L1599.3,310L1598.1,311.5L1597.5,313.4L1597.7,315.3L1598.7,317Z" fill="#0000ff"/>
<path d="M1605.8,302.6L1605.7,309L1606.6,312L1606,315.3L1606.7,317.5L1605.7,320.4L1606.5,323.7L1605.7,327L1606.9,330L1606,331.8L1605.8,333.6L1607.5,337.1L1607.6,342.6L1608.2,343.7L1609.3,344.3L1615.7,344.3L1616.8,343.7L1617.4,342.6L1617.5,340.3L1618.7,338.9L1619.2,337.1L1619,335.3L1617.9,333.2L1619.3,330.2L1618.7,327.3L1619.5,324L1618.4,321.2L1619.3,318.8L1619.1,316.9L1618.2,315.3L1616,313.7L1615.2,310.6L1615.5,309L1615,306.2L1615.4,303.6L1614.8,301.8L1613.6,300.3L1610.9,299.1L1609,299.3L1607.3,300.3Z" fill="#0000ff"/>
<path d="M1614.5,342.2L1615,344.3L1616,345.5L1618.7,346.4L1620.6,346.2L1622,345.5L1623,344.3L1623.5,342.6L1623.5,303.7L1623.1,301.8L1622.2,300.6L1619.8,299.5L1617.6,299.7L1616.3,300.4L1615.2,301.9L1614.7,304Z" fill="#ff0000"/>
<rect x="1607" y="299.6" width="10" height="44.8" rx="5" fill="#0000ff"/>
<rect x="1606.6" y="303.1" width="12.6" height="41.3" rx="5" fill="#ff0000"/>
<rect x="1609.2" y="317.7" width="12.6" height="26.7" rx="5" fill="#0000ff"/>
<rect x="1611.9" y="310.4" width="12.6" height="34" rx="5" fill="#ff0000"/>
<rect x="1614" y="300.1" width="10" height="44.3" rx="5" fill="#ff0000"/>
<rect x="1614.5" y="315.9" width="12.6" height="28.5" rx="5" fill="#0000ff"/>
<rect x="1617" y="310.6" width="10" height="33.8" rx="5" fill="#0000ff"/>
<rect x="1617.1" y="313" width="12.6" height="31.4" rx="5" fill="#ff0000"/>
<rect x="1619.8" y="308.4" width="12.6" height="36" rx="5" fill="#0000ff"/>
<rect x="1622.4" y="295.9" width="12.6" height="48.5" rx="5" fill="#ff0000"/>
<rect x="1624.1" y="285.7" width="10" height="58.7" rx="5" fill="#0000ff"/>
<rect x="1626.1" y="312.1" width="10" height="32.3" rx="5" fill="#ff0000"/>
<rect x="1625.1" y="329.2" width="12.6" height="15.2" rx="5" fill="#0000ff"/>
<rect x="1627.7" y="316" width="12.6" height="28.4" rx="5" fill="#ff0000"/>
<rect x="1631.1" y="313.6" width="10" height="30.8" rx="5" fill="#ff0000"/>
<rect x="1630.6" y="319.6" width="12.2" height="24.8" rx="5" fill="#0000ff"/>
<rect x="1632.6" y="323.1" width="11.8" height="21.3" rx="5" fill="#ff0000"/>
<rect x="1634.4" y="322.8" width="11.8" height="21.6" rx="5" fill="#0000ff"/>
<rect x="1636.1" y="319.9" width="11.8" height="24.5" rx="5" fill="#ff0000"/>
<rect x="1637.6" y="309.1" width="10" height="35.3" rx="5" fill="#0000ff"/>
<rect x="1637.9" y="315" width="11.8" height="29.4" rx="5" fill="#0000ff"/>
<rect x="1639.7" y="315.8" width="11.8" height="28.6" rx="5" fill="#ff0000"/>
<rect x="1641.4" y="324.9" width="11.8" height="19.5" rx="5" fill="#0000ff"/>
<rect x="1643.2" y="313.2" width="11.8" height="31.2" rx="5" fill="#ff0000"/>
<rect x="1645.1" y="308.6" width="10" height="35.8" rx="5" fill="#ff0000"/>
<rect x="1645" y="327.6" width="11.8" height="16.8" rx="5" fill="#0000ff"/>
<rect x="1646.7" y="319.7" width="11.8" height="24.7" rx="5" fill="#ff0000"/>
<rect x="1648.5" y="313.6" width="11.8" height="30.8" rx="5" fill="#0000ff"/>
<rect x="1651.1" y="306.6" width="10" height="37.8" rx="5" fill="#ff0000"/>
<rect x="1650.3" y="308.9" width="11.8" height="35.5" rx="5" fill="#ff0000"/>
<rect x="1652.1" y="321.2" width="11.8" height="23.2" rx="5" fill="#0000ff"/>
<rect x="1654.7" y="308.6" width="10" height="35.8" rx="5" fill="#0000ff"/>
<rect x="1653.8" y="320.9" width="11.8" height="23.5" rx="5" fill="#ff0000"/>
<rect x="1655.6" y="318.6" width="11.8" height="25.8" rx="5" fill="#0000ff"/>
<rect x="1657.4" y="310.3" width="11.8" height="34.1" rx="5" fill="#ff0000"/>
<rect x="1659.1" y="316.6" width="11.8" height="27.8" rx="5" fill="#0000ff"/>
<rect x="1660.9" y="305.7" width="11.8" height="38.7" rx="5" fill="#ff0000"/>
<rect x="1662.2" y="303.1" width="10" height="41.3" rx="5" fill="#0000ff"/>
<rect x="1662.7" y="311.8" width="11.8" height="32.6" rx="5" fill="#0000ff"/>
<rect x="1664.5" y="308.9" width="11.8" height="35.5" rx="5" fill="#ff0000"/>
<rect x="1666.2" y="314.5" width="11.8" height="29.9" rx="5" fill="#0000ff"/>
<rect x="1667.2" y="301.6" width="10" height="42.8" rx="5" fill="#ff0000"/>
<rect x="1668" y="300.5" width="11.8" height="43.9" rx="5" fill="#ff0000"/>
<rect x="1669.8" y="299.3" width="11.8" height="45.1" rx="5" fill="#0000ff"/>
<rect x="1671.5" y="288.6" width="11.8" height="55.8" rx="5" fill="#ff0000"/>
<rect x="1673.2" y="281.5" width="10" height="62.9" rx="5" fill="#ff0000"/>
<rect x="1673.3" y="301" width="11.8" height="43.4" rx="5" fill="#0000ff"/>
<rect x="1675.1" y="306.6" width="11.8" height="37.8" rx="5" fill="#ff0000"/>
<rect x="1677.2" y="310.6" width="10" height="33.8" rx="5" fill="#ff0000"/>
<rect x="1676.8" y="315.9" width="11.8" height="28.5" rx="5" fill="#0000ff"/>
<rect x="1678.6" y="317.4" width="11.8" height="27" rx="5" fill="#ff0000"/>
<rect x="1680.4" y="316.6" width="11.8" height="27.8" rx="5" fill="#0000ff"/>
<rect x="1682.2" y="308.5" width="11.8" height="35.9" rx="5" fill="#ff0000"/>
<rect x="1683.2" y="299.1" width="10" height="45.3" rx="5" fill="#0000ff"/>
<rect x="1683.9" y="319" width="11.8" height="25.4" rx="5" fill="#0000ff"/>
<rect x="1685.3" y="313.6" width="10" height="30.8" rx="5" fill="#0000ff"/>
<rect x="1685.7" y="322.5" width="11.8" height="21.9" rx="5" fill="#ff0000"/>
<rect x="1687.5" y="322.3" width="11.8" height="22.1" rx="5" fill="#0000ff"/>
<rect x="1689.2" y="302.3" width="11.8" height="42.1" rx="5" fill="#ff0000"/>
<rect x="1691" y="304.3" width="11.8" height="40.1" rx="5" fill="#0000ff"/>
<rect x="1693.3" y="289.5" width="10" height="54.9" rx="5" fill="#ff0000"/>
<rect x="1692.8" y="299.5" width="11.8" height="44.9" rx="5" fill="#ff0000"/>
<rect x="1694.5" y="305.5" width="11.8" height="38.9" rx="5" fill="#0000ff"/>
<rect x="1696.4" y="301.8" width="11.6" height="42.6" rx="5" fill="#ff0000"/>
<rect x="1697.9" y="301.4" width="11.5" height="43" rx="5" fill="#0000ff"/>
<rect x="1699.4" y="300.7" width="11.5" height="43.7" rx="5" fill="#ff0000"/>
<rect x="1700.9" y="304.9" width="11.5" height="39.5" rx="5" fill="#0000ff"/>
<rect x="1702.4" y="294.9" width="11.5" height="49.5" rx="5" fill="#ff0000"/>
<rect x="1703.3" y="289.5" width="10" height="54.9" rx="5" fill="#0000ff"/>
<rect x="1703.8" y="307.1" width="11.5" height="37.3" rx="5" fill="#0000ff"/>
<rect x="1705.8" y="296" width="10" height="48.4" rx="5" fill="#ff0000"/>
<rect x="1705.3" y="308.1" width="11.5" height="36.3" rx="5" fill="#ff0000"/>
<rect x="1706.8" y="316.3" width="11.5" height="28.1" rx="5" fill="#0000ff"/>
<rect x="1708.3" y="308.1" width="11.5" height="36.3" rx="5" fill="#ff0000"/>
<rect x="1709.7" y="316.8" width="11.5" height="27.6" rx="5" fill="#0000ff"/>
<rect x="1711.2" y="307" width="11.5" height="37.4" rx="5" fill="#ff0000"/>
<rect x="1713.3" y="306.6" width="10" height="37.8" rx="5" fill="#ff0000"/>
<rect x="1712.7" y="315.8" width="11.5" height="28.6" rx="5" fill="#0000ff"/>
<rect x="1714.2" y="314.2" width="11.5" height="30.2" rx="5" fill="#ff0000"/>
<rect x="1715.7" y="312.3" width="11.5" height="32.1" rx="5" fill="#0000ff"/>
<rect x="1717.1" y="301.4" width="11.5" height="43" rx="5" fill="#ff0000"/>
<rect x="1718.6" y="308.3" width="11.5" height="36.1" rx="5" fill="#0000ff"/>
<rect x="1720.4" y="292.5" width="10" height="51.9" rx="5" fill="#ff0000"/>
<rect x="1720.1" y="304.5" width="11.5" height="39.9" rx="5" fill="#ff0000"/>
<rect x="1721.6" y="317.6" width="11.5" height="26.8" rx="5" fill="#0000ff"/>
<rect x="1722.9" y="305.1" width="10" height="39.3" rx="5" fill="#0000ff"/>
<rect x="1723" y="310.4" width="11.5" height="34" rx="5" fill="#ff0000"/>
<rect x="1724.5" y="315" width="11.5" height="29.4" rx="5" fill="#0000ff"/>
<rect x="1726" y="309.1" width="11.5" height="35.3" rx="5" fill="#ff0000"/>
<rect x="1727.5" y="317.1" width="11.5" height="27.3" rx="5" fill="#0000ff"/>
<rect x="1728.9" y="306.6" width="11.5" height="37.8" rx="5" fill="#ff0000"/>
<rect x="1730.4" y="309" width="11.5" height="35.4" rx="5" fill="#0000ff"/>
<rect x="1731.9" y="303.5" width="11.5" height="40.9" rx="5" fill="#ff0000"/>
<rect x="1733.4" y="301.2" width="11.5" height="43.2" rx="5" fill="#0000ff"/>
<rect x="1734.4" y="294.5" width="10" height="49.9" rx="5" fill="#0000ff"/>
<rect x="1735.4" y="309.6" width="10" height="34.8" rx="5" fill="#ff0000"/>
<rect x="1734.8" y="309.6" width="11.5" height="34.8" rx="5" fill="#ff0000"/>
<rect x="1736.5" y="294" width="10" height="50.4" rx="5" fill="#0000ff"/>
<rect x="1736.3" y="313.1" width="11.5" height="31.3" rx="5" fill="#0000ff"/>
<rect x="1737.8" y="318.6" width="11.5" height="25.8" rx="5" fill="#ff0000"/>
<rect x="1739" y="308.6" width="10" height="35.8" rx="5" fill="#ff0000"/>
<rect x="1739.3" y="322.9" width="11.5" height="21.5" rx="5" fill="#0000ff"/>
<rect x="1740.7" y="314.9" width="11.5" height="29.5" rx="5" fill="#ff0000"/>
<rect x="1742.2" y="317" width="11.5" height="27.4" rx="5" fill="#0000ff"/>
<rect x="1743.7" y="316.1" width="11.5" height="28.3" rx="5" fill="#ff0000"/>
<rect x="1745" y="308.6" width="10" height="35.8" rx="5" fill="#ff0000"/>
<rect x="1745.4" y="309.1" width="10" height="35.3" rx="5" fill="#ff0000"/>
<rect x="1745.2" y="328.6" width="11.5" height="15.8" rx="5" fill="#0000ff"/>
<rect x="1746.6" y="318.4" width="11.5" height="26" rx="5" fill="#ff0000"/>
<rect x="1748.1" y="320.6" width="11.5" height="23.8" rx="5" fill="#0000ff"/>
<rect x="1749.6" y="317.7" width="11.5" height="26.7" rx="5" fill="#ff0000"/>
<rect x="1751.1" y="314.6" width="11.5" height="29.8" rx="5" fill="#0000ff"/>
<rect x="1752.6" y="312.1" width="11.5" height="32.3" rx="5" fill="#ff0000"/>
<rect x="1754" y="322.9" width="11.5" height="21.5" rx="5" fill="#0000ff"/>
<rect x="1755.5" y="311.1" width="11.5" height="33.3" rx="5" fill="#ff0000"/>
<rect x="1756.5" y="302.6" width="10" height="41.8" rx="5" fill="#ff0000"/>
<rect x="1756.6" y="302.6" width="10" height="41.8" rx="5" fill="#ff0000"/>
<rect x="1757" y="316.7" width="11.5" height="27.7" rx="5" fill="#0000ff"/>
<rect x="1758.5" y="311.4" width="11.5" height="33" rx="5" fill="#ff0000"/>
<rect x="1759.9" y="322.2" width="11.5" height="22.2" rx="5" fill="#0000ff"/>
<rect x="1762.1" y="310.6" width="10" height="33.8" rx="5" fill="#0000ff"/>
<rect x="1761.4" y="323" width="11.5" height="21.4" rx="5" fill="#ff0000"/>
<rect x="1762.5" y="309.6" width="10" height="34.8" rx="5" fill="#0000ff"/>
<rect x="1762.9" y="312.3" width="11.5" height="32.1" rx="5" fill="#0000ff"/>
<rect x="1764.5" y="303.6" width="10" height="40.8" rx="5" fill="#ff0000"/>
<rect x="1764.6" y="313.7" width="10.9" height="30.7" rx="5" fill="#ff0000"/>
<rect x="1765.3" y="320.3" width="10.4" height="24.1" rx="5" fill="#0000ff"/>
<rect x="1765.6" y="314.3" width="10.4" height="30.1" rx="5" fill="#ff0000"/>
<rect x="1766" y="318.7" width="10.4" height="25.7" rx="5" fill="#0000ff"/>
<rect x="1766.3" y="312.9" width="10.4" height="31.5" rx="5" fill="#ff0000"/>
<rect x="1766.7" y="315" width="10.4" height="29.4" rx="5" fill="#0000ff"/>
<rect x="1767.1" y="301.6" width="10" height="42.8" rx="5" fill="#ff0000"/>
<rect x="1767.1" y="310" width="10.4" height="34.4" rx="5" fill="#ff0000"/>
<rect x="1767.4" y="314.5" width="10.4" height="29.9" rx="5" fill="#0000ff"/>
<rect x="1767.8" y="305.9" width="10.4" height="38.5" rx="5" fill="#ff0000"/>
<rect x="1768.1" y="322.1" width="10.4" height="22.3" rx="5" fill="#0000ff"/>
<rect x="1768.5" y="312.9" width="10.4" height="31.5" rx="5" fill="#ff0000"/>
<rect x="1768.8" y="314.2" width="10.4" height="30.2" rx="5" fill="#0000ff"/>
<rect x="1769.2" y="313.6" width="10.4" height="30.8" rx="5" fill="#ff0000"/>
<rect x="1769.5" y="319.6" width="10.4" height="24.8" rx="5" fill="#0000ff"/>
<rect x="1769.9" y="313.4" width="10.4" height="31" rx="5" fill="#ff0000"/>
<rect x="1770.1" y="307.6" width="10" height="36.8" rx="5" fill="#0000ff"/>
<rect x="1770.2" y="318.1" width="10.4" height="26.3" rx="5" fill="#0000ff"/>
<rect x="1770.6" y="314.8" width="10.4" height="29.6" rx="5" fill="#ff0000"/>
<rect x="1771" y="321.1" width="10.4" height="23.3" rx="5" fill="#0000ff"/>
<rect x="1771.3" y="314.7" width="10.4" height="29.7" rx="5" fill="#ff0000"/>
<rect x="1771.7" y="318" width="10.4" height="26.4" rx="5" fill="#0000ff"/>
<rect x="1772" y="307.5" width="10.4" height="36.9" rx="5" fill="#ff0000"/>
<rect x="1772.4" y="314" width="10.4" height="30.4" rx="5" fill="#0000ff"/>
<rect x="1772.7" y="308.3" width="10.4" height="36.1" rx="5" fill="#ff0000"/>
<rect x="1773.1" y="318.1" width="10.4" height="26.3" rx="5" fill="#0000ff"/>
<rect x="1773.4" y="315" width="10.4" height="29.4" rx="5" fill="#ff0000"/>
<rect x="1773.8" y="320.3" width="10.4" height="24.1" rx="5" fill="#0000ff"/>
<rect x="1774.1" y="313.5" width="10.4" height="30.9" rx="5" fill="#ff0000"/>
<rect x="1774.5" y="319.8" width="10.4" height="24.6" rx="5" fill="#0000ff"/>
<rect x="1774.9" y="306.7" width="10.4" height="37.7" rx="5" fill="#ff0000"/>
<rect x="1775.2" y="319.3" width="10.4" height="25.1" rx="5" fill="#0000ff"/>
<rect x="1775.6" y="310.5" width="10.4" height="33.9" rx="5" fill="#ff0000"/>
<rect x="1775.9" y="307.9" width="10.4" height="36.5" rx="5" fill="#0000ff"/>
<rect x="1776.3" y="302.5" width="10.4" height="41.9" rx="5" fill="#ff0000"/>
<rect x="1776.6" y="300.1" width="10" height="44.3" rx="5" fill="#ff0000"/>
<rect x="1776.6" y="307" width="10.4" height="37.4" rx="5" fill="#0000ff"/>
<rect x="1777" y="312.8" width="10.4" height="31.6" rx="5" fill="#ff0000"/>
<rect x="1777.3" y="313.6" width="10.4" height="30.8" rx="5" fill="#0000ff"/>
<rect x="1777.7" y="308.9" width="10.4" height="35.5" rx="5" fill="#ff0000"/>
<rect x="1778" y="322.1" width="10.4" height="22.3" rx="5" fill="#0000ff"/>
<rect x="1778.4" y="314.8" width="10.4" height="29.6" rx="5" fill="#ff0000"/>
<rect x="1778.8" y="317.6" width="10.4" height="26.8" rx="5" fill="#0000ff"/>
<rect x="1779.1" y="311.6" width="10" height="32.8" rx="5" fill="#0000ff"/>
<rect x="1779.1" y="315.3" width="10.4" height="29.1" rx="5" fill="#ff0000"/>
<rect x="1779.5" y="324.8" width="10.4" height="19.6" rx="5" fill="#0000ff"/>
<rect x="1779.8" y="315.1" width="10.4" height="29.3" rx="5" fill="#ff0000"/>
<rect x="1780.2" y="320.9" width="10.4" height="23.5" rx="5" fill="#0000ff"/>
<rect x="1780.5" y="320.8" width="10.4" height="23.6" rx="5" fill="#ff0000"/>
<rect x="1780.9" y="323.2" width="10.4" height="21.2" rx="5" fill="#0000ff"/>
<rect x="1781.2" y="316.2" width="10.4" height="28.2" rx="5" fill="#ff0000"/>
<rect x="1781.6" y="323.2" width="10.4" height="21.2" rx="5" fill="#0000ff"/>
<rect x="1782" y="312.7" width="10.4" height="31.7" rx="5" fill="#ff0000"/>
<rect x="1782.3" y="321.7" width="10.4" height="22.7" rx="5" fill="#0000ff"/>
<rect x="1782.7" y="316.8" width="10.4" height="27.6" rx="5" fill="#ff0000"/>
<rect x="1783" y="318.6" width="10.4" height="25.8" rx="5" fill="#0000ff"/>
<rect x="1783.4" y="313" width="10.4" height="31.4" rx="5" fill="#ff0000"/>
<rect x="1783.7" y="328.3" width="10.4" height="16.1" rx="5" fill="#0000ff"/>
<rect x="1784.2" y="309.6" width="10" height="34.8" rx="5" fill="#ff0000"/>
<rect x="1784.1" y="317" width="10.4" height="27.4" rx="5" fill="#ff0000"/>
<rect x="1784.4" y="317.8" width="10.4" height="26.6" rx="5" fill="#0000ff"/>
<rect x="1784.8" y="316.9" width="10.4" height="27.5" rx="5" fill="#ff0000"/>
<rect x="1785.1" y="325.1" width="10.4" height="19.3" rx="5" fill="#0000ff"/>
<rect x="1785.5" y="309.3" width="10.4" height="35.1" rx="5" fill="#ff0000"/>
<rect x="1785.9" y="312.7" width="10.4" height="31.7" rx="5" fill="#0000ff"/>
<rect x="1786.2" y="309.5" width="10.4" height="34.9" rx="5" fill="#ff0000"/>
<rect x="1786.6" y="321.3" width="10.4" height="23.1" rx="5" fill="#0000ff"/>
<rect x="1786.9" y="308.4" width="10.4" height="36" rx="5" fill="#ff0000"/>
<rect x="1787.3" y="319.9" width="10.4" height="24.5" rx="5" fill="#0000ff"/>
<rect x="1787.6" y="312.9" width="10.4" height="31.5" rx="5" fill="#ff0000"/>
<rect x="1788" y="316.5" width="10.4" height="27.9" rx="5" fill="#0000ff"/>
<rect x="1788.3" y="306.7" width="10.4" height="37.7" rx="5" fill="#ff0000"/>
<rect x="1788.7" y="321.3" width="10.4" height="23.1" rx="5" fill="#0000ff"/>
<rect x="1789" y="311.8" width="10.4" height="32.6" rx="5" fill="#ff0000"/>
<rect x="1789.4" y="313.7" width="10.4" height="30.7" rx="5" fill="#0000ff"/>
<rect x="1789.8" y="304.3" width="10.4" height="40.1" rx="5" fill="#ff0000"/>
<rect x="1790.1" y="314.3" width="10.4" height="30.1" rx="5" fill="#0000ff"/>
<rect x="1790.5" y="305" width="10.4" height="39.4" rx="5" fill="#ff0000"/>
<rect x="1790.8" y="312.1" width="10.4" height="32.3" rx="5" fill="#0000ff"/>
<rect x="1791.2" y="303" width="10.4" height="41.4" rx="5" fill="#ff0000"/>
<rect x="1791.5" y="311.7" width="10.4" height="32.7" rx="5" fill="#0000ff"/>
<rect x="1791.9" y="298.9" width="10.4" height="45.5" rx="5" fill="#ff0000"/>
<rect x="1792.2" y="296.1" width="10" height="48.3" rx="5" fill="#0000ff"/>
<rect x="1792.2" y="307.4" width="10.4" height="37" rx="5" fill="#0000ff"/>
<rect x="1792.6" y="311.8" width="10.4" height="32.6" rx="5" fill="#ff0000"/>
<rect x="1793" y="319.2" width="10.4" height="25.2" rx="5" fill="#0000ff"/>
<rect x="1793.3" y="308.2" width="10.4" height="36.2" rx="5" fill="#ff0000"/>
<rect x="1793.7" y="322.7" width="10.4" height="21.7" rx="5" fill="#0000ff"/>
<rect x="1794" y="312" width="10.4" height="32.4" rx="5" fill="#ff0000"/>
<rect x="1794.2" y="306.6" width="10" height="37.8" rx="5" fill="#ff0000"/>
<rect x="1794.4" y="325.7" width="10.4" height="18.7" rx="5" fill="#0000ff"/>
<rect x="1794.7" y="316.7" width="10.4" height="27.7" rx="5" fill="#ff0000"/>
<rect x="1795.1" y="318.2" width="10.4" height="26.2" rx="5" fill="#0000ff"/>
<rect x="1795.4" y="311.1" width="10.4" height="33.3" rx="5" fill="#ff0000"/>
<rect x="1795.8" y="312.4" width="10.4" height="32" rx="5" fill="#0000ff"/>
<rect x="1796.1" y="317.9" width="10.4" height="26.5" rx="5" fill="#ff0000"/>
<rect x="1796.5" y="312.7" width="10.4" height="31.7" rx="5" fill="#0000ff"/>
<rect x="1796.9" y="317.1" width="10.4" height="27.3" rx="5" fill="#ff0000"/>
<rect x="1797.2" y="325.5" width="10.4" height="18.9" rx="5" fill="#0000ff"/>
<rect x="1797.6" y="314.3" width="10.4" height="30.1" rx="5" fill="#ff0000"/>
<rect x="1797.9" y="314.3" width="10.4" height="30.1" rx="5" fill="#0000ff"/>
<rect x="1798.3" y="317.4" width="10.4" height="27" rx="5" fill="#ff0000"/>
<rect x="1798.6" y="325.5" width="10.4" height="18.9" rx="5" fill="#0000ff"/>
<rect x="1799" y="315.5" width="10.4" height="28.9" rx="5" fill="#ff0000"/>
<rect x="1799.3" y="318.8" width="10.4" height="25.6" rx="5" fill="#0000ff"/>
<rect x="1799.7" y="311.8" width="10.4" height="32.6" rx="5" fill="#ff0000"/>
<rect x="1800" y="316.4" width="10.4" height="28" rx="5" fill="#0000ff"/>
<rect x="1800.4" y="309.8" width="10.4" height="34.6" rx="5" fill="#ff0000"/>
<rect x="1800.8" y="320.9" width="10.4" height="23.5" rx="5" fill="#0000ff"/>
<rect x="1801.1" y="312.2" width="10.4" height="32.2" rx="5" fill="#ff0000"/>
<rect x="1801.5" y="314.1" width="10.4" height="30.3" rx="5" fill="#0000ff"/>
<rect x="1801.8" y="308.4" width="10.4" height="36" rx="5" fill="#ff0000"/>
<rect x="1802.2" y="320.6" width="10.4" height="23.8" rx="5" fill="#0000ff"/>
<rect x="1802.5" y="310.4" width="10.4" height="34" rx="5" fill="#ff0000"/>
<rect x="1802.9" y="318.1" width="10.4" height="26.3" rx="5" fill="#0000ff"/>
<rect x="1803.2" y="305.1" width="10" height="39.3" rx="5" fill="#0000ff"/>
<rect x="1803.2" y="310.6" width="10.4" height="33.8" rx="5" fill="#ff0000"/>
<rect x="1803.6" y="323" width="10.4" height="21.4" rx="5" fill="#0000ff"/>
<rect x="1803.9" y="316.5" width="10.4" height="27.9" rx="5" fill="#ff0000"/>
<rect x="1804.3" y="310.7" width="10.4" height="33.7" rx="5" fill="#0000ff"/>
<rect x="1804.7" y="308.5" width="10.4" height="35.9" rx="5" fill="#ff0000"/>
<rect x="1805" y="314.7" width="10.4" height="29.7" rx="5" fill="#0000ff"/>
<rect x="1805.4" y="316.8" width="10.4" height="27.6" rx="5" fill="#ff0000"/>
<rect x="1805.7" y="320.7" width="10.4" height="23.7" rx="5" fill="#0000ff"/>
<rect x="1806.1" y="309.3" width="10.4" height="35.1" rx="5" fill="#ff0000"/>
<rect x="1806.4" y="312.4" width="10.4" height="32" rx="5" fill="#0000ff"/>
<rect x="1806.8" y="312.6" width="10.4" height="31.8" rx="5" fill="#ff0000"/>
<rect x="1807.1" y="320.8" width="10.4" height="23.6" rx="5" fill="#0000ff"/>
<rect x="1807.5" y="315.1" width="10.4" height="29.3" rx="5" fill="#ff0000"/>
<rect x="1807.9" y="313.5" width="10.4" height="30.9" rx="5" fill="#0000ff"/>
<rect x="1808.2" y="314.2" width="10.4" height="30.2" rx="5" fill="#ff0000"/>
<rect x="1808.6" y="317.9" width="10.4" height="26.5" rx="5" fill="#0000ff"/>
<rect x="1808.9" y="309.5" width="10.4" height="34.9" rx="5" fill="#ff0000"/>
<rect x="1809.2" y="302.1" width="10" height="42.3" rx="5" fill="#ff0000"/>
<rect x="1809.3" y="321.8" width="10.4" height="22.6" rx="5" fill="#0000ff"/>
<rect x="1809.6" y="306.4" width="10.4" height="38" rx="5" fill="#ff0000"/>
<rect x="1810" y="317.9" width="10.4" height="26.5" rx="5" fill="#0000ff"/>
<rect x="1810.3" y="304.5" width="10.4" height="39.9" rx="5" fill="#ff0000"/>
<rect x="1810.7" y="309.8" width="10.4" height="34.6" rx="5" fill="#0000ff"/>
<rect x="1811" y="313.4" width="10.4" height="31" rx="5" fill="#ff0000"/>
<rect x="1811.4" y="310.2" width="10.4" height="34.2" rx="5" fill="#0000ff"/>
<rect x="1811.8" y="311.4" width="10.4" height="33" rx="5" fill="#ff0000"/>
<rect x="1812.1" y="315.3" width="10.4" height="29.1" rx="5" fill="#0000ff"/>
<rect x="1812.5" y="312.1" width="10.4" height="32.3" rx="5" fill="#ff0000"/>
<rect x="1812.8" y="311.8" width="10.4" height="32.6" rx="5" fill="#0000ff"/>
<rect x="1813.2" y="306.3" width="10.4" height="38.1" rx="5" fill="#ff0000"/>
<rect x="1813.5" y="310.5" width="10.4" height="33.9" rx="5" fill="#0000ff"/>
<rect x="1813.9" y="311.8" width="10.4" height="32.6" rx="5" fill="#ff0000"/>
<rect x="1814.2" y="314.6" width="10.4" height="29.8" rx="5" fill="#0000ff"/>
<rect x="1814.6" y="312.5" width="10.4" height="31.9" rx="5" fill="#ff0000"/>
<rect x="1814.9" y="318.3" width="10.4" height="26.1" rx="5" fill="#0000ff"/>
<rect x="1815.3" y="303.2" width="10.4" height="41.2" rx="5" fill="#ff0000"/>
<rect x="1815.7" y="313.3" width="10.4" height="31.1" rx="5" fill="#0000ff"/>
<rect x="1816" y="302.6" width="10.4" height="41.8" rx="5" fill="#ff0000"/>
<rect x="1816.4" y="305.9" width="10.4" height="38.5" rx="5" fill="#0000ff"/>
<rect x="1816.7" y="302" width="10.4" height="42.4" rx="5" fill="#ff0000"/>
<rect x="1817.1" y="317.2" width="10.4" height="27.2" rx="5" fill="#0000ff"/>
<rect x="1817.3" y="299.1" width="10" height="45.3" rx="5" fill="#0000ff"/>
<rect x="1817.4" y="311.2" width="10.4" height="33.2" rx="5" fill="#ff0000"/>
<rect x="1817.8" y="319.8" width="10.4" height="24.6" rx="5" fill="#0000ff"/>
<rect x="1818.1" y="309.5" width="10.4" height="34.9" rx="5" fill="#ff0000"/>
<rect x="1818.5" y="320" width="10.4" height="24.4" rx="5" fill="#0000ff"/>
<rect x="1818.9" y="317.6" width="10.4" height="26.8" rx="5" fill="#ff0000"/>
<rect x="1819.2" y="319.8" width="10.4" height="24.6" rx="5" fill="#0000ff"/>
<rect x="1819.6" y="318.4" width="10.4" height="26" rx="5" fill="#ff0000"/>
<rect x="1819.9" y="320.9" width="10.4" height="23.5" rx="5" fill="#0000ff"/>
<rect x="1820.3" y="312.6" width="10" height="31.8" rx="5" fill="#ff0000"/>
<rect x="1820.3" y="315.3" width="10.4" height="29.1" rx="5" fill="#ff0000"/>
<rect x="1820.6" y="321.8" width="10.4" height="22.6" rx="5" fill="#0000ff"/>
<rect x="1821" y="323.5" width="10.4" height="20.9" rx="5" fill="#ff0000"/>
<rect x="1821.3" y="325.3" width="10.4" height="19.1" rx="5" fill="#0000ff"/>
<rect x="1821.7" y="323.2" width="10.4" height="21.2" rx="5" fill="#ff0000"/>
<rect x="1822" y="323.1" width="10.4" height="21.3" rx="5" fill="#0000ff"/>
<rect x="1822.4" y="315.4" width="10.4" height="29" rx="5" fill="#ff0000"/>
<rect x="1822.8" y="327" width="10.4" height="17.4" rx="5" fill="#0000ff"/>
<rect x="1823.1" y="320.7" width="10.4" height="23.7" rx="5" fill="#ff0000"/>
<rect x="1823.5" y="315.4" width="10.4" height="29" rx="5" fill="#0000ff"/>
<rect x="1823.8" y="318.3" width="10.4" height="26.1" rx="5" fill="#ff0000"/>
<rect x="1824.2" y="315.8" width="10.4" height="28.6" rx="5" fill="#0000ff"/>
<rect x="1824.5" y="311.5" width="10.4" height="32.9" rx="5" fill="#ff0000"/>
<rect x="1824.9" y="326.2" width="10.4" height="18.2" rx="5" fill="#0000ff"/>
<rect x="1825.3" y="307.6" width="10" height="36.8" rx="5" fill="#ff0000"/>
<rect x="1825.2" y="310" width="10.4" height="34.4" rx="5" fill="#ff0000"/>
<rect x="1825.6" y="317" width="10.4" height="27.4" rx="5" fill="#0000ff"/>
<rect x="1825.9" y="320.5" width="10.4" height="23.9" rx="5" fill="#ff0000"/>
<rect x="1826.3" y="319.6" width="10.4" height="24.8" rx="5" fill="#0000ff"/>
<rect x="1826.7" y="311" width="10.4" height="33.4" rx="5" fill="#ff0000"/>
<rect x="1827" y="316.1" width="10.4" height="28.3" rx="5" fill="#0000ff"/>
<rect x="1827.4" y="312.4" width="10.4" height="32" rx="5" fill="#ff0000"/>
<rect x="1827.7" y="324.2" width="10.4" height="20.2" rx="5" fill="#0000ff"/>
<rect x="1828.1" y="310.9" width="10.4" height="33.5" rx="5" fill="#ff0000"/>
<rect x="1828.4" y="326.5" width="10.4" height="17.9" rx="5" fill="#0000ff"/>
<rect x="1828.8" y="314" width="10.4" height="30.4" rx="5" fill="#ff0000"/>
<rect x="1829.1" y="327.4" width="10.4" height="17" rx="5" fill="#0000ff"/>
<rect x="1829.5" y="319.9" width="10.4" height="24.5" rx="5" fill="#ff0000"/>
<rect x="1829.8" y="318" width="10.4" height="26.4" rx="5" fill="#0000ff"/>
<rect x="1830.2" y="312.7" width="10.4" height="31.7" rx="5" fill="#ff0000"/>
<rect x="1830.6" y="320.6" width="10.4" height="23.8" rx="5" fill="#0000ff"/>
<rect x="1830.9" y="311.1" width="10.4" height="33.3" rx="5" fill="#ff0000"/>
<rect x="1831.3" y="323.1" width="10.4" height="21.3" rx="5" fill="#0000ff"/>
<rect x="1831.6" y="310.4" width="10.5" height="34" rx="5" fill="#ff0000"/>
<rect x="1832.1" y="314.2" width="10.6" height="30.2" rx="5" fill="#0000ff"/>
<rect x="1832.6" y="320.9" width="10.6" height="23.5" rx="5" fill="#ff0000"/>
<rect x="1833.3" y="308.1" width="10" height="36.3" rx="5" fill="#0000ff"/>
<rect x="1833.2" y="318.6" width="10.6" height="25.8" rx="5" fill="#0000ff"/>
<rect x="1833.8" y="318.4" width="10.6" height="26" rx="5" fill="#ff0000"/>
<rect x="1834.3" y="310.6" width="10" height="33.8" rx="5" fill="#ff0000"/>
<rect x="1834.3" y="332.7" width="10" height="11.7" rx="5" fill="#0000ff"/>
<rect x="1834.5" y="345" width="10.3" height="-0.6" rx="5" fill="#0000ff"/>
<circle cx="245.5" cy="114.1" r="5" fill="#0000ff"/>
<circle cx="245.5" cy="158.3" r="5" fill="#0000ff"/>
<circle cx="245.1" cy="239.6" r="5" fill="#0000ff"/>
<circle cx="245.1" cy="242.1" r="5" fill="#0000ff"/>
<circle cx="245.1" cy="244.6" r="5" fill="#0000ff"/>
<circle cx="245.1" cy="246.6" r="5" fill="#0000ff"/>
<circle cx="260" cy="298.6" r="5" fill="#0000ff"/>
<circle cx="383.9" cy="301.6" r="5" fill="#ff0000"/>
<circle cx="485.7" cy="302.1" r="5" fill="#0000ff"/>
<circle cx="655.8" cy="306.6" r="5" fill="#ff0000"/>
<circle cx="1016.5" cy="282.5" r="5" fill="#ff0000"/>
<circle cx="1182.1" cy="289.5" r="5" fill="#0000ff"/>
<circle cx="1264.3" cy="328.6" r="5" fill="#ff0000"/>
<circle cx="1314.5" cy="289.5" r="5" fill="#0000ff"/>
<circle cx="1314.5" cy="289.5" r="5" fill="#0000ff"/>
<circle cx="1353.1" cy="289.3" r="5" fill="#ff0000"/>
<circle cx="1365.7" cy="299.6" r="5" fill="#0000ff"/>
<circle cx="1370.2" cy="296" r="5" fill="#0000ff"/>
<circle cx="1629.1" cy="290.5" r="5" fill="#0000ff"/>
<circle cx="1629.1" cy="295.5" r="5" fill="#0000ff"/>
<circle cx="1629.1" cy="300.6" r="5" fill="#0000ff"/>
<circle cx="1775.6" cy="289.7" r="5" fill="#ff0000"/>
<circle cx="1837.3" cy="300.3" r="5" fill="#ff0000"/>
</g>
<path d="M137.7,247.9H1882.5" stroke="#000" stroke-width="1.6" stroke-dasharray="6.8 4.95 1.6 4.88" stroke-dashoffset="-6.1" fill="none"/>
<path d="M206.6,338.6V355M245.9,338.6V355M274,338.6V355M299.3,338.6V355M326.9,338.6V355M352.3,338.6V355M377.2,338.6V355M401.1,338.6V355M423.9,338.6V355M445.1,338.6V355M465.1,338.6V355M485.1,338.6V355M504.9,338.6V355M523,338.6V355M539.6,338.6V355M556.1,338.6V355M571.8,338.6V355M587.4,338.6V355M603.1,338.6V355M618.7,338.6V355M634,338.6V355M647.7,338.6V355M661.6,338.6V355M675.7,338.6V355M689,338.6V355M702.2,338.6V355M714.6,338.6V355M726.5,338.6V355M738.2,338.6V355M750.5,338.6V355M762.7,338.6V355M774.8,338.6V355M786.9,338.6V355M798,338.6V355M809.3,338.6V355M820.8,338.6V355M831.3,338.6V355M842,338.6V355M852.7,338.6V355M862.8,338.6V355M872.7,338.6V355M879.8,338.6V355M889.4,338.6V355M898.7,338.6V355M908.1,338.6V355M917.4,338.6V355M929.2,338.6V355M935.7,338.6V355M944.8,338.6V355M953.8,338.6V355M963.1,338.6V355M972,338.6V355M980.9,338.6V355M989.4,338.6V355M998.2,338.6V355M1006.8,338.6V355M1015.6,338.6V355M1024.7,338.6V355M1033,338.6V355M1041.6,338.6V355M1050,338.6V355M1058.5,338.6V355M1066.9,338.6V355M1075.3,338.6V355M1085.9,338.6V355M1092,338.6V355M1100.7,338.6V355M1108.6,338.6V355M1116,338.6V355M1123.5,338.6V355M1131.5,338.6V355M1139.6,338.6V355M1146.7,338.6V355M1154.2,338.6V355M1161.7,338.6V355M1169.2,338.6V355M1176.8,338.6V355M1184.3,338.6V355M1191.8,338.6V355M1198.3,338.6V355M1204.7,338.6V355M1211.2,338.6V355M1217.7,338.6V355M1224.1,338.6V355M1230.6,338.6V355M1237,338.6V355M1243.5,338.6V355M1249.2,338.6V355M1254.9,338.6V355M1260.5,338.6V355M1266.2,338.6V355M1271.9,338.6V355M1277.6,338.6V355M1283.3,338.6V355M1288.9,338.6V355M1294.6,338.6V355M1300.3,338.6V355M1306,338.6V355M1311.8,338.6V355M1317.2,338.6V355M1322.6,338.6V355M1328,338.6V355M1333,338.6V355M1338.4,338.6V355M1343.5,338.6V355M1348.6,338.6V355M1353.7,338.6V355M1358.4,338.6V355M1363.2,338.6V355M1367.3,338.6V355M1371.3,338.6V355M1375.4,338.6V355M1379.5,338.6V355M1383.6,338.6V355M1387.6,338.6V355M1391.7,338.6V355M1395.8,338.6V355M1399.8,338.6V355M1403.9,338.6V355M1408,338.6V355M1412,338.6V355M1416.1,338.6V355M1420.2,338.6V355M1424.3,338.6V355M1428.3,338.6V355M1432.4,338.6V355M1436,338.6V355" stroke="#1a1a1a" stroke-width="2" fill="none"/>
<path d="M1439.5,338.6V355M1443.1,338.6V355M1446.6,338.6V355M1450.2,338.6V355M1453.7,338.6V355M1457.3,338.6V355M1460.9,338.6V355M1464.4,338.6V355M1468,338.6V355M1471.5,338.6V355M1475.1,338.6V355M1478.7,338.6V355M1482.2,338.6V355M1485.8,338.6V355M1489.3,338.6V355M1492.9,338.6V355M1496.4,338.6V355M1500,338.6V355M1503.5,338.6V355M1507.1,338.6V355M1510.6,338.6V355M1514.2,338.6V355M1517.7,338.6V355M1521.3,338.6V355M1524.8,338.6V355" stroke="#1a1a1a" stroke-width="2.5" fill="none"/>
<path d="M1530.4,338.6V355M1531.8,338.6V355M1535,338.6V355M1537.5,338.6V355M1540.1,338.6V355M1542.6,338.6V355M1545.1,338.6V355M1547.7,338.6V355M1550.2,338.6V355M1552.7,338.6V355M1555.2,338.6V355M1557.8,338.6V355M1560.3,338.6V355M1562.8,338.6V355M1565.4,338.6V355M1567.9,338.6V355M1570.5,338.6V355M1573.2,338.6V355M1575.8,338.6V355M1578.5,338.6V355M1581.1,338.6V355M1583.8,338.6V355M1586.4,338.6V355M1589.1,338.6V355M1591.7,338.6V355M1594.4,338.6V355M1597,338.6V355M1599.7,338.6V355M1602.3,338.6V355M1604.9,338.6V355M1607.6,338.6V355M1610.2,338.6V355M1612.9,338.6V355M1615.5,338.6V355M1618.2,338.6V355M1620.8,338.6V355M1623.5,338.6V355M1626.1,338.6V355M1628.8,338.6V355M1631.4,338.6V355M1634.1,338.6V355M1636.7,338.6V355M1638.5,338.6V355M1640.2,338.6V355M1642,338.6V355M1643.8,338.6V355M1645.6,338.6V355M1647.3,338.6V355M1649.1,338.6V355M1650.9,338.6V355M1652.6,338.6V355M1654.4,338.6V355M1656.2,338.6V355M1657.9,338.6V355M1659.7,338.6V355M1661.5,338.6V355M1663.3,338.6V355M1665,338.6V355M1666.8,338.6V355M1668.6,338.6V355M1670.3,338.6V355M1672.1,338.6V355M1673.9,338.6V355M1675.6,338.6V355M1677.4,338.6V355M1679.2,338.6V355M1681,338.6V355M1682.7,338.6V355M1684.5,338.6V355M1686.3,338.6V355" stroke="#1a1a1a" stroke-width="1.3" fill="none"/>
<path d="M1688,338.6V355M1689.8,338.6V355M1691.6,338.6V355M1693.3,338.6V355M1695.1,338.6V355M1696.9,338.6V355M1698.7,338.6V355M1700.4,338.6V355M1702.2,338.6V355M1703.7,338.6V355M1705.2,338.6V355M1706.6,338.6V355M1708.1,338.6V355M1709.6,338.6V355M1711.1,338.6V355M1712.5,338.6V355M1714,338.6V355M1715.5,338.6V355M1717,338.6V355M1718.4,338.6V355M1719.9,338.6V355M1721.4,338.6V355M1722.9,338.6V355M1724.3,338.6V355M1725.8,338.6V355M1727.3,338.6V355M1728.8,338.6V355M1730.2,338.6V355M1731.7,338.6V355M1733.2,338.6V355M1734.7,338.6V355M1736.2,338.6V355M1737.6,338.6V355M1739.1,338.6V355M1740.6,338.6V355M1742.1,338.6V355M1743.5,338.6V355M1745,338.6V355M1746.5,338.6V355M1748,338.6V355M1749.4,338.6V355M1750.9,338.6V355M1752.4,338.6V355M1753.9,338.6V355M1755.3,338.6V355M1756.8,338.6V355M1758.3,338.6V355M1759.8,338.6V355M1761.2,338.6V355M1762.7,338.6V355M1764.2,338.6V355M1765.7,338.6V355M1767.1,338.6V355M1768.6,338.6V355M1770.1,338.6V355M1770.5,338.6V355M1770.8,338.6V355M1771.2,338.6V355M1771.5,338.6V355M1771.9,338.6V355M1772.2,338.6V355M1772.6,338.6V355M1772.9,338.6V355M1773.3,338.6V355M1773.6,338.6V355M1774,338.6V355M1774.4,338.6V355M1774.7,338.6V355M1775.1,338.6V355M1775.4,338.6V355M1775.8,338.6V355M1776.1,338.6V355M1776.5,338.6V355M1776.8,338.6V355M1777.2,338.6V355M1777.6,338.6V355M1777.9,338.6V355M1778.3,338.6V355M1778.6,338.6V355M1779,338.6V355M1779.3,338.6V355M1779.7,338.6V355M1780,338.6V355M1780.4,338.6V355M1780.7,338.6V355M1781.1,338.6V355M1781.5,338.6V355M1781.8,338.6V355M1782.2,338.6V355M1782.5,338.6V355M1782.9,338.6V355M1783.2,338.6V355M1783.6,338.6V355M1783.9,338.6V355M1784.3,338.6V355M1784.6,338.6V355M1785,338.6V355M1785.4,338.6V355M1785.7,338.6V355M1786.1,338.6V355M1786.4,338.6V355M1786.8,338.6V355M1787.1,338.6V355M1787.5,338.6V355M1787.8,338.6V355M1788.2,338.6V355M1788.5,338.6V355M1788.9,338.6V355M1789.3,338.6V355M1789.6,338.6V355M1790,338.6V355M1790.3,338.6V355M1790.7,338.6V355M1791,338.6V355M1791.4,338.6V355M1791.7,338.6V355M1792.1,338.6V355M1792.5,338.6V355M1792.8,338.6V355M1793.2,338.6V355M1793.5,338.6V355M1793.9,338.6V355M1794.2,338.6V355M1794.6,338.6V355M1794.9,338.6V355M1795.3,338.6V355M1795.6,338.6V355M1796,338.6V355M1796.4,338.6V355M1796.7,338.6V355M1797.1,338.6V355M1797.4,338.6V355M1797.8,338.6V355M1798.1,338.6V355M1798.5,338.6V355M1798.8,338.6V355M1799.2,338.6V355M1799.5,338.6V355M1799.9,338.6V355M1800.3,338.6V355M1800.6,338.6V355M1801,338.6V355M1801.3,338.6V355M1801.7,338.6V355M1802,338.6V355M1802.4,338.6V355M1802.7,338.6V355M1803.1,338.6V355M1803.4,338.6V355M1803.8,338.6V355M1804.2,338.6V355M1804.5,338.6V355M1804.9,338.6V355M1805.2,338.6V355M1805.6,338.6V355M1805.9,338.6V355M1806.3,338.6V355M1806.6,338.6V355M1807,338.6V355M1807.4,338.6V355M1807.7,338.6V355M1808.1,338.6V355M1808.4,338.6V355M1808.8,338.6V355M1809.1,338.6V355M1809.5,338.6V355M1809.8,338.6V355M1810.2,338.6V355M1810.5,338.6V355M1810.9,338.6V355M1811.3,338.6V355M1811.6,338.6V355M1812,338.6V355M1812.3,338.6V355M1812.7,338.6V355M1813,338.6V355M1813.4,338.6V355M1813.7,338.6V355M1814.1,338.6V355M1814.4,338.6V355M1814.8,338.6V355M1815.2,338.6V355M1815.5,338.6V355M1815.9,338.6V355M1816.2,338.6V355M1816.6,338.6V355M1816.9,338.6V355M1817.3,338.6V355M1817.6,338.6V355M1818,338.6V355M1818.4,338.6V355M1818.7,338.6V355M1819.1,338.6V355M1819.4,338.6V355M1819.8,338.6V355M1820.1,338.6V355M1820.5,338.6V355M1820.8,338.6V355M1821.2,338.6V355M1821.5,338.6V355M1821.9,338.6V355M1822.3,338.6V355M1822.6,338.6V355M1823,338.6V355M1823.3,338.6V355M1823.7,338.6V355M1824,338.6V355M1824.4,338.6V355M1824.7,338.6V355M1825.1,338.6V355M1825.4,338.6V355M1825.8,338.6V355M1826.2,338.6V355M1826.5,338.6V355M1826.9,338.6V355M1827.2,338.6V355M1827.6,338.6V355M1827.9,338.6V355M1828.3,338.6V355M1828.6,338.6V355M1829,338.6V355M1829.3,338.6V355M1829.7,338.6V355M1830.1,338.6V355M1830.4,338.6V355M1830.8,338.6V355M1831.1,338.6V355M1831.5,338.6V355M1831.8,338.6V355M1832.2,338.6V355M1832.5,338.6V355M1832.9,338.6V355M1833.3,338.6V355M1833.6,338.6V355M1834,338.6V355M1834.3,338.6V355M1834.7,338.6V355M1835,338.6V355M1835.4,338.6V355M1835.7,338.6V355M1836.1,338.6V355M1836.4,338.6V355M1836.8,338.6V355M1837.4,338.6V355M1837.9,338.6V355M1838.5,338.6V355M1839,338.6V355M1839.6,338.6V355" stroke="#000" stroke-width="1.6" fill="none"/>
<text transform="translate(206.6,395.2) scale(1,1.06)" text-anchor="middle" font-size="26.7">1</text>
<text transform="translate(245.9,395.2) scale(1,1.06)" text-anchor="middle" font-size="26.7">2</text>
<text transform="translate(299.3,395.2) scale(1,1.06)" text-anchor="middle" font-size="26.7">4</text>
<text transform="translate(352.3,395.2) scale(1,1.06)" text-anchor="middle" font-size="26.7">6</text>
<text transform="translate(401.1,395.2) scale(1,1.06)" text-anchor="middle" font-size="26.7">8</text>
<text transform="translate(465.1,395.2) scale(1,1.06)" text-anchor="middle" font-size="26.7">11</text>
<text transform="translate(523,395.2) scale(1,1.06)" text-anchor="middle" font-size="26.7">14</text>
<text transform="translate(587.4,395.2) scale(1,1.06)" text-anchor="middle" font-size="26.7">18</text>
<text transform="translate(647.7,395.2) scale(1,1.06)" text-anchor="middle" font-size="26.7">22</text>
<text transform="translate(702.2,395.2) scale(1,1.06)" text-anchor="middle" font-size="26.7">26</text>
<text transform="translate(762.7,395.2) scale(1,1.06)" text-anchor="middle" font-size="26.7">31</text>
<text transform="translate(820.8,395.2) scale(1,1.06)" text-anchor="middle" font-size="26.7">36</text>
<text transform="translate(872.7,395.2) scale(1,1.06)" text-anchor="middle" font-size="26.7">41</text>
<text transform="translate(929.2,395.2) scale(1,1.06)" text-anchor="middle" font-size="26.7">47</text>
<text transform="translate(980.9,395.2) scale(1,1.06)" text-anchor="middle" font-size="26.7">53</text>
<text transform="translate(1033,395.2) scale(1,1.06)" text-anchor="middle" font-size="26.7">59</text>
<text transform="translate(1085.9,395.2) scale(1,1.06)" text-anchor="middle" font-size="26.7">65</text>
<text transform="translate(1139.6,395.2) scale(1,1.06)" text-anchor="middle" font-size="26.7">72</text>
<text transform="translate(1191.8,395.2) scale(1,1.06)" text-anchor="middle" font-size="26.7">79</text>
<text transform="translate(1243.5,395.2) scale(1,1.06)" text-anchor="middle" font-size="26.7">87</text>
<text transform="translate(1300.3,395.2) scale(1,1.06)" text-anchor="middle" font-size="26.7">97</text>
<text transform="translate(1363.2,395.2) scale(1,1.06)" text-anchor="middle" font-size="26.7">109</text>
<text transform="translate(1432.4,395.2) scale(1,1.06)" text-anchor="middle" font-size="26.7">126</text>
<text transform="translate(1500,395.2) scale(1,1.06)" text-anchor="middle" font-size="26.7">145</text>
<text transform="translate(1567.9,395.2) scale(1,1.06)" text-anchor="middle" font-size="26.7">168</text>
<text transform="translate(1636.7,395.2) scale(1,1.06)" text-anchor="middle" font-size="26.7">194</text>
<text transform="translate(1702.2,395.2) scale(1,1.06)" text-anchor="middle" font-size="26.7">231</text>
<text transform="translate(1770.1,395.2) scale(1,1.06)" text-anchor="middle" font-size="26.7">277</text>
<text transform="translate(1836.8,395.2) scale(1,1.06)" text-anchor="middle" font-size="26.7">465</text>
<text transform="translate(1013.1,458.7) scale(1,1.06)" text-anchor="middle" font-size="26.7">Scaffolds</text>
<path d="M326,113.2H383.1" stroke="#000" stroke-width="1.8"/><path d="M292.6,113.2L326.4,104.8L326.4,121.7Z" fill="#000"/><text transform="translate(397.4,120.1) scale(1,1.06)" font-size="26.7">LCORL</text>
</g>
</svg></body></html>
